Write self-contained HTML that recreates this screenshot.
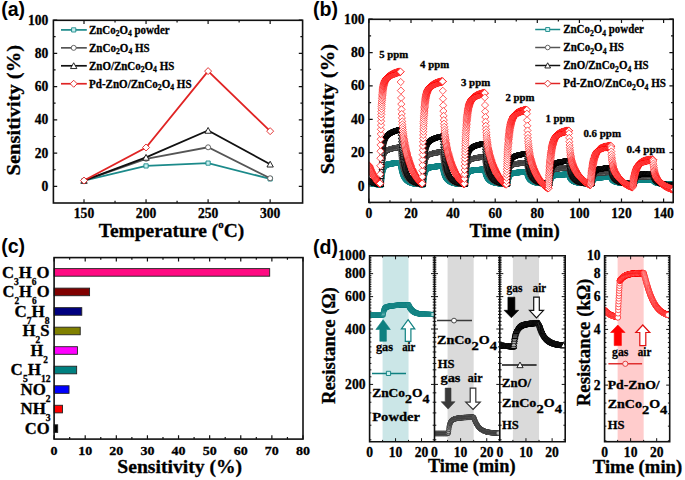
<!DOCTYPE html><html><head><meta charset="utf-8"><style>html,body{margin:0;padding:0;background:#fff;overflow:hidden}svg{display:block}</style></head><body>
<svg width="685" height="480" viewBox="0 0 685 480">
<rect width="685" height="480" fill="#fff"/>
<defs>
<marker id="mq" markerUnits="userSpaceOnUse" markerWidth="8" markerHeight="8" refX="4" refY="4" overflow="visible"><path d="M1.9 1.9h4.2v4.2h-4.2z" fill="#9fdede" stroke="#0f8585" stroke-width="0.9"/></marker>
<marker id="mc" markerUnits="userSpaceOnUse" markerWidth="8" markerHeight="8" refX="4" refY="4" overflow="visible"><circle cx="4" cy="4" r="2.3" fill="#fff" stroke="#3c3c3c" stroke-width="0.9"/></marker>
<marker id="mt" markerUnits="userSpaceOnUse" markerWidth="8" markerHeight="8" refX="4" refY="4" overflow="visible"><path d="M4 1.3l2.6 4.5h-5.2z" fill="#fff" stroke="#000" stroke-width="0.9"/></marker>
<marker id="md" markerUnits="userSpaceOnUse" markerWidth="8" markerHeight="8" refX="4" refY="4" overflow="visible"><path d="M4 0.4l3.6 3.6-3.6 3.6-3.6-3.6z" fill="#fff" stroke="#ff0000" stroke-width="0.65"/></marker>
</defs>
<path d="M84 203L84 199.2M84 20.3L84 24.1M115.03 203L115.03 200.8M115.03 20.3L115.03 22.5M146.05 203L146.05 199.2M146.05 20.3L146.05 24.1M177.07 203L177.07 200.8M177.07 20.3L177.07 22.5M208.1 203L208.1 199.2M208.1 20.3L208.1 24.1M239.12 203L239.12 200.8M239.12 20.3L239.12 22.5M270.15 203L270.15 199.2M270.15 20.3L270.15 24.1M53.4 186.4L57.2 186.4M302.6 186.4L298.8 186.4M53.4 169.76L55.6 169.76M302.6 169.76L300.4 169.76M53.4 153.13L57.2 153.13M302.6 153.13L298.8 153.13M53.4 136.49L55.6 136.49M302.6 136.49L300.4 136.49M53.4 119.86L57.2 119.86M302.6 119.86L298.8 119.86M53.4 103.22L55.6 103.22M302.6 103.22L300.4 103.22M53.4 86.58L57.2 86.58M302.6 86.58L298.8 86.58M53.4 69.95L55.6 69.95M302.6 69.95L300.4 69.95M53.4 53.31L57.2 53.31M302.6 53.31L298.8 53.31M53.4 36.68L55.6 36.68M302.6 36.68L300.4 36.68M53.4 20.04L57.2 20.04M302.6 20.04L298.8 20.04" stroke="#111" stroke-width="1.2" fill="none"/>
<rect x="53.4" y="20.3" width="249.2" height="182.7" fill="none" stroke="#111" stroke-width="1.6"/>
<text x="48.3" y="190.9" style="font-family:'Liberation Serif',serif;font-weight:bold;stroke:#000;stroke-width:0.3px;font-size:13.6px" text-anchor="end" fill="#000" >0</text>
<text x="48.3" y="157.63" style="font-family:'Liberation Serif',serif;font-weight:bold;stroke:#000;stroke-width:0.3px;font-size:13.6px" text-anchor="end" fill="#000" >20</text>
<text x="48.3" y="124.36" style="font-family:'Liberation Serif',serif;font-weight:bold;stroke:#000;stroke-width:0.3px;font-size:13.6px" text-anchor="end" fill="#000" >40</text>
<text x="48.3" y="91.08" style="font-family:'Liberation Serif',serif;font-weight:bold;stroke:#000;stroke-width:0.3px;font-size:13.6px" text-anchor="end" fill="#000" >60</text>
<text x="48.3" y="57.81" style="font-family:'Liberation Serif',serif;font-weight:bold;stroke:#000;stroke-width:0.3px;font-size:13.6px" text-anchor="end" fill="#000" >80</text>
<text x="48.3" y="24.54" style="font-family:'Liberation Serif',serif;font-weight:bold;stroke:#000;stroke-width:0.3px;font-size:13.6px" text-anchor="end" fill="#000" >100</text>
<text x="84" y="218.1" style="font-family:'Liberation Serif',serif;font-weight:bold;stroke:#000;stroke-width:0.3px;font-size:13.6px" text-anchor="middle" fill="#000" >150</text>
<text x="146.05" y="218.1" style="font-family:'Liberation Serif',serif;font-weight:bold;stroke:#000;stroke-width:0.3px;font-size:13.6px" text-anchor="middle" fill="#000" >200</text>
<text x="208.1" y="218.1" style="font-family:'Liberation Serif',serif;font-weight:bold;stroke:#000;stroke-width:0.3px;font-size:13.6px" text-anchor="middle" fill="#000" >250</text>
<text x="270.15" y="218.1" style="font-family:'Liberation Serif',serif;font-weight:bold;stroke:#000;stroke-width:0.3px;font-size:13.6px" text-anchor="middle" fill="#000" >300</text>
<text x="98.7" y="236.9" style="font-family:'Liberation Serif',serif;font-weight:bold;stroke:#000;stroke-width:0.3px;font-size:18.8px" text-anchor="start" fill="#000" textLength="145.5" lengthAdjust="spacingAndGlyphs" >Temperature (<tspan dy="-9" style="font-size:10.5px">o</tspan><tspan dy="9">C)</tspan></text>
<text transform="translate(19.6 110.2) rotate(-90)" style="font-family:'Liberation Serif',serif;font-weight:bold;stroke:#000;stroke-width:0.3px;font-size:19px" text-anchor="middle" fill="#000" textLength="130.5" lengthAdjust="spacingAndGlyphs">Sensitivity (%)</text>
<text x="1.2" y="16" style="font-family:'Liberation Sans',sans-serif;font-weight:bold;font-size:19.6px" text-anchor="start" fill="#000" >(a)</text>
<polyline points="84,180.58 146.05,165.94 208.1,163.11 270.15,178.91" fill="none" stroke="#1b8a8a" stroke-width="1.8"/>
<path d="M81.9 178.48h4.2v4.2h-4.2zM143.95 163.84h4.2v4.2h-4.2zM206 161.01h4.2v4.2h-4.2zM268.05 176.81h4.2v4.2h-4.2z" fill="#c8f0f0" stroke="#1b8a8a" stroke-width="0.9"/>
<polyline points="84,180.58 146.05,158.78 208.1,147.31 270.15,178.25" fill="none" stroke="#555555" stroke-width="1.8"/>
<path d="M81.5 180.58a2.5 2.5 0 1 0 5 0a2.5 2.5 0 1 0 -5 0zM143.55 158.78a2.5 2.5 0 1 0 5 0a2.5 2.5 0 1 0 -5 0zM205.6 147.31a2.5 2.5 0 1 0 5 0a2.5 2.5 0 1 0 -5 0zM267.65 178.25a2.5 2.5 0 1 0 5 0a2.5 2.5 0 1 0 -5 0z" fill="#ffffff" stroke="#555555" stroke-width="0.9"/>
<polyline points="84,180.58 146.05,157.45 208.1,130.5 270.15,164.27" fill="none" stroke="#111111" stroke-width="1.8"/>
<path d="M84 177.53l3.19 5.8h-6.38zM146.05 154.41l3.19 5.8h-6.38zM208.1 127.46l3.19 5.8h-6.38zM270.15 161.23l3.19 5.8h-6.38z" fill="#ffffff" stroke="#111111" stroke-width="0.9"/>
<polyline points="84,180.58 146.05,147.47 208.1,71.11 270.15,131.17" fill="none" stroke="#e02424" stroke-width="1.8"/>
<path d="M84 177.08l3.5 3.5l-3.5 3.5l-3.5 -3.5zM146.05 143.97l3.5 3.5l-3.5 3.5l-3.5 -3.5zM208.1 67.61l3.5 3.5l-3.5 3.5l-3.5 -3.5zM270.15 127.67l3.5 3.5l-3.5 3.5l-3.5 -3.5z" fill="#ffffff" stroke="#e02424" stroke-width="0.9"/>
<line x1="61" y1="29.9" x2="86.8" y2="29.9" stroke="#1b8a8a" stroke-width="1.7"/>
<path d="M71.6 27.8h4.2v4.2h-4.2z" fill="#c8f0f0" stroke="#1b8a8a" stroke-width="0.9"/>
<text x="89" y="33.7" style="font-family:'Liberation Serif',serif;font-weight:bold;stroke:#000;stroke-width:0.3px;font-size:11.7px" text-anchor="start" fill="#000" textLength="80.6" lengthAdjust="spacingAndGlyphs" >ZnCo<tspan dy="2.2" style="font-size:8.2px">2</tspan><tspan dy="-2.2">O</tspan><tspan dy="2.2" style="font-size:8.2px">4</tspan><tspan dy="-2.2"> powder</tspan></text>
<line x1="61" y1="47.85" x2="86.8" y2="47.85" stroke="#555555" stroke-width="1.7"/>
<path d="M71.2 47.85a2.5 2.5 0 1 0 5 0a2.5 2.5 0 1 0 -5 0z" fill="#ffffff" stroke="#555555" stroke-width="0.9"/>
<text x="89" y="51.65" style="font-family:'Liberation Serif',serif;font-weight:bold;stroke:#000;stroke-width:0.3px;font-size:11.7px" text-anchor="start" fill="#000" textLength="60.7" lengthAdjust="spacingAndGlyphs" >ZnCo<tspan dy="2.2" style="font-size:8.2px">2</tspan><tspan dy="-2.2">O</tspan><tspan dy="2.2" style="font-size:8.2px">4</tspan><tspan dy="-2.2"> HS</tspan></text>
<line x1="61" y1="65.8" x2="86.8" y2="65.8" stroke="#111111" stroke-width="1.7"/>
<path d="M73.7 62.75l3.19 5.8h-6.38z" fill="#ffffff" stroke="#111111" stroke-width="0.9"/>
<text x="89" y="69.6" style="font-family:'Liberation Serif',serif;font-weight:bold;stroke:#000;stroke-width:0.3px;font-size:11.7px" text-anchor="start" fill="#000" textLength="85.3" lengthAdjust="spacingAndGlyphs" >ZnO/ZnCo<tspan dy="2.2" style="font-size:8.2px">2</tspan><tspan dy="-2.2">O</tspan><tspan dy="2.2" style="font-size:8.2px">4</tspan><tspan dy="-2.2"> HS</tspan></text>
<line x1="61" y1="83.75" x2="86.8" y2="83.75" stroke="#e02424" stroke-width="1.7"/>
<path d="M73.7 80.25l3.5 3.5l-3.5 3.5l-3.5 -3.5z" fill="#ffffff" stroke="#e02424" stroke-width="0.9"/>
<text x="89" y="87.55" style="font-family:'Liberation Serif',serif;font-weight:bold;stroke:#000;stroke-width:0.3px;font-size:11.7px" text-anchor="start" fill="#000" textLength="102.6" lengthAdjust="spacingAndGlyphs" >Pd-ZnO/ZnCo<tspan dy="2.2" style="font-size:8.2px">2</tspan><tspan dy="-2.2">O</tspan><tspan dy="2.2" style="font-size:8.2px">4</tspan><tspan dy="-2.2"> HS</tspan></text>
<path d="M368.9 202.4L368.9 198.6M368.9 19.3L368.9 23.1M389.95 202.4L389.95 200.2M389.95 19.3L389.95 21.5M411 202.4L411 198.6M411 19.3L411 23.1M432.05 202.4L432.05 200.2M432.05 19.3L432.05 21.5M453.1 202.4L453.1 198.6M453.1 19.3L453.1 23.1M474.15 202.4L474.15 200.2M474.15 19.3L474.15 21.5M495.2 202.4L495.2 198.6M495.2 19.3L495.2 23.1M516.25 202.4L516.25 200.2M516.25 19.3L516.25 21.5M537.3 202.4L537.3 198.6M537.3 19.3L537.3 23.1M558.35 202.4L558.35 200.2M558.35 19.3L558.35 21.5M579.4 202.4L579.4 198.6M579.4 19.3L579.4 23.1M600.45 202.4L600.45 200.2M600.45 19.3L600.45 21.5M621.5 202.4L621.5 198.6M621.5 19.3L621.5 23.1M642.55 202.4L642.55 200.2M642.55 19.3L642.55 21.5M663.6 202.4L663.6 198.6M663.6 19.3L663.6 23.1M368.9 202.68L371.1 202.68M673.2 202.68L671 202.68M368.9 186L372.7 186M673.2 186L669.4 186M368.9 169.32L371.1 169.32M673.2 169.32L671 169.32M368.9 152.64L372.7 152.64M673.2 152.64L669.4 152.64M368.9 135.96L371.1 135.96M673.2 135.96L671 135.96M368.9 119.28L372.7 119.28M673.2 119.28L669.4 119.28M368.9 102.6L371.1 102.6M673.2 102.6L671 102.6M368.9 85.92L372.7 85.92M673.2 85.92L669.4 85.92M368.9 69.24L371.1 69.24M673.2 69.24L671 69.24M368.9 52.56L372.7 52.56M673.2 52.56L669.4 52.56M368.9 35.88L371.1 35.88M673.2 35.88L671 35.88M368.9 19.2L372.7 19.2M673.2 19.2L669.4 19.2" stroke="#111" stroke-width="1.2" fill="none"/>
<svg x="368.9" y="19.3" width="304.3" height="183.1" viewBox="368.9 19.3 304.3 183.1" overflow="hidden">
<polyline points="368.9,181.8 369.0,181.9 369.1,182.0 369.2,182.0 369.3,182.1 369.4,182.1 369.5,182.2 369.6,182.2 369.7,182.3 369.8,182.4 370.0,182.4 370.1,182.5 370.2,182.5 370.3,182.6 370.4,182.6 370.5,182.7 370.6,182.7 370.7,182.8 370.8,182.8 370.9,182.8 371.0,182.9 371.1,182.9 371.2,183.0 371.3,183.0 371.4,183.1 371.5,183.1 371.6,183.1 371.7,183.2 371.8,183.2 372.0,183.3 372.1,183.3 372.2,183.3 372.3,183.4 372.4,183.4 372.5,183.4 372.6,183.5 372.7,183.5 372.8,183.5 372.9,183.6 373.0,183.6 373.1,183.6 373.2,183.6 373.3,183.7 373.4,183.7 373.5,183.7 373.6,183.8 373.7,183.8 373.8,183.8 374.0,183.8 374.1,183.9 374.2,183.9 374.3,183.9 374.4,183.9 374.5,184.0 374.6,184.0 374.7,184.0 374.8,184.0 374.9,184.0 375.0,184.1 375.1,184.1 375.2,184.1 375.3,184.1 375.4,184.1 375.5,184.2 375.6,184.2 375.7,184.2 375.8,184.2 376.0,184.2 376.1,184.3 376.2,184.3 376.3,184.3 376.4,184.3 376.5,184.3 376.6,184.3 376.7,184.4 376.8,184.4 376.9,184.4 377.0,184.4 377.1,184.4 377.2,184.4 377.3,184.4 377.4,184.5 377.5,184.5 377.6,184.5 377.7,184.5 377.8,184.5 378.0,184.5 378.1,184.5 378.2,184.5 378.3,184.6 378.4,184.6 378.5,184.6 378.6,184.6 378.7,184.6 378.8,184.6 378.9,184.6 379.0,184.6 379.1,184.6 379.2,184.6 379.3,184.7 379.4,184.7 379.5,184.7 379.6,184.7 379.7,184.7 379.8,184.7 380.0,184.7 380.1,184.7 380.2,184.7 380.3,184.7 380.4,184.7 380.5,184.7 380.6,184.7 380.7,184.7 380.8,184.7 380.9,184.7 381.0,184.7 381.1,184.7 381.2,184.7 381.3,184.7 381.4,182.9 381.5,181.3 381.6,179.8 381.7,178.5 381.8,177.3 382.0,176.2 382.1,175.2 382.2,174.3 382.3,173.5 382.4,172.7 382.5,172.0 382.6,171.4 382.7,170.9 382.8,170.4 382.9,169.9 383.0,169.5 383.1,169.1 383.2,168.7 383.3,168.4 383.4,168.1 383.5,167.8 383.6,167.6 383.7,167.4 383.8,167.1 384.0,166.9 384.1,166.8 384.2,166.6 384.3,166.5 384.4,166.3 384.5,166.2 384.6,166.1 384.7,166.0 384.8,165.9 384.9,165.8 385.0,165.7 385.1,165.6 385.2,165.5 385.3,165.4 385.4,165.4 385.5,165.3 385.6,165.2 385.7,165.2 385.8,165.1 386.0,165.1 386.1,165.0 386.2,165.0 386.3,164.9 386.4,164.9 386.5,164.8 386.6,164.8 386.7,164.8 386.8,164.7 386.9,164.7 387.0,164.6 387.1,164.6 387.2,164.6 387.3,164.5 387.4,164.5 387.5,164.5 387.6,164.5 387.7,164.4 387.8,164.4 388.0,164.4 388.1,164.3 388.2,164.3 388.3,164.3 388.4,164.3 388.5,164.2 388.6,164.2 388.7,164.2 388.8,164.2 388.9,164.1 389.0,164.1 389.1,164.1 389.2,164.1 389.3,164.0 389.4,164.0 389.5,164.0 389.6,164.0 389.7,164.0 389.8,163.9 389.9,163.9 390.1,163.9 390.2,163.9 390.3,163.9 390.4,163.8 390.5,163.8 390.6,163.8 390.7,163.8 390.8,163.8 390.9,163.7 391.0,163.7 391.1,163.7 391.2,163.7 391.3,163.7 391.4,163.7 391.5,163.6 391.6,163.6 391.7,163.6 391.8,163.6 391.9,163.6 392.1,163.6 392.2,163.5 392.3,163.5 392.4,163.5 392.5,163.5 392.6,163.5 392.7,163.5 392.8,163.4 392.9,163.4 393.0,163.4 393.1,163.4 393.2,163.4 393.3,163.4 393.4,163.4 393.5,163.3 393.6,163.3 393.7,163.3 393.8,163.3 393.9,163.3 394.1,163.3 394.2,163.3 394.3,163.2 394.4,163.2 394.5,163.2 394.6,163.2 394.7,163.2 394.8,163.2 394.9,163.2 395.0,163.2 395.1,163.1 395.2,163.1 395.3,163.1 395.4,163.1 395.5,163.1 395.6,163.1 395.7,163.1 395.8,163.1 395.9,163.0 396.1,163.0 396.2,163.0 396.3,163.0 396.4,163.0 396.5,163.0 396.6,163.0 396.7,163.0 396.8,163.0 396.9,162.9 397.0,162.9 397.1,162.9 397.2,162.9 397.3,162.9 397.4,162.9 397.5,162.9 397.6,162.9 397.7,162.9 397.8,162.9 397.9,162.8 398.1,162.8 398.2,162.8 398.3,162.8 398.4,162.8 398.5,162.8 398.6,162.8 398.7,162.8 398.8,162.8 398.9,162.8 399.0,162.8 399.1,162.8 399.2,162.7 399.3,162.7 399.4,162.7 399.5,162.7 399.6,162.7 399.7,162.7 399.8,162.7 399.9,162.7 400.1,162.7 400.2,162.7 400.3,162.7 400.4,162.7 400.5,162.6 400.6,163.5 400.7,164.3 400.8,165.0 400.9,165.7 401.0,166.3 401.1,167.0 401.2,167.5 401.3,168.1 401.4,168.6 401.5,169.1 401.6,169.6 401.7,170.1 401.8,170.5 401.9,170.9 402.1,171.3 402.2,171.7 402.3,172.0 402.4,172.4 402.5,172.7 402.6,173.0 402.7,173.3 402.8,173.6 402.9,173.9 403.0,174.1 403.1,174.4 403.2,174.7 403.3,174.9 403.4,175.1 403.5,175.3 403.6,175.6 403.7,175.8 403.8,176.0 403.9,176.2 404.1,176.4 404.2,176.5 404.3,176.7 404.4,176.9 404.5,177.1 404.6,177.2 404.7,177.4 404.8,177.6 404.9,177.7 405.0,177.9 405.1,178.0 405.2,178.1 405.3,178.3 405.4,178.4 405.5,178.5 405.6,178.7 405.7,178.8 405.8,178.9 405.9,179.0 406.1,179.1 406.2,179.3 406.3,179.4 406.4,179.5 406.5,179.6 406.6,179.7 406.7,179.8 406.8,179.9 406.9,180.0 407.0,180.1 407.1,180.2 407.2,180.3 407.3,180.4 407.4,180.4 407.5,180.5 407.6,180.6 407.7,180.7 407.8,180.8 407.9,180.8 408.1,180.9 408.2,181.0 408.3,181.1 408.4,181.1 408.5,181.2 408.6,181.3 408.7,181.4 408.8,181.4 408.9,181.5 409.0,181.6 409.1,181.6 409.2,181.7 409.3,181.7 409.4,181.8 409.5,181.9 409.6,181.9 409.7,182.0 409.8,182.0 409.9,182.1 410.1,182.1 410.2,182.2 410.3,182.2 410.4,182.3 410.5,182.3 410.6,182.4 410.7,182.4 410.8,182.5 410.9,182.5 411.0,182.6 411.1,182.6 411.2,182.6 411.3,182.7 411.4,182.7 411.5,182.8 411.6,182.8 411.7,182.8 411.8,182.9 411.9,182.9 412.1,183.0 412.2,183.0 412.3,183.0 412.4,183.1 412.5,183.1 412.6,183.1 412.7,183.2 412.8,183.2 412.9,183.2 413.0,183.3 413.1,183.3 413.2,183.3 413.3,183.3 413.4,183.4 413.5,183.4 413.6,183.4 413.7,183.5 413.8,183.5 413.9,183.5 414.1,183.5 414.2,183.6 414.3,183.6 414.4,183.6 414.5,183.6 414.6,183.7 414.7,183.7 414.8,183.7 414.9,183.7 415.0,183.7 415.1,183.8 415.2,183.8 415.3,183.8 415.4,183.8 415.5,183.8 415.6,183.9 415.7,183.9 415.8,183.9 415.9,183.9 416.1,183.9 416.2,183.9 416.3,184.0 416.4,184.0 416.5,184.0 416.6,184.0 416.7,184.0 416.8,184.0 416.9,184.1 417.0,184.1 417.1,184.1 417.2,184.1 417.3,184.1 417.4,184.1 417.5,184.1 417.6,184.2 417.7,184.2 417.8,184.2 417.9,184.2 418.1,184.2 418.2,184.2 418.3,184.2 418.4,184.2 418.5,184.3 418.6,184.3 418.7,184.3 418.8,184.3 418.9,184.3 419.0,184.3 419.1,184.3 419.2,184.3 419.3,184.3 419.4,184.3 419.5,184.4 419.6,184.4 419.7,184.4 419.8,184.4 419.9,184.4 420.1,184.4 420.2,184.4 420.3,184.4 420.4,184.4 420.5,184.4 420.6,184.4 420.7,184.4 420.8,184.5 420.9,184.5 421.0,184.5 421.1,184.5 421.2,184.5 421.3,184.5 421.4,184.5 421.5,184.5 421.6,184.5 421.7,184.5 421.8,184.5 421.9,184.5 422.1,184.5 422.2,184.5 422.3,184.5 422.4,184.5 422.5,184.5 422.6,184.5 422.7,184.5 422.8,184.5 422.9,184.5 423.0,184.5 423.1,184.5 423.2,184.5 423.3,184.5 423.4,184.5 423.5,183.0 423.6,181.6 423.7,180.4 423.8,179.3 423.9,178.3 424.1,177.4 424.2,176.5 424.3,175.8 424.4,175.1 424.5,174.5 424.6,173.9 424.7,173.4 424.8,172.9 424.9,172.5 425.0,172.1 425.1,171.7 425.2,171.4 425.3,171.1 425.4,170.8 425.5,170.6 425.6,170.3 425.7,170.1 425.8,169.9 425.9,169.8 426.1,169.6 426.2,169.5 426.3,169.3 426.4,169.2 426.5,169.1 426.6,169.0 426.7,168.9 426.8,168.8 426.9,168.7 427.0,168.6 427.1,168.5 427.2,168.5 427.3,168.4 427.4,168.3 427.5,168.3 427.6,168.2 427.7,168.2 427.8,168.1 427.9,168.1 428.1,168.0 428.2,168.0 428.3,167.9 428.4,167.9 428.5,167.9 428.6,167.8 428.7,167.8 428.8,167.8 428.9,167.7 429.0,167.7 429.1,167.7 429.2,167.6 429.3,167.6 429.4,167.6 429.5,167.6 429.6,167.5 429.7,167.5 429.8,167.5 429.9,167.5 430.1,167.4 430.2,167.4 430.3,167.4 430.4,167.4 430.5,167.3 430.6,167.3 430.7,167.3 430.8,167.3 430.9,167.3 431.0,167.2 431.1,167.2 431.2,167.2 431.3,167.2 431.4,167.2 431.5,167.1 431.6,167.1 431.7,167.1 431.8,167.1 431.9,167.1 432.1,167.1 432.2,167.0 432.3,167.0 432.4,167.0 432.5,167.0 432.6,167.0 432.7,167.0 432.8,166.9 432.9,166.9 433.0,166.9 433.1,166.9 433.2,166.9 433.3,166.9 433.4,166.8 433.5,166.8 433.6,166.8 433.7,166.8 433.8,166.8 433.9,166.8 434.0,166.8 434.2,166.7 434.3,166.7 434.4,166.7 434.5,166.7 434.6,166.7 434.7,166.7 434.8,166.7 434.9,166.7 435.0,166.6 435.1,166.6 435.2,166.6 435.3,166.6 435.4,166.6 435.5,166.6 435.6,166.6 435.7,166.6 435.8,166.5 435.9,166.5 436.0,166.5 436.2,166.5 436.3,166.5 436.4,166.5 436.5,166.5 436.6,166.5 436.7,166.4 436.8,166.4 436.9,166.4 437.0,166.4 437.1,166.4 437.2,166.4 437.3,166.4 437.4,166.4 437.5,166.4 437.6,166.4 437.7,166.3 437.8,166.3 437.9,166.3 438.0,166.3 438.2,166.3 438.3,166.3 438.4,166.3 438.5,166.3 438.6,166.3 438.7,166.3 438.8,166.3 438.9,166.2 439.0,166.2 439.1,166.2 439.2,166.2 439.3,166.2 439.4,166.2 439.5,166.2 439.6,166.2 439.7,166.2 439.8,166.2 439.9,166.2 440.0,166.2 440.2,166.1 440.3,166.1 440.4,166.1 440.5,166.1 440.6,166.1 440.7,166.1 440.8,166.1 440.9,166.1 441.0,166.1 441.1,166.1 441.2,166.1 441.3,166.1 441.4,166.1 441.5,166.0 441.6,166.0 441.7,166.0 441.8,166.0 441.9,166.0 442.0,166.0 442.2,166.0 442.3,166.0 442.4,166.0 442.5,166.0 442.6,166.0 442.7,166.7 442.8,167.3 442.9,168.0 443.0,168.5 443.1,169.1 443.2,169.6 443.3,170.1 443.4,170.6 443.5,171.0 443.6,171.4 443.7,171.8 443.8,172.2 443.9,172.6 444.0,172.9 444.2,173.2 444.3,173.6 444.4,173.9 444.5,174.1 444.6,174.4 444.7,174.7 444.8,174.9 444.9,175.2 445.0,175.4 445.1,175.6 445.2,175.9 445.3,176.1 445.4,176.3 445.5,176.5 445.6,176.6 445.7,176.8 445.8,177.0 445.9,177.2 446.0,177.3 446.2,177.5 446.3,177.7 446.4,177.8 446.5,178.0 446.6,178.1 446.7,178.2 446.8,178.4 446.9,178.5 447.0,178.6 447.1,178.8 447.2,178.9 447.3,179.0 447.4,179.1 447.5,179.2 447.6,179.3 447.7,179.4 447.8,179.5 447.9,179.6 448.0,179.7 448.2,179.8 448.3,179.9 448.4,180.0 448.5,180.1 448.6,180.2 448.7,180.3 448.8,180.4 448.9,180.5 449.0,180.5 449.1,180.6 449.2,180.7 449.3,180.8 449.4,180.9 449.5,180.9 449.6,181.0 449.7,181.1 449.8,181.1 449.9,181.2 450.0,181.3 450.2,181.3 450.3,181.4 450.4,181.5 450.5,181.5 450.6,181.6 450.7,181.6 450.8,181.7 450.9,181.7 451.0,181.8 451.1,181.9 451.2,181.9 451.3,182.0 451.4,182.0 451.5,182.1 451.6,182.1 451.7,182.2 451.8,182.2 451.9,182.3 452.0,182.3 452.2,182.3 452.3,182.4 452.4,182.4 452.5,182.5 452.6,182.5 452.7,182.6 452.8,182.6 452.9,182.6 453.0,182.7 453.1,182.7 453.2,182.7 453.3,182.8 453.4,182.8 453.5,182.8 453.6,182.9 453.7,182.9 453.8,182.9 453.9,183.0 454.0,183.0 454.2,183.0 454.3,183.1 454.4,183.1 454.5,183.1 454.6,183.2 454.7,183.2 454.8,183.2 454.9,183.2 455.0,183.3 455.1,183.3 455.2,183.3 455.3,183.3 455.4,183.4 455.5,183.4 455.6,183.4 455.7,183.4 455.8,183.5 455.9,183.5 456.0,183.5 456.2,183.5 456.3,183.5 456.4,183.6 456.5,183.6 456.6,183.6 456.7,183.6 456.8,183.6 456.9,183.7 457.0,183.7 457.1,183.7 457.2,183.7 457.3,183.7 457.4,183.7 457.5,183.8 457.6,183.8 457.7,183.8 457.8,183.8 457.9,183.8 458.0,183.8 458.2,183.9 458.3,183.9 458.4,183.9 458.5,183.9 458.6,183.9 458.7,183.9 458.8,183.9 458.9,183.9 459.0,184.0 459.1,184.0 459.2,184.0 459.3,184.0 459.4,184.0 459.5,184.0 459.6,184.0 459.7,184.0 459.8,184.1 459.9,184.1 460.0,184.1 460.2,184.1 460.3,184.1 460.4,184.1 460.5,184.1 460.6,184.1 460.7,184.1 460.8,184.1 460.9,184.2 461.0,184.2 461.1,184.2 461.2,184.2 461.3,184.2 461.4,184.2 461.5,184.2 461.6,184.2 461.7,184.2 461.8,184.2 461.9,184.2 462.0,184.2 462.2,184.2 462.3,184.3 462.4,184.3 462.5,184.3 462.6,184.3 462.7,184.3 462.8,184.3 462.9,184.3 463.0,184.3 463.1,184.3 463.2,184.3 463.3,184.3 463.4,184.3 463.5,184.3 463.6,184.3 463.7,184.3 463.8,184.3 463.9,184.3 464.0,184.3 464.2,184.3 464.3,184.3 464.4,184.3 464.5,184.3 464.6,184.3 464.7,184.3 464.8,184.3 464.9,184.3 465.0,184.3 465.1,184.3 465.2,184.3 465.3,184.3 465.4,184.3 465.5,184.3 465.6,183.1 465.7,182.0 465.8,181.0 465.9,180.1 466.0,179.3 466.2,178.6 466.3,177.9 466.4,177.3 466.5,176.7 466.6,176.2 466.7,175.7 466.8,175.3 466.9,174.9 467.0,174.6 467.1,174.3 467.2,174.0 467.3,173.7 467.4,173.5 467.5,173.2 467.6,173.0 467.7,172.9 467.8,172.7 467.9,172.5 468.0,172.4 468.2,172.3 468.3,172.1 468.4,172.0 468.5,171.9 468.6,171.8 468.7,171.7 468.8,171.7 468.9,171.6 469.0,171.5 469.1,171.4 469.2,171.4 469.3,171.3 469.4,171.3 469.5,171.2 469.6,171.2 469.7,171.1 469.8,171.1 469.9,171.0 470.0,171.0 470.2,171.0 470.3,170.9 470.4,170.9 470.5,170.9 470.6,170.8 470.7,170.8 470.8,170.8 470.9,170.8 471.0,170.7 471.1,170.7 471.2,170.7 471.3,170.7 471.4,170.6 471.5,170.6 471.6,170.6 471.7,170.6 471.8,170.6 471.9,170.5 472.0,170.5 472.2,170.5 472.3,170.5 472.4,170.5 472.5,170.4 472.6,170.4 472.7,170.4 472.8,170.4 472.9,170.4 473.0,170.4 473.1,170.3 473.2,170.3 473.3,170.3 473.4,170.3 473.5,170.3 473.6,170.3 473.7,170.2 473.8,170.2 473.9,170.2 474.0,170.2 474.1,170.2 474.3,170.2 474.4,170.2 474.5,170.1 474.6,170.1 474.7,170.1 474.8,170.1 474.9,170.1 475.0,170.1 475.1,170.1 475.2,170.1 475.3,170.0 475.4,170.0 475.5,170.0 475.6,170.0 475.7,170.0 475.8,170.0 475.9,170.0 476.0,170.0 476.1,169.9 476.3,169.9 476.4,169.9 476.5,169.9 476.6,169.9 476.7,169.9 476.8,169.9 476.9,169.9 477.0,169.9 477.1,169.9 477.2,169.8 477.3,169.8 477.4,169.8 477.5,169.8 477.6,169.8 477.7,169.8 477.8,169.8 477.9,169.8 478.0,169.8 478.1,169.8 478.3,169.7 478.4,169.7 478.5,169.7 478.6,169.7 478.7,169.7 478.8,169.7 478.9,169.7 479.0,169.7 479.1,169.7 479.2,169.7 479.3,169.7 479.4,169.6 479.5,169.6 479.6,169.6 479.7,169.6 479.8,169.6 479.9,169.6 480.0,169.6 480.1,169.6 480.3,169.6 480.4,169.6 480.5,169.6 480.6,169.6 480.7,169.6 480.8,169.5 480.9,169.5 481.0,169.5 481.1,169.5 481.2,169.5 481.3,169.5 481.4,169.5 481.5,169.5 481.6,169.5 481.7,169.5 481.8,169.5 481.9,169.5 482.0,169.5 482.1,169.5 482.3,169.5 482.4,169.4 482.5,169.4 482.6,169.4 482.7,169.4 482.8,169.4 482.9,169.4 483.0,169.4 483.1,169.4 483.2,169.4 483.3,169.4 483.4,169.4 483.5,169.4 483.6,169.4 483.7,169.4 483.8,169.4 483.9,169.4 484.0,169.4 484.1,169.3 484.3,169.3 484.4,169.3 484.5,169.3 484.6,169.3 484.7,169.3 484.8,169.9 484.9,170.4 485.0,170.9 485.1,171.4 485.2,171.8 485.3,172.2 485.4,172.6 485.5,173.0 485.6,173.3 485.7,173.7 485.8,174.0 485.9,174.3 486.0,174.6 486.1,174.9 486.3,175.1 486.4,175.4 486.5,175.6 486.6,175.8 486.7,176.1 486.8,176.3 486.9,176.5 487.0,176.7 487.1,176.9 487.2,177.0 487.3,177.2 487.4,177.4 487.5,177.5 487.6,177.7 487.7,177.9 487.8,178.0 487.9,178.1 488.0,178.3 488.1,178.4 488.3,178.5 488.4,178.7 488.5,178.8 488.6,178.9 488.7,179.0 488.8,179.1 488.9,179.2 489.0,179.3 489.1,179.4 489.2,179.5 489.3,179.6 489.4,179.7 489.5,179.8 489.6,179.9 489.7,180.0 489.8,180.1 489.9,180.2 490.0,180.2 490.1,180.3 490.3,180.4 490.4,180.5 490.5,180.6 490.6,180.6 490.7,180.7 490.8,180.8 490.9,180.8 491.0,180.9 491.1,181.0 491.2,181.0 491.3,181.1 491.4,181.2 491.5,181.2 491.6,181.3 491.7,181.3 491.8,181.4 491.9,181.4 492.0,181.5 492.1,181.5 492.3,181.6 492.4,181.6 492.5,181.7 492.6,181.7 492.7,181.8 492.8,181.8 492.9,181.9 493.0,181.9 493.1,182.0 493.2,182.0 493.3,182.1 493.4,182.1 493.5,182.1 493.6,182.2 493.7,182.2 493.8,182.3 493.9,182.3 494.0,182.3 494.1,182.4 494.3,182.4 494.4,182.4 494.5,182.5 494.6,182.5 494.7,182.5 494.8,182.6 494.9,182.6 495.0,182.6 495.1,182.7 495.2,182.7 495.3,182.7 495.4,182.8 495.5,182.8 495.6,182.8 495.7,182.8 495.8,182.9 495.9,182.9 496.0,182.9 496.1,182.9 496.3,183.0 496.4,183.0 496.5,183.0 496.6,183.0 496.7,183.1 496.8,183.1 496.9,183.1 497.0,183.1 497.1,183.1 497.2,183.2 497.3,183.2 497.4,183.2 497.5,183.2 497.6,183.2 497.7,183.3 497.8,183.3 497.9,183.3 498.0,183.3 498.1,183.3 498.3,183.3 498.4,183.4 498.5,183.4 498.6,183.4 498.7,183.4 498.8,183.4 498.9,183.4 499.0,183.5 499.1,183.5 499.2,183.5 499.3,183.5 499.4,183.5 499.5,183.5 499.6,183.5 499.7,183.6 499.8,183.6 499.9,183.6 500.0,183.6 500.1,183.6 500.3,183.6 500.4,183.6 500.5,183.6 500.6,183.6 500.7,183.7 500.8,183.7 500.9,183.7 501.0,183.7 501.1,183.7 501.2,183.7 501.3,183.7 501.4,183.7 501.5,183.7 501.6,183.7 501.7,183.8 501.8,183.8 501.9,183.8 502.0,183.8 502.1,183.8 502.3,183.8 502.4,183.8 502.5,183.8 502.6,183.8 502.7,183.8 502.8,183.8 502.9,183.8 503.0,183.9 503.1,183.9 503.2,183.9 503.3,183.9 503.4,183.9 503.5,183.9 503.6,183.9 503.7,183.9 503.8,183.9 503.9,183.9 504.0,183.9 504.1,183.9 504.3,183.9 504.4,183.9 504.5,183.9 504.6,183.9 504.7,184.0 504.8,184.0 504.9,184.0 505.0,184.0 505.1,184.0 505.2,184.0 505.3,184.0 505.4,184.0 505.5,184.0 505.6,184.0 505.7,184.0 505.8,184.0 505.9,184.0 506.0,184.0 506.1,184.0 506.3,184.0 506.4,184.0 506.5,184.0 506.6,184.0 506.7,184.0 506.8,184.0 506.9,184.0 507.0,184.0 507.1,184.0 507.2,184.0 507.3,184.0 507.4,184.0 507.5,184.0 507.6,184.0 507.7,183.0 507.8,182.1 507.9,181.4 508.0,180.6 508.1,180.0 508.3,179.4 508.4,178.8 508.5,178.3 508.6,177.9 508.7,177.5 508.8,177.1 508.9,176.8 509.0,176.5 509.1,176.2 509.2,175.9 509.3,175.7 509.4,175.5 509.5,175.3 509.6,175.1 509.7,175.0 509.8,174.8 509.9,174.7 510.0,174.6 510.1,174.4 510.3,174.3 510.4,174.2 510.5,174.1 510.6,174.1 510.7,174.0 510.8,173.9 510.9,173.9 511.0,173.8 511.1,173.7 511.2,173.7 511.3,173.6 511.4,173.6 511.5,173.5 511.6,173.5 511.7,173.5 511.8,173.4 511.9,173.4 512.0,173.4 512.1,173.3 512.3,173.3 512.4,173.3 512.5,173.3 512.6,173.2 512.7,173.2 512.8,173.2 512.9,173.2 513.0,173.1 513.1,173.1 513.2,173.1 513.3,173.1 513.4,173.1 513.5,173.0 513.6,173.0 513.7,173.0 513.8,173.0 513.9,173.0 514.0,173.0 514.1,172.9 514.3,172.9 514.4,172.9 514.5,172.9 514.6,172.9 514.7,172.9 514.8,172.9 514.9,172.8 515.0,172.8 515.1,172.8 515.2,172.8 515.3,172.8 515.4,172.8 515.5,172.8 515.6,172.8 515.7,172.7 515.8,172.7 515.9,172.7 516.0,172.7 516.1,172.7 516.2,172.7 516.4,172.7 516.5,172.7 516.6,172.6 516.7,172.6 516.8,172.6 516.9,172.6 517.0,172.6 517.1,172.6 517.2,172.6 517.3,172.6 517.4,172.6 517.5,172.6 517.6,172.5 517.7,172.5 517.8,172.5 517.9,172.5 518.0,172.5 518.1,172.5 518.2,172.5 518.4,172.5 518.5,172.5 518.6,172.5 518.7,172.5 518.8,172.4 518.9,172.4 519.0,172.4 519.1,172.4 519.2,172.4 519.3,172.4 519.4,172.4 519.5,172.4 519.6,172.4 519.7,172.4 519.8,172.4 519.9,172.4 520.0,172.3 520.1,172.3 520.2,172.3 520.4,172.3 520.5,172.3 520.6,172.3 520.7,172.3 520.8,172.3 520.9,172.3 521.0,172.3 521.1,172.3 521.2,172.3 521.3,172.3 521.4,172.3 521.5,172.2 521.6,172.2 521.7,172.2 521.8,172.2 521.9,172.2 522.0,172.2 522.1,172.2 522.2,172.2 522.4,172.2 522.5,172.2 522.6,172.2 522.7,172.2 522.8,172.2 522.9,172.2 523.0,172.2 523.1,172.2 523.2,172.2 523.3,172.1 523.4,172.1 523.5,172.1 523.6,172.1 523.7,172.1 523.8,172.1 523.9,172.1 524.0,172.1 524.1,172.1 524.2,172.1 524.4,172.1 524.5,172.1 524.6,172.1 524.7,172.1 524.8,172.1 524.9,172.1 525.0,172.1 525.1,172.1 525.2,172.1 525.3,172.0 525.4,172.0 525.5,172.0 525.6,172.0 525.7,172.0 525.8,172.0 525.9,172.0 526.0,172.0 526.1,172.0 526.2,172.0 526.4,172.0 526.5,172.0 526.6,172.0 526.7,172.0 526.8,172.0 526.9,172.4 527.0,172.9 527.1,173.3 527.2,173.6 527.3,174.0 527.4,174.3 527.5,174.6 527.6,174.9 527.7,175.2 527.8,175.5 527.9,175.8 528.0,176.0 528.1,176.2 528.2,176.5 528.4,176.7 528.5,176.9 528.6,177.1 528.7,177.3 528.8,177.4 528.9,177.6 529.0,177.8 529.1,177.9 529.2,178.1 529.3,178.2 529.4,178.4 529.5,178.5 529.6,178.6 529.7,178.7 529.8,178.9 529.9,179.0 530.0,179.1 530.1,179.2 530.2,179.3 530.4,179.4 530.5,179.5 530.6,179.6 530.7,179.7 530.8,179.8 530.9,179.9 531.0,180.0 531.1,180.1 531.2,180.1 531.3,180.2 531.4,180.3 531.5,180.4 531.6,180.5 531.7,180.5 531.8,180.6 531.9,180.7 532.0,180.7 532.1,180.8 532.2,180.9 532.4,180.9 532.5,181.0 532.6,181.1 532.7,181.1 532.8,181.2 532.9,181.2 533.0,181.3 533.1,181.3 533.2,181.4 533.3,181.4 533.4,181.5 533.5,181.5 533.6,181.6 533.7,181.6 533.8,181.7 533.9,181.7 534.0,181.8 534.1,181.8 534.2,181.9 534.4,181.9 534.5,181.9 534.6,182.0 534.7,182.0 534.8,182.1 534.9,182.1 535.0,182.1 535.1,182.2 535.2,182.2 535.3,182.2 535.4,182.3 535.5,182.3 535.6,182.3 535.7,182.4 535.8,182.4 535.9,182.4 536.0,182.5 536.1,182.5 536.2,182.5 536.4,182.5 536.5,182.6 536.6,182.6 536.7,182.6 536.8,182.7 536.9,182.7 537.0,182.7 537.1,182.7 537.2,182.8 537.3,182.8 537.4,182.8 537.5,182.8 537.6,182.8 537.7,182.9 537.8,182.9 537.9,182.9 538.0,182.9 538.1,183.0 538.2,183.0 538.4,183.0 538.5,183.0 538.6,183.0 538.7,183.1 538.8,183.1 538.9,183.1 539.0,183.1 539.1,183.1 539.2,183.1 539.3,183.2 539.4,183.2 539.5,183.2 539.6,183.2 539.7,183.2 539.8,183.2 539.9,183.3 540.0,183.3 540.1,183.3 540.2,183.3 540.4,183.3 540.5,183.3 540.6,183.3 540.7,183.3 540.8,183.4 540.9,183.4 541.0,183.4 541.1,183.4 541.2,183.4 541.3,183.4 541.4,183.4 541.5,183.4 541.6,183.5 541.7,183.5 541.8,183.5 541.9,183.5 542.0,183.5 542.1,183.5 542.2,183.5 542.4,183.5 542.5,183.5 542.6,183.5 542.7,183.6 542.8,183.6 542.9,183.6 543.0,183.6 543.1,183.6 543.2,183.6 543.3,183.6 543.4,183.6 543.5,183.6 543.6,183.6 543.7,183.6 543.8,183.6 543.9,183.6 544.0,183.7 544.1,183.7 544.2,183.7 544.4,183.7 544.5,183.7 544.6,183.7 544.7,183.7 544.8,183.7 544.9,183.7 545.0,183.7 545.1,183.7 545.2,183.7 545.3,183.7 545.4,183.7 545.5,183.7 545.6,183.7 545.7,183.7 545.8,183.8 545.9,183.8 546.0,183.8 546.1,183.8 546.2,183.8 546.4,183.8 546.5,183.8 546.6,183.8 546.7,183.8 546.8,183.8 546.9,183.8 547.0,183.8 547.1,183.8 547.2,183.8 547.3,183.8 547.4,183.8 547.5,183.8 547.6,183.8 547.7,183.8 547.8,183.8 547.9,183.8 548.0,183.8 548.1,183.8 548.2,183.8 548.4,183.8 548.5,183.8 548.6,183.8 548.7,183.8 548.8,183.8 548.9,183.8 549.0,183.8 549.1,183.8 549.2,183.8 549.3,183.8 549.4,183.8 549.5,183.8 549.6,183.8 549.7,183.8 549.8,183.1 549.9,182.4 550.0,181.7 550.1,181.2 550.2,180.6 550.4,180.2 550.5,179.7 550.6,179.4 550.7,179.0 550.8,178.7 550.9,178.4 551.0,178.1 551.1,177.9 551.2,177.7 551.3,177.5 551.4,177.3 551.5,177.1 551.6,176.9 551.7,176.8 551.8,176.7 551.9,176.6 552.0,176.5 552.1,176.4 552.2,176.3 552.4,176.2 552.5,176.1 552.6,176.0 552.7,176.0 552.8,175.9 552.9,175.9 553.0,175.8 553.1,175.8 553.2,175.7 553.3,175.7 553.4,175.6 553.5,175.6 553.6,175.6 553.7,175.5 553.8,175.5 553.9,175.5 554.0,175.4 554.1,175.4 554.2,175.4 554.4,175.4 554.5,175.3 554.6,175.3 554.7,175.3 554.8,175.3 554.9,175.3 555.0,175.3 555.1,175.2 555.2,175.2 555.3,175.2 555.4,175.2 555.5,175.2 555.6,175.2 555.7,175.1 555.8,175.1 555.9,175.1 556.0,175.1 556.1,175.1 556.2,175.1 556.4,175.1 556.5,175.1 556.6,175.0 556.7,175.0 556.8,175.0 556.9,175.0 557.0,175.0 557.1,175.0 557.2,175.0 557.3,175.0 557.4,175.0 557.5,174.9 557.6,174.9 557.7,174.9 557.8,174.9 557.9,174.9 558.0,174.9 558.1,174.9 558.2,174.9 558.3,174.9 558.5,174.9 558.6,174.9 558.7,174.8 558.8,174.8 558.9,174.8 559.0,174.8 559.1,174.8 559.2,174.8 559.3,174.8 559.4,174.8 559.5,174.8 559.6,174.8 559.7,174.8 559.8,174.8 559.9,174.8 560.0,174.7 560.1,174.7 560.2,174.7 560.3,174.7 560.5,174.7 560.6,174.7 560.7,174.7 560.8,174.7 560.9,174.7 561.0,174.7 561.1,174.7 561.2,174.7 561.3,174.7 561.4,174.7 561.5,174.6 561.6,174.6 561.7,174.6 561.8,174.6 561.9,174.6 562.0,174.6 562.1,174.6 562.2,174.6 562.3,174.6 562.5,174.6 562.6,174.6 562.7,174.6 562.8,174.6 562.9,174.6 563.0,174.6 563.1,174.6 563.2,174.6 563.3,174.5 563.4,174.5 563.5,174.5 563.6,174.5 563.7,174.5 563.8,174.5 563.9,174.5 564.0,174.5 564.1,174.5 564.2,174.5 564.3,174.5 564.5,174.5 564.6,174.5 564.7,174.5 564.8,174.5 564.9,174.5 565.0,174.5 565.1,174.5 565.2,174.5 565.3,174.5 565.4,174.4 565.5,174.4 565.6,174.4 565.7,174.4 565.8,174.4 565.9,174.4 566.0,174.4 566.1,174.4 566.2,174.4 566.3,174.4 566.5,174.4 566.6,174.4 566.7,174.4 566.8,174.4 566.9,174.4 567.0,174.4 567.1,174.4 567.2,174.4 567.3,174.4 567.4,174.4 567.5,174.4 567.6,174.4 567.7,174.4 567.8,174.4 567.9,174.4 568.0,174.4 568.1,174.3 568.2,174.3 568.3,174.3 568.5,174.3 568.6,174.3 568.7,174.3 568.8,174.3 568.9,174.3 569.0,174.7 569.1,175.0 569.2,175.3 569.3,175.6 569.4,175.9 569.5,176.2 569.6,176.4 569.7,176.7 569.8,176.9 569.9,177.1 570.0,177.3 570.1,177.5 570.2,177.7 570.3,177.8 570.5,178.0 570.6,178.2 570.7,178.3 570.8,178.5 570.9,178.6 571.0,178.8 571.1,178.9 571.2,179.0 571.3,179.1 571.4,179.2 571.5,179.3 571.6,179.5 571.7,179.6 571.8,179.7 571.9,179.8 572.0,179.8 572.1,179.9 572.2,180.0 572.3,180.1 572.5,180.2 572.6,180.3 572.7,180.3 572.8,180.4 572.9,180.5 573.0,180.6 573.1,180.6 573.2,180.7 573.3,180.8 573.4,180.8 573.5,180.9 573.6,180.9 573.7,181.0 573.8,181.1 573.9,181.1 574.0,181.2 574.1,181.2 574.2,181.3 574.3,181.3 574.5,181.4 574.6,181.4 574.7,181.5 574.8,181.5 574.9,181.6 575.0,181.6 575.1,181.7 575.2,181.7 575.3,181.7 575.4,181.8 575.5,181.8 575.6,181.9 575.7,181.9 575.8,181.9 575.9,182.0 576.0,182.0 576.1,182.0 576.2,182.1 576.3,182.1 576.5,182.1 576.6,182.2 576.7,182.2 576.8,182.2 576.9,182.3 577.0,182.3 577.1,182.3 577.2,182.3 577.3,182.4 577.4,182.4 577.5,182.4 577.6,182.5 577.7,182.5 577.8,182.5 577.9,182.5 578.0,182.6 578.1,182.6 578.2,182.6 578.3,182.6 578.5,182.7 578.6,182.7 578.7,182.7 578.8,182.7 578.9,182.7 579.0,182.8 579.1,182.8 579.2,182.8 579.3,182.8 579.4,182.8 579.5,182.9 579.6,182.9 579.7,182.9 579.8,182.9 579.9,182.9 580.0,182.9 580.1,183.0 580.2,183.0 580.3,183.0 580.5,183.0 580.6,183.0 580.7,183.0 580.8,183.1 580.9,183.1 581.0,183.1 581.1,183.1 581.2,183.1 581.3,183.1 581.4,183.1 581.5,183.1 581.6,183.2 581.7,183.2 581.8,183.2 581.9,183.2 582.0,183.2 582.1,183.2 582.2,183.2 582.3,183.2 582.5,183.3 582.6,183.3 582.7,183.3 582.8,183.3 582.9,183.3 583.0,183.3 583.1,183.3 583.2,183.3 583.3,183.3 583.4,183.3 583.5,183.3 583.6,183.4 583.7,183.4 583.8,183.4 583.9,183.4 584.0,183.4 584.1,183.4 584.2,183.4 584.3,183.4 584.5,183.4 584.6,183.4 584.7,183.4 584.8,183.4 584.9,183.4 585.0,183.5 585.1,183.5 585.2,183.5 585.3,183.5 585.4,183.5 585.5,183.5 585.6,183.5 585.7,183.5 585.8,183.5 585.9,183.5 586.0,183.5 586.1,183.5 586.2,183.5 586.3,183.5 586.5,183.5 586.6,183.5 586.7,183.5 586.8,183.6 586.9,183.6 587.0,183.6 587.1,183.6 587.2,183.6 587.3,183.6 587.4,183.6 587.5,183.6 587.6,183.6 587.7,183.6 587.8,183.6 587.9,183.6 588.0,183.6 588.1,183.6 588.2,183.6 588.3,183.6 588.5,183.6 588.6,183.6 588.7,183.6 588.8,183.6 588.9,183.6 589.0,183.6 589.1,183.6 589.2,183.6 589.3,183.6 589.4,183.7 589.5,183.7 589.6,183.7 589.7,183.7 589.8,183.7 589.9,183.7 590.0,183.7 590.1,183.7 590.2,183.7 590.3,183.7 590.5,183.7 590.6,183.7 590.7,183.7 590.8,183.7 590.9,183.7 591.0,183.7 591.1,183.7 591.2,183.7 591.3,183.7 591.4,183.7 591.5,183.7 591.6,183.7 591.7,183.7 591.8,183.7 591.9,183.1 592.0,182.7 592.1,182.2 592.2,181.8 592.3,181.5 592.5,181.2 592.6,180.9 592.7,180.6 592.8,180.4 592.9,180.1 593.0,179.9 593.1,179.8 593.2,179.6 593.3,179.4 593.4,179.3 593.5,179.2 593.6,179.1 593.7,179.0 593.8,178.9 593.9,178.8 594.0,178.7 594.1,178.6 594.2,178.5 594.3,178.5 594.5,178.4 594.6,178.4 594.7,178.3 594.8,178.3 594.9,178.2 595.0,178.2 595.1,178.2 595.2,178.1 595.3,178.1 595.4,178.1 595.5,178.1 595.6,178.0 595.7,178.0 595.8,178.0 595.9,178.0 596.0,177.9 596.1,177.9 596.2,177.9 596.3,177.9 596.5,177.9 596.6,177.9 596.7,177.8 596.8,177.8 596.9,177.8 597.0,177.8 597.1,177.8 597.2,177.8 597.3,177.8 597.4,177.8 597.5,177.7 597.6,177.7 597.7,177.7 597.8,177.7 597.9,177.7 598.0,177.7 598.1,177.7 598.2,177.7 598.3,177.7 598.5,177.7 598.6,177.7 598.7,177.7 598.8,177.6 598.9,177.6 599.0,177.6 599.1,177.6 599.2,177.6 599.3,177.6 599.4,177.6 599.5,177.6 599.6,177.6 599.7,177.6 599.8,177.6 599.9,177.6 600.0,177.6 600.1,177.6 600.2,177.5 600.3,177.5 600.4,177.5 600.6,177.5 600.7,177.5 600.8,177.5 600.9,177.5 601.0,177.5 601.1,177.5 601.2,177.5 601.3,177.5 601.4,177.5 601.5,177.5 601.6,177.5 601.7,177.5 601.8,177.5 601.9,177.5 602.0,177.5 602.1,177.4 602.2,177.4 602.3,177.4 602.4,177.4 602.6,177.4 602.7,177.4 602.8,177.4 602.9,177.4 603.0,177.4 603.1,177.4 603.2,177.4 603.3,177.4 603.4,177.4 603.5,177.4 603.6,177.4 603.7,177.4 603.8,177.4 603.9,177.4 604.0,177.4 604.1,177.4 604.2,177.4 604.3,177.4 604.4,177.3 604.6,177.3 604.7,177.3 604.8,177.3 604.9,177.3 605.0,177.3 605.1,177.3 605.2,177.3 605.3,177.3 605.4,177.3 605.5,177.3 605.6,177.3 605.7,177.3 605.8,177.3 605.9,177.3 606.0,177.3 606.1,177.3 606.2,177.3 606.3,177.3 606.4,177.3 606.6,177.3 606.7,177.3 606.8,177.3 606.9,177.3 607.0,177.3 607.1,177.3 607.2,177.3 607.3,177.3 607.4,177.2 607.5,177.2 607.6,177.2 607.7,177.2 607.8,177.2 607.9,177.2 608.0,177.2 608.1,177.2 608.2,177.2 608.3,177.2 608.4,177.2 608.6,177.2 608.7,177.2 608.8,177.2 608.9,177.2 609.0,177.2 609.1,177.2 609.2,177.2 609.3,177.2 609.4,177.2 609.5,177.2 609.6,177.2 609.7,177.2 609.8,177.2 609.9,177.2 610.0,177.2 610.1,177.2 610.2,177.2 610.3,177.2 610.4,177.2 610.6,177.2 610.7,177.2 610.8,177.2 610.9,177.2 611.0,177.2 611.1,177.4 611.2,177.6 611.3,177.8 611.4,178.0 611.5,178.2 611.6,178.4 611.7,178.6 611.8,178.7 611.9,178.9 612.0,179.0 612.1,179.2 612.2,179.3 612.3,179.4 612.4,179.6 612.6,179.7 612.7,179.8 612.8,179.9 612.9,180.0 613.0,180.1 613.1,180.2 613.2,180.3 613.3,180.3 613.4,180.4 613.5,180.5 613.6,180.6 613.7,180.6 613.8,180.7 613.9,180.8 614.0,180.8 614.1,180.9 614.2,181.0 614.3,181.0 614.4,181.1 614.6,181.1 614.7,181.2 614.8,181.2 614.9,181.3 615.0,181.3 615.1,181.4 615.2,181.4 615.3,181.5 615.4,181.5 615.5,181.6 615.6,181.6 615.7,181.7 615.8,181.7 615.9,181.7 616.0,181.8 616.1,181.8 616.2,181.8 616.3,181.9 616.4,181.9 616.6,181.9 616.7,182.0 616.8,182.0 616.9,182.0 617.0,182.1 617.1,182.1 617.2,182.1 617.3,182.2 617.4,182.2 617.5,182.2 617.6,182.2 617.7,182.3 617.8,182.3 617.9,182.3 618.0,182.3 618.1,182.4 618.2,182.4 618.3,182.4 618.4,182.4 618.6,182.5 618.7,182.5 618.8,182.5 618.9,182.5 619.0,182.5 619.1,182.6 619.2,182.6 619.3,182.6 619.4,182.6 619.5,182.6 619.6,182.7 619.7,182.7 619.8,182.7 619.9,182.7 620.0,182.7 620.1,182.7 620.2,182.8 620.3,182.8 620.4,182.8 620.6,182.8 620.7,182.8 620.8,182.8 620.9,182.9 621.0,182.9 621.1,182.9 621.2,182.9 621.3,182.9 621.4,182.9 621.5,182.9 621.6,182.9 621.7,183.0 621.8,183.0 621.9,183.0 622.0,183.0 622.1,183.0 622.2,183.0 622.3,183.0 622.4,183.0 622.6,183.1 622.7,183.1 622.8,183.1 622.9,183.1 623.0,183.1 623.1,183.1 623.2,183.1 623.3,183.1 623.4,183.1 623.5,183.1 623.6,183.1 623.7,183.2 623.8,183.2 623.9,183.2 624.0,183.2 624.1,183.2 624.2,183.2 624.3,183.2 624.4,183.2 624.6,183.2 624.7,183.2 624.8,183.2 624.9,183.2 625.0,183.2 625.1,183.3 625.2,183.3 625.3,183.3 625.4,183.3 625.5,183.3 625.6,183.3 625.7,183.3 625.8,183.3 625.9,183.3 626.0,183.3 626.1,183.3 626.2,183.3 626.3,183.3 626.4,183.3 626.6,183.3 626.7,183.3 626.8,183.3 626.9,183.3 627.0,183.4 627.1,183.4 627.2,183.4 627.3,183.4 627.4,183.4 627.5,183.4 627.6,183.4 627.7,183.4 627.8,183.4 627.9,183.4 628.0,183.4 628.1,183.4 628.2,183.4 628.3,183.4 628.4,183.4 628.6,183.4 628.7,183.4 628.8,183.4 628.9,183.4 629.0,183.4 629.1,183.4 629.2,183.4 629.3,183.4 629.4,183.4 629.5,183.4 629.6,183.4 629.7,183.4 629.8,183.5 629.9,183.5 630.0,183.5 630.1,183.5 630.2,183.5 630.3,183.5 630.4,183.5 630.6,183.5 630.7,183.5 630.8,183.5 630.9,183.5 631.0,183.5 631.1,183.5 631.2,183.5 631.3,183.5 631.4,183.5 631.5,183.5 631.6,183.5 631.7,183.5 631.8,183.5 631.9,183.5 632.0,183.5 632.1,183.5 632.2,183.5 632.3,183.5 632.4,183.5 632.6,183.5 632.7,183.5 632.8,183.5 632.9,183.5 633.0,183.5 633.1,183.5 633.2,183.5 633.3,183.5 633.4,183.5 633.5,183.5 633.6,183.5 633.7,183.5 633.8,183.5 633.9,183.5 634.0,183.2 634.1,182.9 634.2,182.7 634.3,182.4 634.4,182.2 634.6,182.0 634.7,181.8 634.8,181.7 634.9,181.5 635.0,181.4 635.1,181.3 635.2,181.2 635.3,181.1 635.4,181.0 635.5,180.9 635.6,180.8 635.7,180.8 635.8,180.7 635.9,180.7 636.0,180.6 636.1,180.6 636.2,180.5 636.3,180.5 636.4,180.4 636.6,180.4 636.7,180.4 636.8,180.4 636.9,180.3 637.0,180.3 637.1,180.3 637.2,180.3 637.3,180.2 637.4,180.2 637.5,180.2 637.6,180.2 637.7,180.2 637.8,180.2 637.9,180.1 638.0,180.1 638.1,180.1 638.2,180.1 638.3,180.1 638.4,180.1 638.6,180.1 638.7,180.1 638.8,180.1 638.9,180.1 639.0,180.0 639.1,180.0 639.2,180.0 639.3,180.0 639.4,180.0 639.5,180.0 639.6,180.0 639.7,180.0 639.8,180.0 639.9,180.0 640.0,180.0 640.1,180.0 640.2,180.0 640.3,180.0 640.4,180.0 640.6,180.0 640.7,180.0 640.8,180.0 640.9,179.9 641.0,179.9 641.1,179.9 641.2,179.9 641.3,179.9 641.4,179.9 641.5,179.9 641.6,179.9 641.7,179.9 641.8,179.9 641.9,179.9 642.0,179.9 642.1,179.9 642.2,179.9 642.3,179.9 642.4,179.9 642.5,179.9 642.7,179.9 642.8,179.9 642.9,179.9 643.0,179.9 643.1,179.9 643.2,179.9 643.3,179.9 643.4,179.9 643.5,179.9 643.6,179.8 643.7,179.8 643.8,179.8 643.9,179.8 644.0,179.8 644.1,179.8 644.2,179.8 644.3,179.8 644.4,179.8 644.5,179.8 644.7,179.8 644.8,179.8 644.9,179.8 645.0,179.8 645.1,179.8 645.2,179.8 645.3,179.8 645.4,179.8 645.5,179.8 645.6,179.8 645.7,179.8 645.8,179.8 645.9,179.8 646.0,179.8 646.1,179.8 646.2,179.8 646.3,179.8 646.4,179.8 646.5,179.8 646.7,179.8 646.8,179.8 646.9,179.8 647.0,179.8 647.1,179.8 647.2,179.8 647.3,179.8 647.4,179.8 647.5,179.8 647.6,179.7 647.7,179.7 647.8,179.7 647.9,179.7 648.0,179.7 648.1,179.7 648.2,179.7 648.3,179.7 648.4,179.7 648.5,179.7 648.7,179.7 648.8,179.7 648.9,179.7 649.0,179.7 649.1,179.7 649.2,179.7 649.3,179.7 649.4,179.7 649.5,179.7 649.6,179.7 649.7,179.7 649.8,179.7 649.9,179.7 650.0,179.7 650.1,179.7 650.2,179.7 650.3,179.7 650.4,179.7 650.5,179.7 650.7,179.7 650.8,179.7 650.9,179.7 651.0,179.7 651.1,179.7 651.2,179.7 651.3,179.7 651.4,179.7 651.5,179.7 651.6,179.7 651.7,179.7 651.8,179.7 651.9,179.7 652.0,179.7 652.1,179.7 652.2,179.7 652.3,179.7 652.4,179.7 652.5,179.7 652.7,179.7 652.8,179.7 652.9,179.7 653.0,179.7 653.1,179.7 653.2,179.8 653.3,180.0 653.4,180.2 653.5,180.3 653.6,180.5 653.7,180.6 653.8,180.7 653.9,180.8 654.0,180.9 654.1,181.0 654.2,181.1 654.3,181.2 654.4,181.3 654.5,181.4 654.7,181.5 654.8,181.6 654.9,181.7 655.0,181.7 655.1,181.8 655.2,181.9 655.3,181.9 655.4,182.0 655.5,182.1 655.6,182.1 655.7,182.2 655.8,182.2 655.9,182.3 656.0,182.3 656.1,182.4 656.2,182.4 656.3,182.5 656.4,182.5 656.5,182.6 656.7,182.6 656.8,182.6 656.9,182.7 657.0,182.7 657.1,182.7 657.2,182.8 657.3,182.8 657.4,182.8 657.5,182.9 657.6,182.9 657.7,182.9 657.8,183.0 657.9,183.0 658.0,183.0 658.1,183.1 658.2,183.1 658.3,183.1 658.4,183.1 658.5,183.2 658.7,183.2 658.8,183.2 658.9,183.2 659.0,183.3 659.1,183.3 659.2,183.3 659.3,183.3 659.4,183.3 659.5,183.4 659.6,183.4 659.7,183.4 659.8,183.4 659.9,183.4 660.0,183.5 660.1,183.5 660.2,183.5 660.3,183.5 660.4,183.5 660.5,183.6 660.7,183.6 660.8,183.6 660.9,183.6 661.0,183.6 661.1,183.6 661.2,183.6 661.3,183.7 661.4,183.7 661.5,183.7 661.6,183.7 661.7,183.7 661.8,183.7 661.9,183.7 662.0,183.8 662.1,183.8 662.2,183.8 662.3,183.8 662.4,183.8 662.5,183.8 662.7,183.8 662.8,183.8 662.9,183.8 663.0,183.9 663.1,183.9 663.2,183.9 663.3,183.9 663.4,183.9 663.5,183.9 663.6,183.9 663.7,183.9 663.8,183.9 663.9,183.9 664.0,184.0 664.1,184.0 664.2,184.0 664.3,184.0 664.4,184.0 664.5,184.0 664.7,184.0 664.8,184.0 664.9,184.0 665.0,184.0 665.1,184.0 665.2,184.0 665.3,184.0 665.4,184.1 665.5,184.1 665.6,184.1 665.7,184.1 665.8,184.1 665.9,184.1 666.0,184.1 666.1,184.1 666.2,184.1 666.3,184.1 666.4,184.1 666.5,184.1 666.7,184.1 666.8,184.1 666.9,184.1 667.0,184.1 667.1,184.1 667.2,184.2 667.3,184.2 667.4,184.2 667.5,184.2 667.6,184.2 667.7,184.2 667.8,184.2 667.9,184.2 668.0,184.2 668.1,184.2 668.2,184.2 668.3,184.2 668.4,184.2 668.5,184.2 668.7,184.2 668.8,184.2 668.9,184.2 669.0,184.2 669.1,184.2 669.2,184.2 669.3,184.2 669.4,184.2 669.5,184.2 669.6,184.2 669.7,184.2 669.8,184.2 669.9,184.2 670.0,184.3 670.1,184.3 670.2,184.3 670.3,184.3 670.4,184.3 670.5,184.3 670.7,184.3 670.8,184.3 670.9,184.3 671.0,184.3 671.1,184.3 671.2,184.3 671.3,184.3 671.4,184.3 671.5,184.3 671.6,184.3 671.7,184.3 671.8,184.3 671.9,184.3 672.0,184.3 672.1,184.3 672.2,184.3 672.3,184.3 672.4,184.3 672.5,184.3 672.7,184.3 672.8,184.3 672.9,184.3 673.0,184.3 673.1,184.3 673.2,184.3 673.3,184.3 673.4,184.3 673.5,184.3 673.6,184.3 673.7,184.3 673.8,184.3 673.9,184.3 674.0,184.3 674.1,184.3" fill="none" stroke="none" marker-start="url(#mq)" marker-mid="url(#mq)" marker-end="url(#mq)"/>
<polyline points="368.9,181.0 369.1,181.1 369.3,181.3 369.5,181.4 369.7,181.6 370.0,181.7 370.2,181.8 370.4,181.9 370.6,182.0 370.8,182.1 371.0,182.2 371.2,182.3 371.4,182.4 371.6,182.5 371.8,182.6 372.1,182.7 372.3,182.8 372.5,182.9 372.7,182.9 372.9,183.0 373.1,183.1 373.3,183.2 373.5,183.2 373.7,183.3 374.0,183.4 374.2,183.4 374.4,183.5 374.6,183.5 374.8,183.6 375.0,183.6 375.2,183.7 375.4,183.7 375.6,183.8 375.8,183.8 376.1,183.8 376.3,183.9 376.5,183.9 376.7,184.0 376.9,184.0 377.1,184.0 377.3,184.1 377.5,184.1 377.7,184.1 378.0,184.2 378.2,184.2 378.4,184.2 378.6,184.2 378.8,184.3 379.0,184.3 379.2,184.3 379.4,184.3 379.6,184.3 379.7,184.3 379.8,184.3 380.0,184.3 380.1,184.3 380.2,184.3 380.3,184.3 380.4,184.3 380.5,184.3 380.6,184.3 380.7,184.3 380.8,184.3 380.9,184.3 381.0,184.3 381.1,184.3 381.2,181.3 381.3,178.6 381.4,176.1 381.5,173.9 381.6,171.9 381.7,170.0 381.8,168.3 382.0,166.8 382.1,165.4 382.2,164.2 382.3,163.0 382.4,162.0 382.5,161.0 382.6,160.2 382.7,159.4 382.8,158.7 382.9,158.0 383.0,157.4 383.1,156.9 383.2,156.4 383.3,155.9 383.4,155.5 383.5,155.1 383.6,154.7 383.7,154.4 383.8,154.1 384.0,153.8 384.1,153.6 384.2,153.4 384.3,153.1 384.4,152.9 384.5,152.7 384.6,152.6 384.7,152.4 384.8,152.3 384.9,152.1 385.0,152.0 385.1,151.9 385.2,151.7 385.3,151.6 385.4,151.5 385.5,151.4 385.6,151.3 385.7,151.2 385.8,151.2 386.0,151.1 386.1,151.0 386.2,150.9 386.3,150.9 386.4,150.8 386.5,150.7 386.6,150.7 386.7,150.6 386.8,150.5 386.9,150.5 387.0,150.4 387.1,150.4 387.2,150.3 387.3,150.3 387.4,150.2 387.5,150.2 387.6,150.1 387.7,150.1 387.8,150.0 388.0,150.0 388.1,149.9 388.2,149.9 388.3,149.8 388.4,149.8 388.5,149.8 388.6,149.7 388.7,149.7 388.8,149.6 388.9,149.6 389.0,149.6 389.1,149.5 389.2,149.5 389.3,149.5 389.4,149.4 389.5,149.4 389.6,149.3 389.7,149.3 389.8,149.3 389.9,149.2 390.1,149.2 390.2,149.2 390.3,149.1 390.4,149.1 390.5,149.1 390.6,149.0 390.7,149.0 390.8,149.0 390.9,148.9 391.0,148.9 391.1,148.9 391.2,148.9 391.3,148.8 391.4,148.8 391.5,148.8 391.6,148.7 391.7,148.7 391.8,148.7 391.9,148.7 392.1,148.6 392.2,148.6 392.3,148.6 392.4,148.6 392.5,148.5 392.6,148.5 392.7,148.5 392.8,148.4 392.9,148.4 393.0,148.4 393.1,148.4 393.2,148.3 393.3,148.3 393.4,148.3 393.5,148.3 393.6,148.3 393.7,148.2 393.8,148.2 393.9,148.2 394.1,148.2 394.2,148.1 394.3,148.1 394.4,148.1 394.5,148.1 394.6,148.1 394.7,148.0 394.8,148.0 394.9,148.0 395.0,148.0 395.1,147.9 395.2,147.9 395.3,147.9 395.4,147.9 395.5,147.9 395.6,147.8 395.7,147.8 395.8,147.8 395.9,147.8 396.1,147.8 396.2,147.8 396.3,147.7 396.4,147.7 396.5,147.7 396.6,147.7 396.7,147.7 396.8,147.6 396.9,147.6 397.0,147.6 397.1,147.6 397.2,147.6 397.3,147.6 397.4,147.5 397.5,147.5 397.6,147.5 397.7,147.5 397.8,147.5 397.9,147.5 398.1,147.5 398.2,147.4 398.3,147.4 398.4,147.4 398.5,147.4 398.6,147.4 398.7,147.4 398.8,147.3 398.9,147.3 399.0,147.3 399.1,147.3 399.2,147.3 399.3,147.3 399.4,147.3 399.5,147.3 399.6,147.2 399.7,147.2 399.8,147.2 399.9,147.2 400.1,147.2 400.2,147.2 400.3,147.2 400.4,147.1 400.5,147.1 400.7,149.9 400.9,152.3 401.1,154.5 401.3,156.4 401.5,158.2 401.7,159.7 401.9,161.2 402.2,162.5 402.4,163.7 402.6,164.8 402.8,165.8 403.0,166.7 403.2,167.6 403.4,168.4 403.6,169.1 403.8,169.8 404.1,170.5 404.3,171.1 404.5,171.7 404.7,172.2 404.9,172.8 405.1,173.3 405.3,173.7 405.5,174.2 405.7,174.6 405.9,175.0 406.2,175.4 406.4,175.8 406.6,176.1 406.8,176.5 407.0,176.8 407.2,177.1 407.4,177.4 407.6,177.7 407.8,178.0 408.1,178.2 408.3,178.5 408.5,178.7 408.7,179.0 408.9,179.2 409.1,179.4 409.3,179.6 409.5,179.8 409.7,180.0 409.9,180.2 410.2,180.4 410.4,180.6 410.6,180.7 410.8,180.9 411.0,181.0 411.2,181.2 411.4,181.3 411.6,181.5 411.8,181.6 412.1,181.7 412.3,181.8 412.5,181.9 412.7,182.1 412.9,182.2 413.1,182.3 413.3,182.4 413.5,182.5 413.7,182.6 413.9,182.6 414.2,182.7 414.4,182.8 414.6,182.9 414.8,183.0 415.0,183.0 415.2,183.1 415.4,183.2 415.6,183.2 415.8,183.3 416.1,183.4 416.3,183.4 416.5,183.5 416.7,183.5 416.9,183.6 417.1,183.6 417.3,183.7 417.5,183.7 417.7,183.8 417.9,183.8 418.2,183.9 418.4,183.9 418.6,183.9 418.8,184.0 419.0,184.0 419.2,184.0 419.4,184.1 419.6,184.1 419.8,184.1 420.1,184.2 420.3,184.2 420.5,184.2 420.7,184.2 420.9,184.3 421.1,184.3 421.3,184.3 421.5,184.3 421.6,184.3 421.7,184.3 421.8,184.3 421.9,184.3 422.1,184.3 422.2,184.3 422.3,184.3 422.4,184.3 422.5,184.3 422.6,184.3 422.7,184.3 422.8,184.3 422.9,184.3 423.0,184.3 423.1,184.3 423.2,184.3 423.3,181.7 423.4,179.3 423.5,177.2 423.6,175.2 423.7,173.4 423.8,171.8 423.9,170.3 424.1,169.0 424.2,167.8 424.3,166.7 424.4,165.7 424.5,164.8 424.6,164.0 424.7,163.2 424.8,162.5 424.9,161.9 425.0,161.3 425.1,160.8 425.2,160.3 425.3,159.9 425.4,159.5 425.5,159.1 425.6,158.8 425.7,158.5 425.8,158.2 425.9,157.9 426.1,157.7 426.2,157.5 426.3,157.2 426.4,157.1 426.5,156.9 426.6,156.7 426.7,156.6 426.8,156.4 426.9,156.3 427.0,156.2 427.1,156.0 427.2,155.9 427.3,155.8 427.4,155.7 427.5,155.6 427.6,155.6 427.7,155.5 427.8,155.4 427.9,155.3 428.1,155.3 428.2,155.2 428.3,155.1 428.4,155.1 428.5,155.0 428.6,154.9 428.7,154.9 428.8,154.8 428.9,154.8 429.0,154.7 429.1,154.7 429.2,154.6 429.3,154.6 429.4,154.5 429.5,154.5 429.6,154.4 429.7,154.4 429.8,154.4 429.9,154.3 430.1,154.3 430.2,154.2 430.3,154.2 430.4,154.2 430.5,154.1 430.6,154.1 430.7,154.1 430.8,154.0 430.9,154.0 431.0,154.0 431.1,153.9 431.2,153.9 431.3,153.9 431.4,153.8 431.5,153.8 431.6,153.8 431.7,153.7 431.8,153.7 431.9,153.7 432.1,153.6 432.2,153.6 432.3,153.6 432.4,153.6 432.5,153.5 432.6,153.5 432.7,153.5 432.8,153.4 432.9,153.4 433.0,153.4 433.1,153.4 433.2,153.3 433.3,153.3 433.4,153.3 433.5,153.3 433.6,153.2 433.7,153.2 433.8,153.2 433.9,153.2 434.0,153.1 434.2,153.1 434.3,153.1 434.4,153.1 434.5,153.0 434.6,153.0 434.7,153.0 434.8,153.0 434.9,153.0 435.0,152.9 435.1,152.9 435.2,152.9 435.3,152.9 435.4,152.8 435.5,152.8 435.6,152.8 435.7,152.8 435.8,152.8 435.9,152.7 436.0,152.7 436.2,152.7 436.3,152.7 436.4,152.7 436.5,152.6 436.6,152.6 436.7,152.6 436.8,152.6 436.9,152.6 437.0,152.6 437.1,152.5 437.2,152.5 437.3,152.5 437.4,152.5 437.5,152.5 437.6,152.4 437.7,152.4 437.8,152.4 437.9,152.4 438.0,152.4 438.2,152.4 438.3,152.3 438.4,152.3 438.5,152.3 438.6,152.3 438.7,152.3 438.8,152.3 438.9,152.3 439.0,152.2 439.1,152.2 439.2,152.2 439.3,152.2 439.4,152.2 439.5,152.2 439.6,152.2 439.7,152.1 439.8,152.1 439.9,152.1 440.0,152.1 440.2,152.1 440.3,152.1 440.4,152.1 440.5,152.0 440.6,152.0 440.7,152.0 440.8,152.0 440.9,152.0 441.0,152.0 441.1,152.0 441.2,152.0 441.3,151.9 441.4,151.9 441.5,151.9 441.6,151.9 441.7,151.9 441.8,151.9 441.9,151.9 442.0,151.9 442.2,151.8 442.3,151.8 442.4,151.8 442.5,151.8 442.6,151.8 442.8,154.2 443.0,156.3 443.2,158.2 443.4,159.9 443.6,161.5 443.8,162.8 444.0,164.1 444.3,165.2 444.5,166.3 444.7,167.2 444.9,168.1 445.1,168.9 445.3,169.7 445.5,170.4 445.7,171.0 445.9,171.6 446.2,172.2 446.4,172.8 446.6,173.3 446.8,173.8 447.0,174.2 447.2,174.7 447.4,175.1 447.6,175.5 447.8,175.8 448.0,176.2 448.3,176.5 448.5,176.9 448.7,177.2 448.9,177.5 449.1,177.8 449.3,178.0 449.5,178.3 449.7,178.5 449.9,178.8 450.2,179.0 450.4,179.2 450.6,179.4 450.8,179.7 451.0,179.9 451.2,180.0 451.4,180.2 451.6,180.4 451.8,180.6 452.0,180.7 452.3,180.9 452.5,181.0 452.7,181.2 452.9,181.3 453.1,181.4 453.3,181.6 453.5,181.7 453.7,181.8 453.9,181.9 454.2,182.0 454.4,182.1 454.6,182.2 454.8,182.3 455.0,182.4 455.2,182.5 455.4,182.6 455.6,182.7 455.8,182.8 456.0,182.9 456.3,182.9 456.5,183.0 456.7,183.1 456.9,183.1 457.1,183.2 457.3,183.3 457.5,183.3 457.7,183.4 457.9,183.4 458.2,183.5 458.4,183.5 458.6,183.6 458.8,183.6 459.0,183.7 459.2,183.7 459.4,183.8 459.6,183.8 459.8,183.8 460.0,183.9 460.3,183.9 460.5,183.9 460.7,184.0 460.9,184.0 461.1,184.0 461.3,184.1 461.5,184.1 461.7,184.1 461.9,184.2 462.2,184.2 462.4,184.2 462.6,184.2 462.8,184.2 463.0,184.3 463.2,184.3 463.4,184.3 463.6,184.3 463.7,184.3 463.8,184.3 463.9,184.3 464.0,184.3 464.2,184.3 464.3,184.3 464.4,184.3 464.5,184.3 464.6,184.3 464.7,184.3 464.8,184.3 464.9,184.3 465.0,184.3 465.1,184.3 465.2,184.3 465.3,184.3 465.4,182.1 465.5,180.1 465.6,178.3 465.7,176.6 465.8,175.1 465.9,173.7 466.0,172.5 466.2,171.4 466.3,170.3 466.4,169.4 466.5,168.6 466.6,167.8 466.7,167.1 466.8,166.5 466.9,165.9 467.0,165.3 467.1,164.9 467.2,164.4 467.3,164.0 467.4,163.6 467.5,163.3 467.6,163.0 467.7,162.7 467.8,162.4 467.9,162.2 468.0,162.0 468.2,161.8 468.3,161.6 468.4,161.4 468.5,161.3 468.6,161.1 468.7,161.0 468.8,160.8 468.9,160.7 469.0,160.6 469.1,160.5 469.2,160.4 469.3,160.3 469.4,160.2 469.5,160.1 469.6,160.1 469.7,160.0 469.8,159.9 469.9,159.8 470.0,159.8 470.2,159.7 470.3,159.7 470.4,159.6 470.5,159.6 470.6,159.5 470.7,159.5 470.8,159.4 470.9,159.4 471.0,159.3 471.1,159.3 471.2,159.2 471.3,159.2 471.4,159.2 471.5,159.1 471.6,159.1 471.7,159.0 471.8,159.0 471.9,159.0 472.0,158.9 472.2,158.9 472.3,158.9 472.4,158.8 472.5,158.8 472.6,158.8 472.7,158.8 472.8,158.7 472.9,158.7 473.0,158.7 473.1,158.6 473.2,158.6 473.3,158.6 473.4,158.5 473.5,158.5 473.6,158.5 473.7,158.5 473.8,158.4 473.9,158.4 474.0,158.4 474.1,158.4 474.3,158.3 474.4,158.3 474.5,158.3 474.6,158.3 474.7,158.2 474.8,158.2 474.9,158.2 475.0,158.2 475.1,158.2 475.2,158.1 475.3,158.1 475.4,158.1 475.5,158.1 475.6,158.0 475.7,158.0 475.8,158.0 475.9,158.0 476.0,158.0 476.1,157.9 476.3,157.9 476.4,157.9 476.5,157.9 476.6,157.9 476.7,157.8 476.8,157.8 476.9,157.8 477.0,157.8 477.1,157.8 477.2,157.7 477.3,157.7 477.4,157.7 477.5,157.7 477.6,157.7 477.7,157.7 477.8,157.6 477.9,157.6 478.0,157.6 478.1,157.6 478.3,157.6 478.4,157.6 478.5,157.5 478.6,157.5 478.7,157.5 478.8,157.5 478.9,157.5 479.0,157.5 479.1,157.4 479.2,157.4 479.3,157.4 479.4,157.4 479.5,157.4 479.6,157.4 479.7,157.4 479.8,157.3 479.9,157.3 480.0,157.3 480.1,157.3 480.3,157.3 480.4,157.3 480.5,157.3 480.6,157.2 480.7,157.2 480.8,157.2 480.9,157.2 481.0,157.2 481.1,157.2 481.2,157.2 481.3,157.2 481.4,157.1 481.5,157.1 481.6,157.1 481.7,157.1 481.8,157.1 481.9,157.1 482.0,157.1 482.1,157.1 482.3,157.0 482.4,157.0 482.5,157.0 482.6,157.0 482.7,157.0 482.8,157.0 482.9,157.0 483.0,157.0 483.1,157.0 483.2,156.9 483.3,156.9 483.4,156.9 483.5,156.9 483.6,156.9 483.7,156.9 483.8,156.9 483.9,156.9 484.0,156.9 484.1,156.9 484.3,156.8 484.4,156.8 484.5,156.8 484.6,156.8 484.7,156.8 484.8,157.8 485.0,159.7 485.2,161.4 485.4,162.9 485.6,164.2 485.8,165.5 486.0,166.6 486.3,167.6 486.5,168.5 486.7,169.3 486.9,170.1 487.1,170.8 487.3,171.4 487.5,172.0 487.7,172.6 487.9,173.1 488.1,173.6 488.4,174.1 488.6,174.5 488.8,175.0 489.0,175.4 489.2,175.7 489.4,176.1 489.6,176.4 489.8,176.7 490.0,177.0 490.3,177.3 490.5,177.6 490.7,177.9 490.9,178.1 491.1,178.4 491.3,178.6 491.5,178.8 491.7,179.1 491.9,179.3 492.1,179.5 492.4,179.6 492.6,179.8 492.8,180.0 493.0,180.2 493.2,180.3 493.4,180.5 493.6,180.6 493.8,180.8 494.0,180.9 494.3,181.0 494.5,181.2 494.7,181.3 494.9,181.4 495.1,181.5 495.3,181.6 495.5,181.7 495.7,181.8 495.9,181.9 496.1,182.0 496.4,182.1 496.6,182.2 496.8,182.3 497.0,182.4 497.2,182.5 497.4,182.5 497.6,182.6 497.8,182.7 498.0,182.7 498.3,182.8 498.5,182.9 498.7,182.9 498.9,183.0 499.1,183.0 499.3,183.1 499.5,183.1 499.7,183.2 499.9,183.2 500.1,183.3 500.4,183.3 500.6,183.4 500.8,183.4 501.0,183.4 501.2,183.5 501.4,183.5 501.6,183.5 501.8,183.6 502.0,183.6 502.3,183.6 502.5,183.7 502.7,183.7 502.9,183.7 503.1,183.7 503.3,183.8 503.5,183.8 503.7,183.8 503.9,183.8 504.1,183.9 504.4,183.9 504.6,183.9 504.8,183.9 505.0,183.9 505.2,184.0 505.4,184.0 505.6,184.0 505.8,184.0 505.9,184.0 506.0,184.0 506.1,184.0 506.3,184.0 506.4,184.0 506.5,184.0 506.6,184.0 506.7,184.0 506.8,184.0 506.9,184.0 507.0,184.0 507.1,184.0 507.2,184.0 507.3,184.0 507.4,184.0 507.5,182.3 507.6,180.7 507.7,179.3 507.8,178.0 507.9,176.8 508.0,175.8 508.1,174.8 508.3,173.9 508.4,173.2 508.5,172.4 508.6,171.8 508.7,171.2 508.8,170.6 508.9,170.1 509.0,169.7 509.1,169.3 509.2,168.9 509.3,168.5 509.4,168.2 509.5,167.9 509.6,167.7 509.7,167.4 509.8,167.2 509.9,167.0 510.0,166.8 510.1,166.7 510.3,166.5 510.4,166.4 510.5,166.2 510.6,166.1 510.7,166.0 510.8,165.9 510.9,165.8 511.0,165.7 511.1,165.6 511.2,165.5 511.3,165.4 511.4,165.4 511.5,165.3 511.6,165.2 511.7,165.2 511.8,165.1 511.9,165.1 512.0,165.0 512.1,165.0 512.3,164.9 512.4,164.9 512.5,164.8 512.6,164.8 512.7,164.7 512.8,164.7 512.9,164.7 513.0,164.6 513.1,164.6 513.2,164.6 513.3,164.5 513.4,164.5 513.5,164.5 513.6,164.4 513.7,164.4 513.8,164.4 513.9,164.4 514.0,164.3 514.1,164.3 514.3,164.3 514.4,164.3 514.5,164.2 514.6,164.2 514.7,164.2 514.8,164.2 514.9,164.1 515.0,164.1 515.1,164.1 515.2,164.1 515.3,164.0 515.4,164.0 515.5,164.0 515.6,164.0 515.7,164.0 515.8,163.9 515.9,163.9 516.0,163.9 516.1,163.9 516.2,163.9 516.4,163.8 516.5,163.8 516.6,163.8 516.7,163.8 516.8,163.8 516.9,163.7 517.0,163.7 517.1,163.7 517.2,163.7 517.3,163.7 517.4,163.7 517.5,163.6 517.6,163.6 517.7,163.6 517.8,163.6 517.9,163.6 518.0,163.6 518.1,163.5 518.2,163.5 518.4,163.5 518.5,163.5 518.6,163.5 518.7,163.5 518.8,163.4 518.9,163.4 519.0,163.4 519.1,163.4 519.2,163.4 519.3,163.4 519.4,163.4 519.5,163.3 519.6,163.3 519.7,163.3 519.8,163.3 519.9,163.3 520.0,163.3 520.1,163.3 520.2,163.2 520.4,163.2 520.5,163.2 520.6,163.2 520.7,163.2 520.8,163.2 520.9,163.2 521.0,163.2 521.1,163.1 521.2,163.1 521.3,163.1 521.4,163.1 521.5,163.1 521.6,163.1 521.7,163.1 521.8,163.1 521.9,163.1 522.0,163.0 522.1,163.0 522.2,163.0 522.4,163.0 522.5,163.0 522.6,163.0 522.7,163.0 522.8,163.0 522.9,163.0 523.0,163.0 523.1,162.9 523.2,162.9 523.3,162.9 523.4,162.9 523.5,162.9 523.6,162.9 523.7,162.9 523.8,162.9 523.9,162.9 524.0,162.9 524.1,162.8 524.2,162.8 524.4,162.8 524.5,162.8 524.6,162.8 524.7,162.8 524.8,162.8 524.9,162.8 525.0,162.8 525.1,162.8 525.2,162.8 525.3,162.8 525.4,162.7 525.5,162.7 525.6,162.7 525.7,162.7 525.8,162.7 525.9,162.7 526.0,162.7 526.1,162.7 526.2,162.7 526.4,162.7 526.5,162.7 526.6,162.7 526.7,162.7 526.8,162.6 526.9,163.5 527.1,164.9 527.3,166.3 527.5,167.4 527.7,168.5 527.9,169.4 528.1,170.3 528.4,171.1 528.6,171.8 528.8,172.5 529.0,173.1 529.2,173.6 529.4,174.1 529.6,174.6 529.8,175.1 530.0,175.5 530.2,175.9 530.5,176.2 530.7,176.6 530.9,176.9 531.1,177.2 531.3,177.5 531.5,177.8 531.7,178.0 531.9,178.3 532.1,178.5 532.4,178.8 532.6,179.0 532.8,179.2 533.0,179.4 533.2,179.6 533.4,179.8 533.6,179.9 533.8,180.1 534.0,180.3 534.2,180.4 534.5,180.6 534.7,180.7 534.9,180.9 535.1,181.0 535.3,181.1 535.5,181.2 535.7,181.4 535.9,181.5 536.1,181.6 536.4,181.7 536.6,181.8 536.8,181.9 537.0,182.0 537.2,182.1 537.4,182.1 537.6,182.2 537.8,182.3 538.0,182.4 538.2,182.5 538.5,182.5 538.7,182.6 538.9,182.7 539.1,182.7 539.3,182.8 539.5,182.8 539.7,182.9 539.9,183.0 540.1,183.0 540.4,183.1 540.6,183.1 540.8,183.1 541.0,183.2 541.2,183.2 541.4,183.3 541.6,183.3 541.8,183.4 542.0,183.4 542.2,183.4 542.5,183.5 542.7,183.5 542.9,183.5 543.1,183.6 543.3,183.6 543.5,183.6 543.7,183.6 543.9,183.7 544.1,183.7 544.4,183.7 544.6,183.7 544.8,183.8 545.0,183.8 545.2,183.8 545.4,183.8 545.6,183.8 545.8,183.9 546.0,183.9 546.2,183.9 546.5,183.9 546.7,183.9 546.9,183.9 547.1,184.0 547.3,184.0 547.5,184.0 547.7,184.0 547.9,184.0 548.0,184.0 548.1,184.0 548.2,184.0 548.4,184.0 548.5,184.0 548.6,184.0 548.7,184.0 548.8,184.0 548.9,184.0 549.0,184.0 549.1,184.0 549.2,184.0 549.3,184.0 549.4,184.0 549.5,184.0 549.6,182.7 549.7,181.5 549.8,180.4 549.9,179.4 550.0,178.5 550.1,177.7 550.2,177.0 550.4,176.3 550.5,175.7 550.6,175.1 550.7,174.6 550.8,174.2 550.9,173.8 551.0,173.4 551.1,173.0 551.2,172.7 551.3,172.4 551.4,172.2 551.5,171.9 551.6,171.7 551.7,171.5 551.8,171.3 551.9,171.2 552.0,171.0 552.1,170.9 552.2,170.7 552.4,170.6 552.5,170.5 552.6,170.4 552.7,170.3 552.8,170.2 552.9,170.1 553.0,170.0 553.1,170.0 553.2,169.9 553.3,169.8 553.4,169.8 553.5,169.7 553.6,169.7 553.7,169.6 553.8,169.6 553.9,169.5 554.0,169.5 554.1,169.5 554.2,169.4 554.4,169.4 554.5,169.3 554.6,169.3 554.7,169.3 554.8,169.3 554.9,169.2 555.0,169.2 555.1,169.2 555.2,169.1 555.3,169.1 555.4,169.1 555.5,169.1 555.6,169.0 555.7,169.0 555.8,169.0 555.9,169.0 556.0,169.0 556.1,168.9 556.2,168.9 556.4,168.9 556.5,168.9 556.6,168.9 556.7,168.8 556.8,168.8 556.9,168.8 557.0,168.8 557.1,168.8 557.2,168.8 557.3,168.7 557.4,168.7 557.5,168.7 557.6,168.7 557.7,168.7 557.8,168.7 557.9,168.6 558.0,168.6 558.1,168.6 558.2,168.6 558.3,168.6 558.5,168.6 558.6,168.5 558.7,168.5 558.8,168.5 558.9,168.5 559.0,168.5 559.1,168.5 559.2,168.5 559.3,168.4 559.4,168.4 559.5,168.4 559.6,168.4 559.7,168.4 559.8,168.4 559.9,168.4 560.0,168.4 560.1,168.3 560.2,168.3 560.3,168.3 560.5,168.3 560.6,168.3 560.7,168.3 560.8,168.3 560.9,168.3 561.0,168.3 561.1,168.2 561.2,168.2 561.3,168.2 561.4,168.2 561.5,168.2 561.6,168.2 561.7,168.2 561.8,168.2 561.9,168.2 562.0,168.1 562.1,168.1 562.2,168.1 562.3,168.1 562.5,168.1 562.6,168.1 562.7,168.1 562.8,168.1 562.9,168.1 563.0,168.1 563.1,168.0 563.2,168.0 563.3,168.0 563.4,168.0 563.5,168.0 563.6,168.0 563.7,168.0 563.8,168.0 563.9,168.0 564.0,168.0 564.1,168.0 564.2,167.9 564.3,167.9 564.5,167.9 564.6,167.9 564.7,167.9 564.8,167.9 564.9,167.9 565.0,167.9 565.1,167.9 565.2,167.9 565.3,167.9 565.4,167.9 565.5,167.9 565.6,167.8 565.7,167.8 565.8,167.8 565.9,167.8 566.0,167.8 566.1,167.8 566.2,167.8 566.3,167.8 566.5,167.8 566.6,167.8 566.7,167.8 566.8,167.8 566.9,167.8 567.0,167.8 567.1,167.8 567.2,167.7 567.3,167.7 567.4,167.7 567.5,167.7 567.6,167.7 567.7,167.7 567.8,167.7 567.9,167.7 568.0,167.7 568.1,167.7 568.2,167.7 568.3,167.7 568.5,167.7 568.6,167.7 568.7,167.7 568.8,167.7 568.9,167.7 569.0,168.3 569.2,169.4 569.4,170.4 569.6,171.3 569.8,172.1 570.0,172.8 570.2,173.5 570.5,174.0 570.7,174.6 570.9,175.1 571.1,175.5 571.3,176.0 571.5,176.4 571.7,176.7 571.9,177.1 572.1,177.4 572.3,177.7 572.6,177.9 572.8,178.2 573.0,178.5 573.2,178.7 573.4,178.9 573.6,179.1 573.8,179.3 574.0,179.5 574.2,179.7 574.5,179.9 574.7,180.0 574.9,180.2 575.1,180.3 575.3,180.5 575.5,180.6 575.7,180.8 575.9,180.9 576.1,181.0 576.3,181.1 576.6,181.2 576.8,181.3 577.0,181.5 577.2,181.6 577.4,181.6 577.6,181.7 577.8,181.8 578.0,181.9 578.2,182.0 578.5,182.1 578.7,182.2 578.9,182.2 579.1,182.3 579.3,182.4 579.5,182.4 579.7,182.5 579.9,182.6 580.1,182.6 580.3,182.7 580.6,182.7 580.8,182.8 581.0,182.8 581.2,182.9 581.4,182.9 581.6,183.0 581.8,183.0 582.0,183.0 582.2,183.1 582.5,183.1 582.7,183.2 582.9,183.2 583.1,183.2 583.3,183.3 583.5,183.3 583.7,183.3 583.9,183.3 584.1,183.4 584.3,183.4 584.6,183.4 584.8,183.4 585.0,183.5 585.2,183.5 585.4,183.5 585.6,183.5 585.8,183.6 586.0,183.6 586.2,183.6 586.5,183.6 586.7,183.6 586.9,183.6 587.1,183.7 587.3,183.7 587.5,183.7 587.7,183.7 587.9,183.7 588.1,183.7 588.3,183.7 588.6,183.8 588.8,183.8 589.0,183.8 589.2,183.8 589.4,183.8 589.6,183.8 589.8,183.8 590.0,183.8 590.1,183.8 590.2,183.8 590.3,183.8 590.5,183.8 590.6,183.8 590.7,183.8 590.8,183.8 590.9,183.8 591.0,183.8 591.1,183.8 591.2,183.8 591.3,183.8 591.4,183.8 591.5,183.8 591.6,183.8 591.7,182.9 591.8,182.0 591.9,181.3 592.0,180.6 592.1,179.9 592.2,179.3 592.3,178.8 592.5,178.3 592.6,177.9 592.7,177.5 592.8,177.1 592.9,176.8 593.0,176.5 593.1,176.2 593.2,176.0 593.3,175.8 593.4,175.6 593.5,175.4 593.6,175.2 593.7,175.1 593.8,174.9 593.9,174.8 594.0,174.7 594.1,174.5 594.2,174.4 594.3,174.3 594.5,174.3 594.6,174.2 594.7,174.1 594.8,174.0 594.9,174.0 595.0,173.9 595.1,173.9 595.2,173.8 595.3,173.8 595.4,173.7 595.5,173.7 595.6,173.6 595.7,173.6 595.8,173.6 595.9,173.5 596.0,173.5 596.1,173.5 596.2,173.4 596.3,173.4 596.5,173.4 596.6,173.4 596.7,173.3 596.8,173.3 596.9,173.3 597.0,173.3 597.1,173.3 597.2,173.2 597.3,173.2 597.4,173.2 597.5,173.2 597.6,173.2 597.7,173.2 597.8,173.1 597.9,173.1 598.0,173.1 598.1,173.1 598.2,173.1 598.3,173.1 598.5,173.0 598.6,173.0 598.7,173.0 598.8,173.0 598.9,173.0 599.0,173.0 599.1,173.0 599.2,173.0 599.3,172.9 599.4,172.9 599.5,172.9 599.6,172.9 599.7,172.9 599.8,172.9 599.9,172.9 600.0,172.9 600.1,172.8 600.2,172.8 600.3,172.8 600.4,172.8 600.6,172.8 600.7,172.8 600.8,172.8 600.9,172.8 601.0,172.8 601.1,172.8 601.2,172.7 601.3,172.7 601.4,172.7 601.5,172.7 601.6,172.7 601.7,172.7 601.8,172.7 601.9,172.7 602.0,172.7 602.1,172.7 602.2,172.7 602.3,172.6 602.4,172.6 602.6,172.6 602.7,172.6 602.8,172.6 602.9,172.6 603.0,172.6 603.1,172.6 603.2,172.6 603.3,172.6 603.4,172.6 603.5,172.6 603.6,172.5 603.7,172.5 603.8,172.5 603.9,172.5 604.0,172.5 604.1,172.5 604.2,172.5 604.3,172.5 604.4,172.5 604.6,172.5 604.7,172.5 604.8,172.5 604.9,172.5 605.0,172.4 605.1,172.4 605.2,172.4 605.3,172.4 605.4,172.4 605.5,172.4 605.6,172.4 605.7,172.4 605.8,172.4 605.9,172.4 606.0,172.4 606.1,172.4 606.2,172.4 606.3,172.4 606.4,172.4 606.6,172.4 606.7,172.3 606.8,172.3 606.9,172.3 607.0,172.3 607.1,172.3 607.2,172.3 607.3,172.3 607.4,172.3 607.5,172.3 607.6,172.3 607.7,172.3 607.8,172.3 607.9,172.3 608.0,172.3 608.1,172.3 608.2,172.3 608.3,172.3 608.4,172.3 608.6,172.3 608.7,172.2 608.8,172.2 608.9,172.2 609.0,172.2 609.1,172.2 609.2,172.2 609.3,172.2 609.4,172.2 609.5,172.2 609.6,172.2 609.7,172.2 609.8,172.2 609.9,172.2 610.0,172.2 610.1,172.2 610.2,172.2 610.3,172.2 610.4,172.2 610.6,172.2 610.7,172.2 610.8,172.2 610.9,172.2 611.0,172.2 611.1,172.6 611.3,173.4 611.5,174.1 611.7,174.8 611.9,175.4 612.1,175.9 612.3,176.3 612.6,176.8 612.8,177.2 613.0,177.5 613.2,177.9 613.4,178.2 613.6,178.4 613.8,178.7 614.0,178.9 614.2,179.2 614.4,179.4 614.7,179.6 614.9,179.8 615.1,180.0 615.3,180.1 615.5,180.3 615.7,180.4 615.9,180.6 616.1,180.7 616.3,180.8 616.6,181.0 616.8,181.1 617.0,181.2 617.2,181.3 617.4,181.4 617.6,181.5 617.8,181.6 618.0,181.7 618.2,181.8 618.4,181.9 618.7,182.0 618.9,182.0 619.1,182.1 619.3,182.2 619.5,182.3 619.7,182.3 619.9,182.4 620.1,182.4 620.3,182.5 620.6,182.6 620.8,182.6 621.0,182.7 621.2,182.7 621.4,182.8 621.6,182.8 621.8,182.9 622.0,182.9 622.2,182.9 622.4,183.0 622.7,183.0 622.9,183.1 623.1,183.1 623.3,183.1 623.5,183.2 623.7,183.2 623.9,183.2 624.1,183.3 624.3,183.3 624.6,183.3 624.8,183.3 625.0,183.4 625.2,183.4 625.4,183.4 625.6,183.4 625.8,183.5 626.0,183.5 626.2,183.5 626.4,183.5 626.7,183.5 626.9,183.6 627.1,183.6 627.3,183.6 627.5,183.6 627.7,183.6 627.9,183.6 628.1,183.6 628.3,183.7 628.6,183.7 628.8,183.7 629.0,183.7 629.2,183.7 629.4,183.7 629.6,183.7 629.8,183.7 630.0,183.8 630.2,183.8 630.4,183.8 630.7,183.8 630.9,183.8 631.1,183.8 631.3,183.8 631.5,183.8 631.7,183.8 631.9,183.8 632.1,183.8 632.2,183.8 632.3,183.8 632.4,183.8 632.6,183.8 632.7,183.8 632.8,183.8 632.9,183.8 633.0,183.8 633.1,183.8 633.2,183.8 633.3,183.8 633.4,183.8 633.5,183.8 633.6,183.8 633.7,183.8 633.8,183.2 633.9,182.7 634.0,182.2 634.1,181.7 634.2,181.3 634.3,180.9 634.4,180.6 634.6,180.3 634.7,180.0 634.8,179.8 634.9,179.5 635.0,179.3 635.1,179.1 635.2,179.0 635.3,178.8 635.4,178.7 635.5,178.5 635.6,178.4 635.7,178.3 635.8,178.2 635.9,178.1 636.0,178.0 636.1,177.9 636.2,177.9 636.3,177.8 636.4,177.7 636.6,177.7 636.7,177.6 636.8,177.6 636.9,177.5 637.0,177.5 637.1,177.5 637.2,177.4 637.3,177.4 637.4,177.4 637.5,177.3 637.6,177.3 637.7,177.3 637.8,177.3 637.9,177.2 638.0,177.2 638.1,177.2 638.2,177.2 638.3,177.2 638.4,177.1 638.6,177.1 638.7,177.1 638.8,177.1 638.9,177.1 639.0,177.1 639.1,177.0 639.2,177.0 639.3,177.0 639.4,177.0 639.5,177.0 639.6,177.0 639.7,177.0 639.8,177.0 639.9,177.0 640.0,176.9 640.1,176.9 640.2,176.9 640.3,176.9 640.4,176.9 640.6,176.9 640.7,176.9 640.8,176.9 640.9,176.9 641.0,176.9 641.1,176.9 641.2,176.8 641.3,176.8 641.4,176.8 641.5,176.8 641.6,176.8 641.7,176.8 641.8,176.8 641.9,176.8 642.0,176.8 642.1,176.8 642.2,176.8 642.3,176.8 642.4,176.8 642.5,176.8 642.7,176.7 642.8,176.7 642.9,176.7 643.0,176.7 643.1,176.7 643.2,176.7 643.3,176.7 643.4,176.7 643.5,176.7 643.6,176.7 643.7,176.7 643.8,176.7 643.9,176.7 644.0,176.7 644.1,176.7 644.2,176.7 644.3,176.6 644.4,176.6 644.5,176.6 644.7,176.6 644.8,176.6 644.9,176.6 645.0,176.6 645.1,176.6 645.2,176.6 645.3,176.6 645.4,176.6 645.5,176.6 645.6,176.6 645.7,176.6 645.8,176.6 645.9,176.6 646.0,176.6 646.1,176.6 646.2,176.6 646.3,176.5 646.4,176.5 646.5,176.5 646.7,176.5 646.8,176.5 646.9,176.5 647.0,176.5 647.1,176.5 647.2,176.5 647.3,176.5 647.4,176.5 647.5,176.5 647.6,176.5 647.7,176.5 647.8,176.5 647.9,176.5 648.0,176.5 648.1,176.5 648.2,176.5 648.3,176.5 648.4,176.5 648.5,176.5 648.7,176.5 648.8,176.5 648.9,176.4 649.0,176.4 649.1,176.4 649.2,176.4 649.3,176.4 649.4,176.4 649.5,176.4 649.6,176.4 649.7,176.4 649.8,176.4 649.9,176.4 650.0,176.4 650.1,176.4 650.2,176.4 650.3,176.4 650.4,176.4 650.5,176.4 650.7,176.4 650.8,176.4 650.9,176.4 651.0,176.4 651.1,176.4 651.2,176.4 651.3,176.4 651.4,176.4 651.5,176.4 651.6,176.4 651.7,176.4 651.8,176.4 651.9,176.4 652.0,176.4 652.1,176.3 652.2,176.3 652.3,176.3 652.4,176.3 652.5,176.3 652.7,176.3 652.8,176.3 652.9,176.3 653.0,176.3 653.1,176.3 653.2,176.7 653.4,177.3 653.6,177.8 653.8,178.3 654.0,178.7 654.2,179.1 654.4,179.5 654.7,179.8 654.9,180.1 655.1,180.4 655.3,180.6 655.5,180.9 655.7,181.1 655.9,181.3 656.1,181.5 656.3,181.6 656.5,181.8 656.8,181.9 657.0,182.1 657.2,182.2 657.4,182.4 657.6,182.5 657.8,182.6 658.0,182.7 658.2,182.8 658.4,182.9 658.7,183.0 658.9,183.1 659.1,183.2 659.3,183.3 659.5,183.3 659.7,183.4 659.9,183.5 660.1,183.6 660.3,183.6 660.5,183.7 660.8,183.8 661.0,183.8 661.2,183.9 661.4,183.9 661.6,184.0 661.8,184.0 662.0,184.1 662.2,184.1 662.4,184.2 662.7,184.2 662.9,184.2 663.1,184.3 663.3,184.3 663.5,184.4 663.7,184.4 663.9,184.4 664.1,184.5 664.3,184.5 664.5,184.5 664.8,184.6 665.0,184.6 665.2,184.6 665.4,184.6 665.6,184.7 665.8,184.7 666.0,184.7 666.2,184.7 666.4,184.8 666.7,184.8 666.9,184.8 667.1,184.8 667.3,184.8 667.5,184.8 667.7,184.9 667.9,184.9 668.1,184.9 668.3,184.9 668.5,184.9 668.8,184.9 669.0,185.0 669.2,185.0 669.4,185.0 669.6,185.0 669.8,185.0 670.0,185.0 670.2,185.0 670.4,185.0 670.7,185.0 670.9,185.1 671.1,185.1 671.3,185.1 671.5,185.1 671.7,185.1 671.9,185.1 672.1,185.1 672.3,185.1 672.5,185.1 672.8,185.1 673.0,185.1 673.2,185.1 673.4,185.1 673.6,185.2 673.8,185.2 674.0,185.2" fill="none" stroke="none" marker-start="url(#mc)" marker-mid="url(#mc)" marker-end="url(#mc)"/>
<polyline points="368.9,180.2 369.1,180.3 369.3,180.5 369.5,180.7 369.7,180.9 370.0,181.0 370.2,181.2 370.4,181.3 370.6,181.5 370.8,181.6 371.0,181.7 371.2,181.8 371.4,182.0 371.6,182.1 371.8,182.2 372.1,182.3 372.3,182.4 372.5,182.5 372.7,182.6 372.9,182.7 373.1,182.8 373.3,182.9 373.5,183.0 373.7,183.0 374.0,183.1 374.2,183.2 374.4,183.2 374.6,183.3 374.8,183.4 375.0,183.4 375.2,183.5 375.4,183.6 375.6,183.6 375.8,183.7 376.1,183.7 376.3,183.8 376.5,183.8 376.7,183.9 376.9,183.9 377.1,184.0 377.3,184.0 377.5,184.0 377.7,184.1 378.0,184.1 378.2,184.1 378.4,184.2 378.6,184.2 378.8,184.2 379.0,184.3 379.2,184.3 379.4,184.3 379.6,184.3 379.7,184.3 379.8,184.3 380.0,184.3 380.1,184.3 380.2,184.3 380.3,184.3 380.4,184.3 380.5,184.3 380.6,184.3 380.7,184.3 380.8,184.3 380.9,184.3 381.0,184.3 381.1,184.3 381.2,180.4 381.3,176.7 381.4,173.4 381.5,170.4 381.6,167.6 381.7,165.0 381.8,162.7 382.0,160.5 382.1,158.6 382.2,156.7 382.3,155.1 382.4,153.6 382.5,152.2 382.6,150.9 382.7,149.7 382.8,148.6 382.9,147.6 383.0,146.7 383.1,145.8 383.2,145.0 383.3,144.3 383.4,143.6 383.5,143.0 383.6,142.4 383.7,141.9 383.8,141.4 384.0,141.0 384.1,140.5 384.2,140.1 384.3,139.8 384.4,139.4 384.5,139.1 384.6,138.8 384.7,138.5 384.8,138.3 384.9,138.0 385.0,137.8 385.1,137.6 385.2,137.4 385.3,137.2 385.4,137.0 385.5,136.8 385.6,136.6 385.7,136.5 385.8,136.3 386.0,136.2 386.1,136.1 386.2,135.9 386.3,135.8 386.4,135.7 386.5,135.6 386.6,135.4 386.7,135.3 386.8,135.2 386.9,135.1 387.0,135.0 387.1,134.9 387.2,134.9 387.3,134.8 387.4,134.7 387.5,134.6 387.6,134.5 387.7,134.4 387.8,134.3 388.0,134.3 388.1,134.2 388.2,134.1 388.3,134.1 388.4,134.0 388.5,133.9 388.6,133.8 388.7,133.8 388.8,133.7 388.9,133.6 389.0,133.6 389.1,133.5 389.2,133.5 389.3,133.4 389.4,133.3 389.5,133.3 389.6,133.2 389.7,133.2 389.8,133.1 389.9,133.0 390.1,133.0 390.2,132.9 390.3,132.9 390.4,132.8 390.5,132.8 390.6,132.7 390.7,132.7 390.8,132.6 390.9,132.6 391.0,132.5 391.1,132.5 391.2,132.4 391.3,132.4 391.4,132.3 391.5,132.3 391.6,132.2 391.7,132.2 391.8,132.1 391.9,132.1 392.1,132.1 392.2,132.0 392.3,132.0 392.4,131.9 392.5,131.9 392.6,131.8 392.7,131.8 392.8,131.8 392.9,131.7 393.0,131.7 393.1,131.6 393.2,131.6 393.3,131.6 393.4,131.5 393.5,131.5 393.6,131.4 393.7,131.4 393.8,131.4 393.9,131.3 394.1,131.3 394.2,131.3 394.3,131.2 394.4,131.2 394.5,131.1 394.6,131.1 394.7,131.1 394.8,131.0 394.9,131.0 395.0,131.0 395.1,130.9 395.2,130.9 395.3,130.9 395.4,130.8 395.5,130.8 395.6,130.8 395.7,130.7 395.8,130.7 395.9,130.7 396.1,130.7 396.2,130.6 396.3,130.6 396.4,130.6 396.5,130.5 396.6,130.5 396.7,130.5 396.8,130.5 396.9,130.4 397.0,130.4 397.1,130.4 397.2,130.3 397.3,130.3 397.4,130.3 397.5,130.3 397.6,130.2 397.7,130.2 397.8,130.2 397.9,130.2 398.1,130.1 398.2,130.1 398.3,130.1 398.4,130.1 398.5,130.0 398.6,130.0 398.7,130.0 398.8,130.0 398.9,129.9 399.0,129.9 399.1,129.9 399.2,129.9 399.3,129.9 399.4,129.8 399.5,129.8 399.6,129.8 399.7,129.8 399.8,129.7 399.9,129.7 400.1,129.7 400.2,129.7 400.3,129.7 400.4,129.6 400.5,129.6 400.7,133.6 400.9,137.2 401.1,140.3 401.3,143.2 401.5,145.7 401.7,148.1 401.9,150.1 402.2,152.1 402.4,153.8 402.6,155.4 402.8,156.9 403.0,158.2 403.2,159.5 403.4,160.7 403.6,161.8 403.8,162.8 404.1,163.8 404.3,164.7 404.5,165.5 404.7,166.3 404.9,167.1 405.1,167.8 405.3,168.5 405.5,169.2 405.7,169.8 405.9,170.4 406.2,171.0 406.4,171.5 406.6,172.0 406.8,172.5 407.0,173.0 407.2,173.5 407.4,173.9 407.6,174.3 407.8,174.7 408.1,175.1 408.3,175.5 408.5,175.8 408.7,176.2 408.9,176.5 409.1,176.8 409.3,177.1 409.5,177.4 409.7,177.7 409.9,178.0 410.2,178.2 410.4,178.5 410.6,178.7 410.8,178.9 411.0,179.2 411.2,179.4 411.4,179.6 411.6,179.8 411.8,180.0 412.1,180.2 412.3,180.3 412.5,180.5 412.7,180.7 412.9,180.8 413.1,181.0 413.3,181.1 413.5,181.3 413.7,181.4 413.9,181.5 414.2,181.7 414.4,181.8 414.6,181.9 414.8,182.0 415.0,182.1 415.2,182.2 415.4,182.3 415.6,182.4 415.8,182.5 416.1,182.6 416.3,182.7 416.5,182.7 416.7,182.8 416.9,182.9 417.1,183.0 417.3,183.0 417.5,183.1 417.7,183.2 417.9,183.2 418.2,183.3 418.4,183.4 418.6,183.4 418.8,183.5 419.0,183.5 419.2,183.6 419.4,183.6 419.6,183.7 419.8,183.7 420.1,183.7 420.3,183.8 420.5,183.8 420.7,183.9 420.9,183.9 421.1,183.9 421.3,184.0 421.5,184.0 421.6,184.0 421.7,184.0 421.8,184.0 421.9,184.0 422.1,184.0 422.2,184.0 422.3,184.0 422.4,184.0 422.5,184.0 422.6,184.0 422.7,184.0 422.8,184.0 422.9,184.0 423.0,184.0 423.1,184.0 423.2,184.0 423.3,180.5 423.4,177.4 423.5,174.5 423.6,171.8 423.7,169.4 423.8,167.2 423.9,165.1 424.1,163.2 424.2,161.5 424.3,159.9 424.4,158.5 424.5,157.2 424.6,155.9 424.7,154.8 424.8,153.8 424.9,152.8 425.0,152.0 425.1,151.2 425.2,150.4 425.3,149.7 425.4,149.1 425.5,148.5 425.6,148.0 425.7,147.5 425.8,147.0 425.9,146.6 426.1,146.2 426.2,145.8 426.3,145.5 426.4,145.1 426.5,144.8 426.6,144.6 426.7,144.3 426.8,144.1 426.9,143.8 427.0,143.6 427.1,143.4 427.2,143.2 427.3,143.0 427.4,142.9 427.5,142.7 427.6,142.6 427.7,142.4 427.8,142.3 427.9,142.1 428.1,142.0 428.2,141.9 428.3,141.8 428.4,141.7 428.5,141.6 428.6,141.5 428.7,141.4 428.8,141.3 428.9,141.2 429.0,141.1 429.1,141.0 429.2,140.9 429.3,140.9 429.4,140.8 429.5,140.7 429.6,140.6 429.7,140.6 429.8,140.5 429.9,140.4 430.1,140.3 430.2,140.3 430.3,140.2 430.4,140.2 430.5,140.1 430.6,140.0 430.7,140.0 430.8,139.9 430.9,139.9 431.0,139.8 431.1,139.7 431.2,139.7 431.3,139.6 431.4,139.6 431.5,139.5 431.6,139.5 431.7,139.4 431.8,139.4 431.9,139.3 432.1,139.3 432.2,139.2 432.3,139.2 432.4,139.1 432.5,139.1 432.6,139.0 432.7,139.0 432.8,139.0 432.9,138.9 433.0,138.9 433.1,138.8 433.2,138.8 433.3,138.7 433.4,138.7 433.5,138.7 433.6,138.6 433.7,138.6 433.8,138.5 433.9,138.5 434.0,138.5 434.2,138.4 434.3,138.4 434.4,138.3 434.5,138.3 434.6,138.3 434.7,138.2 434.8,138.2 434.9,138.2 435.0,138.1 435.1,138.1 435.2,138.0 435.3,138.0 435.4,138.0 435.5,137.9 435.6,137.9 435.7,137.9 435.8,137.8 435.9,137.8 436.0,137.8 436.2,137.7 436.3,137.7 436.4,137.7 436.5,137.7 436.6,137.6 436.7,137.6 436.8,137.6 436.9,137.5 437.0,137.5 437.1,137.5 437.2,137.4 437.3,137.4 437.4,137.4 437.5,137.4 437.6,137.3 437.7,137.3 437.8,137.3 437.9,137.2 438.0,137.2 438.2,137.2 438.3,137.2 438.4,137.1 438.5,137.1 438.6,137.1 438.7,137.1 438.8,137.0 438.9,137.0 439.0,137.0 439.1,137.0 439.2,136.9 439.3,136.9 439.4,136.9 439.5,136.9 439.6,136.9 439.7,136.8 439.8,136.8 439.9,136.8 440.0,136.8 440.2,136.7 440.3,136.7 440.4,136.7 440.5,136.7 440.6,136.7 440.7,136.6 440.8,136.6 440.9,136.6 441.0,136.6 441.1,136.6 441.2,136.5 441.3,136.5 441.4,136.5 441.5,136.5 441.6,136.5 441.7,136.4 441.8,136.4 441.9,136.4 442.0,136.4 442.2,136.4 442.3,136.3 442.4,136.3 442.5,136.3 442.6,136.3 442.8,139.8 443.0,142.9 443.2,145.7 443.4,148.2 443.6,150.4 443.8,152.5 444.0,154.3 444.3,156.0 444.5,157.5 444.7,158.9 444.9,160.2 445.1,161.4 445.3,162.5 445.5,163.5 445.7,164.5 445.9,165.4 446.2,166.2 446.4,167.0 446.6,167.8 446.8,168.5 447.0,169.2 447.2,169.8 447.4,170.4 447.6,171.0 447.8,171.5 448.0,172.1 448.3,172.6 448.5,173.0 448.7,173.5 448.9,173.9 449.1,174.4 449.3,174.8 449.5,175.1 449.7,175.5 449.9,175.9 450.2,176.2 450.4,176.5 450.6,176.8 450.8,177.1 451.0,177.4 451.2,177.7 451.4,178.0 451.6,178.2 451.8,178.5 452.0,178.7 452.3,178.9 452.5,179.2 452.7,179.4 452.9,179.6 453.1,179.8 453.3,180.0 453.5,180.1 453.7,180.3 453.9,180.5 454.2,180.6 454.4,180.8 454.6,180.9 454.8,181.1 455.0,181.2 455.2,181.3 455.4,181.5 455.6,181.6 455.8,181.7 456.0,181.8 456.3,181.9 456.5,182.0 456.7,182.1 456.9,182.2 457.1,182.3 457.3,182.4 457.5,182.5 457.7,182.6 457.9,182.7 458.2,182.8 458.4,182.8 458.6,182.9 458.8,183.0 459.0,183.0 459.2,183.1 459.4,183.2 459.6,183.2 459.8,183.3 460.0,183.3 460.3,183.4 460.5,183.4 460.7,183.5 460.9,183.5 461.1,183.6 461.3,183.6 461.5,183.7 461.7,183.7 461.9,183.7 462.2,183.8 462.4,183.8 462.6,183.8 462.8,183.9 463.0,183.9 463.2,183.9 463.4,184.0 463.6,184.0 463.7,184.0 463.8,184.0 463.9,184.0 464.0,184.0 464.2,184.0 464.3,184.0 464.4,184.0 464.5,184.0 464.6,184.0 464.7,184.0 464.8,184.0 464.9,184.0 465.0,184.0 465.1,184.0 465.2,184.0 465.3,184.0 465.4,181.1 465.5,178.4 465.6,175.9 465.7,173.7 465.8,171.6 465.9,169.7 466.0,168.0 466.2,166.4 466.3,165.0 466.4,163.6 466.5,162.4 466.6,161.3 466.7,160.3 466.8,159.3 466.9,158.4 467.0,157.6 467.1,156.9 467.2,156.2 467.3,155.6 467.4,155.0 467.5,154.5 467.6,154.0 467.7,153.5 467.8,153.1 467.9,152.7 468.0,152.3 468.2,152.0 468.3,151.7 468.4,151.4 468.5,151.1 468.6,150.9 468.7,150.6 468.8,150.4 468.9,150.2 469.0,150.0 469.1,149.8 469.2,149.7 469.3,149.5 469.4,149.3 469.5,149.2 469.6,149.1 469.7,148.9 469.8,148.8 469.9,148.7 470.0,148.6 470.2,148.5 470.3,148.4 470.4,148.3 470.5,148.2 470.6,148.1 470.7,148.0 470.8,147.9 470.9,147.9 471.0,147.8 471.1,147.7 471.2,147.6 471.3,147.6 471.4,147.5 471.5,147.4 471.6,147.4 471.7,147.3 471.8,147.2 471.9,147.2 472.0,147.1 472.2,147.1 472.3,147.0 472.4,147.0 472.5,146.9 472.6,146.8 472.7,146.8 472.8,146.7 472.9,146.7 473.0,146.6 473.1,146.6 473.2,146.6 473.3,146.5 473.4,146.5 473.5,146.4 473.6,146.4 473.7,146.3 473.8,146.3 473.9,146.2 474.0,146.2 474.1,146.2 474.3,146.1 474.4,146.1 474.5,146.0 474.6,146.0 474.7,146.0 474.8,145.9 474.9,145.9 475.0,145.8 475.1,145.8 475.2,145.8 475.3,145.7 475.4,145.7 475.5,145.7 475.6,145.6 475.7,145.6 475.8,145.6 475.9,145.5 476.0,145.5 476.1,145.5 476.3,145.4 476.4,145.4 476.5,145.4 476.6,145.3 476.7,145.3 476.8,145.3 476.9,145.2 477.0,145.2 477.1,145.2 477.2,145.1 477.3,145.1 477.4,145.1 477.5,145.1 477.6,145.0 477.7,145.0 477.8,145.0 477.9,144.9 478.0,144.9 478.1,144.9 478.3,144.9 478.4,144.8 478.5,144.8 478.6,144.8 478.7,144.8 478.8,144.7 478.9,144.7 479.0,144.7 479.1,144.7 479.2,144.6 479.3,144.6 479.4,144.6 479.5,144.6 479.6,144.5 479.7,144.5 479.8,144.5 479.9,144.5 480.0,144.4 480.1,144.4 480.3,144.4 480.4,144.4 480.5,144.4 480.6,144.3 480.7,144.3 480.8,144.3 480.9,144.3 481.0,144.2 481.1,144.2 481.2,144.2 481.3,144.2 481.4,144.2 481.5,144.1 481.6,144.1 481.7,144.1 481.8,144.1 481.9,144.1 482.0,144.0 482.1,144.0 482.3,144.0 482.4,144.0 482.5,144.0 482.6,144.0 482.7,143.9 482.8,143.9 482.9,143.9 483.0,143.9 483.1,143.9 483.2,143.9 483.3,143.8 483.4,143.8 483.5,143.8 483.6,143.8 483.7,143.8 483.8,143.8 483.9,143.7 484.0,143.7 484.1,143.7 484.3,143.7 484.4,143.7 484.5,143.7 484.6,143.6 484.7,143.6 484.8,145.2 485.0,147.9 485.2,150.4 485.4,152.6 485.6,154.6 485.8,156.4 486.0,158.1 486.3,159.5 486.5,160.9 486.7,162.1 486.9,163.2 487.1,164.3 487.3,165.3 487.5,166.2 487.7,167.0 487.9,167.8 488.1,168.5 488.4,169.2 488.6,169.9 488.8,170.5 489.0,171.1 489.2,171.6 489.4,172.1 489.6,172.6 489.8,173.1 490.0,173.6 490.3,174.0 490.5,174.4 490.7,174.8 490.9,175.2 491.1,175.5 491.3,175.9 491.5,176.2 491.7,176.5 491.9,176.8 492.1,177.1 492.4,177.4 492.6,177.7 492.8,177.9 493.0,178.2 493.2,178.4 493.4,178.6 493.6,178.9 493.8,179.1 494.0,179.3 494.3,179.5 494.5,179.7 494.7,179.8 494.9,180.0 495.1,180.2 495.3,180.3 495.5,180.5 495.7,180.6 495.9,180.8 496.1,180.9 496.4,181.1 496.6,181.2 496.8,181.3 497.0,181.4 497.2,181.5 497.4,181.7 497.6,181.8 497.8,181.9 498.0,182.0 498.3,182.1 498.5,182.1 498.7,182.2 498.9,182.3 499.1,182.4 499.3,182.5 499.5,182.5 499.7,182.6 499.9,182.7 500.1,182.8 500.4,182.8 500.6,182.9 500.8,182.9 501.0,183.0 501.2,183.0 501.4,183.1 501.6,183.1 501.8,183.2 502.0,183.2 502.3,183.3 502.5,183.3 502.7,183.4 502.9,183.4 503.1,183.5 503.3,183.5 503.5,183.5 503.7,183.6 503.9,183.6 504.1,183.6 504.4,183.7 504.6,183.7 504.8,183.7 505.0,183.7 505.2,183.8 505.4,183.8 505.6,183.8 505.8,183.8 505.9,183.8 506.0,183.8 506.1,183.8 506.3,183.8 506.4,183.8 506.5,183.8 506.6,183.8 506.7,183.8 506.8,183.8 506.9,183.8 507.0,183.8 507.1,183.8 507.2,183.8 507.3,183.8 507.4,183.8 507.5,181.7 507.6,179.7 507.7,177.8 507.8,176.2 507.9,174.6 508.0,173.2 508.1,171.9 508.3,170.8 508.4,169.7 508.5,168.7 508.6,167.8 508.7,166.9 508.8,166.2 508.9,165.5 509.0,164.8 509.1,164.2 509.2,163.7 509.3,163.2 509.4,162.7 509.5,162.3 509.6,161.9 509.7,161.5 509.8,161.2 509.9,160.8 510.0,160.6 510.1,160.3 510.3,160.0 510.4,159.8 510.5,159.6 510.6,159.4 510.7,159.2 510.8,159.0 510.9,158.8 511.0,158.7 511.1,158.6 511.2,158.4 511.3,158.3 511.4,158.2 511.5,158.1 511.6,157.9 511.7,157.8 511.8,157.8 511.9,157.7 512.0,157.6 512.1,157.5 512.3,157.4 512.4,157.3 512.5,157.3 512.6,157.2 512.7,157.1 512.8,157.1 512.9,157.0 513.0,156.9 513.1,156.9 513.2,156.8 513.3,156.8 513.4,156.7 513.5,156.7 513.6,156.6 513.7,156.6 513.8,156.5 513.9,156.5 514.0,156.4 514.1,156.4 514.3,156.4 514.4,156.3 514.5,156.3 514.6,156.2 514.7,156.2 514.8,156.2 514.9,156.1 515.0,156.1 515.1,156.1 515.2,156.0 515.3,156.0 515.4,155.9 515.5,155.9 515.6,155.9 515.7,155.8 515.8,155.8 515.9,155.8 516.0,155.7 516.1,155.7 516.2,155.7 516.4,155.7 516.5,155.6 516.6,155.6 516.7,155.6 516.8,155.5 516.9,155.5 517.0,155.5 517.1,155.5 517.2,155.4 517.3,155.4 517.4,155.4 517.5,155.3 517.6,155.3 517.7,155.3 517.8,155.3 517.9,155.2 518.0,155.2 518.1,155.2 518.2,155.2 518.4,155.1 518.5,155.1 518.6,155.1 518.7,155.1 518.8,155.0 518.9,155.0 519.0,155.0 519.1,155.0 519.2,155.0 519.3,154.9 519.4,154.9 519.5,154.9 519.6,154.9 519.7,154.8 519.8,154.8 519.9,154.8 520.0,154.8 520.1,154.8 520.2,154.7 520.4,154.7 520.5,154.7 520.6,154.7 520.7,154.7 520.8,154.6 520.9,154.6 521.0,154.6 521.1,154.6 521.2,154.6 521.3,154.5 521.4,154.5 521.5,154.5 521.6,154.5 521.7,154.5 521.8,154.5 521.9,154.4 522.0,154.4 522.1,154.4 522.2,154.4 522.4,154.4 522.5,154.4 522.6,154.3 522.7,154.3 522.8,154.3 522.9,154.3 523.0,154.3 523.1,154.3 523.2,154.2 523.3,154.2 523.4,154.2 523.5,154.2 523.6,154.2 523.7,154.2 523.8,154.2 523.9,154.1 524.0,154.1 524.1,154.1 524.2,154.1 524.4,154.1 524.5,154.1 524.6,154.1 524.7,154.0 524.8,154.0 524.9,154.0 525.0,154.0 525.1,154.0 525.2,154.0 525.3,154.0 525.4,154.0 525.5,153.9 525.6,153.9 525.7,153.9 525.8,153.9 525.9,153.9 526.0,153.9 526.1,153.9 526.2,153.9 526.4,153.9 526.5,153.8 526.6,153.8 526.7,153.8 526.8,153.8 526.9,154.9 527.1,157.0 527.3,158.9 527.5,160.5 527.7,162.0 527.9,163.4 528.1,164.6 528.4,165.7 528.6,166.7 528.8,167.6 529.0,168.5 529.2,169.2 529.4,170.0 529.6,170.6 529.8,171.3 530.0,171.8 530.2,172.4 530.5,172.9 530.7,173.4 530.9,173.9 531.1,174.3 531.3,174.7 531.5,175.1 531.7,175.5 531.9,175.8 532.1,176.2 532.4,176.5 532.6,176.8 532.8,177.1 533.0,177.4 533.2,177.6 533.4,177.9 533.6,178.1 533.8,178.4 534.0,178.6 534.2,178.8 534.5,179.0 534.7,179.2 534.9,179.4 535.1,179.6 535.3,179.8 535.5,180.0 535.7,180.1 535.9,180.3 536.1,180.4 536.4,180.6 536.6,180.7 536.8,180.9 537.0,181.0 537.2,181.1 537.4,181.2 537.6,181.3 537.8,181.5 538.0,181.6 538.2,181.7 538.5,181.8 538.7,181.9 538.9,181.9 539.1,182.0 539.3,182.1 539.5,182.2 539.7,182.3 539.9,182.4 540.1,182.4 540.4,182.5 540.6,182.6 540.8,182.6 541.0,182.7 541.2,182.8 541.4,182.8 541.6,182.9 541.8,182.9 542.0,183.0 542.2,183.0 542.5,183.1 542.7,183.1 542.9,183.2 543.1,183.2 543.3,183.2 543.5,183.3 543.7,183.3 543.9,183.4 544.1,183.4 544.4,183.4 544.6,183.5 544.8,183.5 545.0,183.5 545.2,183.6 545.4,183.6 545.6,183.6 545.8,183.6 546.0,183.7 546.2,183.7 546.5,183.7 546.7,183.7 546.9,183.7 547.1,183.8 547.3,183.8 547.5,183.8 547.7,183.8 547.9,183.8 548.0,183.8 548.1,183.8 548.2,183.8 548.4,183.8 548.5,183.8 548.6,183.8 548.7,183.8 548.8,183.8 548.9,183.8 549.0,183.8 549.1,183.8 549.2,183.8 549.3,183.8 549.4,183.8 549.5,183.8 549.6,182.2 549.7,180.7 549.8,179.3 549.9,178.0 550.0,176.8 550.1,175.8 550.2,174.8 550.4,173.9 550.5,173.1 550.6,172.3 550.7,171.6 550.8,171.0 550.9,170.4 551.0,169.9 551.1,169.4 551.2,168.9 551.3,168.5 551.4,168.1 551.5,167.7 551.6,167.4 551.7,167.1 551.8,166.8 551.9,166.6 552.0,166.3 552.1,166.1 552.2,165.9 552.4,165.7 552.5,165.5 552.6,165.4 552.7,165.2 552.8,165.1 552.9,164.9 553.0,164.8 553.1,164.7 553.2,164.6 553.3,164.5 553.4,164.4 553.5,164.3 553.6,164.2 553.7,164.1 553.8,164.1 553.9,164.0 554.0,163.9 554.1,163.8 554.2,163.8 554.4,163.7 554.5,163.7 554.6,163.6 554.7,163.6 554.8,163.5 554.9,163.5 555.0,163.4 555.1,163.4 555.2,163.3 555.3,163.3 555.4,163.2 555.5,163.2 555.6,163.2 555.7,163.1 555.8,163.1 555.9,163.1 556.0,163.0 556.1,163.0 556.2,163.0 556.4,162.9 556.5,162.9 556.6,162.9 556.7,162.8 556.8,162.8 556.9,162.8 557.0,162.7 557.1,162.7 557.2,162.7 557.3,162.7 557.4,162.6 557.5,162.6 557.6,162.6 557.7,162.6 557.8,162.5 557.9,162.5 558.0,162.5 558.1,162.5 558.2,162.4 558.3,162.4 558.5,162.4 558.6,162.4 558.7,162.3 558.8,162.3 558.9,162.3 559.0,162.3 559.1,162.3 559.2,162.2 559.3,162.2 559.4,162.2 559.5,162.2 559.6,162.2 559.7,162.1 559.8,162.1 559.9,162.1 560.0,162.1 560.1,162.1 560.2,162.0 560.3,162.0 560.5,162.0 560.6,162.0 560.7,162.0 560.8,161.9 560.9,161.9 561.0,161.9 561.1,161.9 561.2,161.9 561.3,161.9 561.4,161.8 561.5,161.8 561.6,161.8 561.7,161.8 561.8,161.8 561.9,161.8 562.0,161.7 562.1,161.7 562.2,161.7 562.3,161.7 562.5,161.7 562.6,161.7 562.7,161.6 562.8,161.6 562.9,161.6 563.0,161.6 563.1,161.6 563.2,161.6 563.3,161.6 563.4,161.5 563.5,161.5 563.6,161.5 563.7,161.5 563.8,161.5 563.9,161.5 564.0,161.5 564.1,161.5 564.2,161.4 564.3,161.4 564.5,161.4 564.6,161.4 564.7,161.4 564.8,161.4 564.9,161.4 565.0,161.4 565.1,161.3 565.2,161.3 565.3,161.3 565.4,161.3 565.5,161.3 565.6,161.3 565.7,161.3 565.8,161.3 565.9,161.2 566.0,161.2 566.1,161.2 566.2,161.2 566.3,161.2 566.5,161.2 566.6,161.2 566.7,161.2 566.8,161.2 566.9,161.2 567.0,161.1 567.1,161.1 567.2,161.1 567.3,161.1 567.4,161.1 567.5,161.1 567.6,161.1 567.7,161.1 567.8,161.1 567.9,161.1 568.0,161.0 568.1,161.0 568.2,161.0 568.3,161.0 568.5,161.0 568.6,161.0 568.7,161.0 568.8,161.0 568.9,161.0 569.0,161.8 569.2,163.4 569.4,164.8 569.6,166.1 569.8,167.2 570.0,168.3 570.2,169.2 570.5,170.0 570.7,170.8 570.9,171.5 571.1,172.1 571.3,172.7 571.5,173.3 571.7,173.8 571.9,174.3 572.1,174.7 572.3,175.1 572.6,175.5 572.8,175.9 573.0,176.2 573.2,176.6 573.4,176.9 573.6,177.2 573.8,177.5 574.0,177.7 574.2,178.0 574.5,178.2 574.7,178.5 574.9,178.7 575.1,178.9 575.3,179.1 575.5,179.3 575.7,179.5 575.9,179.7 576.1,179.8 576.3,180.0 576.6,180.2 576.8,180.3 577.0,180.5 577.2,180.6 577.4,180.8 577.6,180.9 577.8,181.0 578.0,181.1 578.2,181.2 578.5,181.4 578.7,181.5 578.9,181.6 579.1,181.7 579.3,181.8 579.5,181.8 579.7,181.9 579.9,182.0 580.1,182.1 580.3,182.2 580.6,182.3 580.8,182.3 581.0,182.4 581.2,182.5 581.4,182.5 581.6,182.6 581.8,182.7 582.0,182.7 582.2,182.8 582.5,182.8 582.7,182.9 582.9,182.9 583.1,183.0 583.3,183.0 583.5,183.1 583.7,183.1 583.9,183.1 584.1,183.2 584.3,183.2 584.6,183.3 584.8,183.3 585.0,183.3 585.2,183.4 585.4,183.4 585.6,183.4 585.8,183.4 586.0,183.5 586.2,183.5 586.5,183.5 586.7,183.5 586.9,183.6 587.1,183.6 587.3,183.6 587.5,183.6 587.7,183.7 587.9,183.7 588.1,183.7 588.3,183.7 588.6,183.7 588.8,183.7 589.0,183.8 589.2,183.8 589.4,183.8 589.6,183.8 589.8,183.8 590.0,183.8 590.1,183.8 590.2,183.8 590.3,183.8 590.5,183.8 590.6,183.8 590.7,183.8 590.8,183.8 590.9,183.8 591.0,183.8 591.1,183.8 591.2,183.8 591.3,183.8 591.4,183.8 591.5,183.8 591.6,183.8 591.7,182.7 591.8,181.6 591.9,180.7 592.0,179.8 592.1,179.0 592.2,178.2 592.3,177.6 592.5,176.9 592.6,176.4 592.7,175.8 592.8,175.4 592.9,174.9 593.0,174.5 593.1,174.1 593.2,173.8 593.3,173.5 593.4,173.2 593.5,172.9 593.6,172.7 593.7,172.4 593.8,172.2 593.9,172.0 594.0,171.9 594.1,171.7 594.2,171.5 594.3,171.4 594.5,171.3 594.6,171.1 594.7,171.0 594.8,170.9 594.9,170.8 595.0,170.7 595.1,170.6 595.2,170.6 595.3,170.5 595.4,170.4 595.5,170.4 595.6,170.3 595.7,170.2 595.8,170.2 595.9,170.1 596.0,170.1 596.1,170.0 596.2,170.0 596.3,169.9 596.5,169.9 596.6,169.8 596.7,169.8 596.8,169.8 596.9,169.7 597.0,169.7 597.1,169.7 597.2,169.6 597.3,169.6 597.4,169.6 597.5,169.6 597.6,169.5 597.7,169.5 597.8,169.5 597.9,169.4 598.0,169.4 598.1,169.4 598.2,169.4 598.3,169.4 598.5,169.3 598.6,169.3 598.7,169.3 598.8,169.3 598.9,169.2 599.0,169.2 599.1,169.2 599.2,169.2 599.3,169.2 599.4,169.2 599.5,169.1 599.6,169.1 599.7,169.1 599.8,169.1 599.9,169.1 600.0,169.0 600.1,169.0 600.2,169.0 600.3,169.0 600.4,169.0 600.6,169.0 600.7,168.9 600.8,168.9 600.9,168.9 601.0,168.9 601.1,168.9 601.2,168.9 601.3,168.9 601.4,168.8 601.5,168.8 601.6,168.8 601.7,168.8 601.8,168.8 601.9,168.8 602.0,168.8 602.1,168.7 602.2,168.7 602.3,168.7 602.4,168.7 602.6,168.7 602.7,168.7 602.8,168.7 602.9,168.7 603.0,168.6 603.1,168.6 603.2,168.6 603.3,168.6 603.4,168.6 603.5,168.6 603.6,168.6 603.7,168.6 603.8,168.5 603.9,168.5 604.0,168.5 604.1,168.5 604.2,168.5 604.3,168.5 604.4,168.5 604.6,168.5 604.7,168.5 604.8,168.4 604.9,168.4 605.0,168.4 605.1,168.4 605.2,168.4 605.3,168.4 605.4,168.4 605.5,168.4 605.6,168.4 605.7,168.4 605.8,168.3 605.9,168.3 606.0,168.3 606.1,168.3 606.2,168.3 606.3,168.3 606.4,168.3 606.6,168.3 606.7,168.3 606.8,168.3 606.9,168.3 607.0,168.3 607.1,168.2 607.2,168.2 607.3,168.2 607.4,168.2 607.5,168.2 607.6,168.2 607.7,168.2 607.8,168.2 607.9,168.2 608.0,168.2 608.1,168.2 608.2,168.2 608.3,168.1 608.4,168.1 608.6,168.1 608.7,168.1 608.8,168.1 608.9,168.1 609.0,168.1 609.1,168.1 609.2,168.1 609.3,168.1 609.4,168.1 609.5,168.1 609.6,168.1 609.7,168.1 609.8,168.1 609.9,168.0 610.0,168.0 610.1,168.0 610.2,168.0 610.3,168.0 610.4,168.0 610.6,168.0 610.7,168.0 610.8,168.0 610.9,168.0 611.0,168.0 611.1,168.6 611.3,169.7 611.5,170.7 611.7,171.5 611.9,172.3 612.1,173.0 612.3,173.7 612.6,174.3 612.8,174.8 613.0,175.3 613.2,175.7 613.4,176.1 613.6,176.5 613.8,176.9 614.0,177.2 614.2,177.5 614.4,177.8 614.7,178.1 614.9,178.3 615.1,178.6 615.3,178.8 615.5,179.0 615.7,179.2 615.9,179.4 616.1,179.6 616.3,179.8 616.6,180.0 616.8,180.1 617.0,180.3 617.2,180.4 617.4,180.6 617.6,180.7 617.8,180.8 618.0,180.9 618.2,181.1 618.4,181.2 618.7,181.3 618.9,181.4 619.1,181.5 619.3,181.6 619.5,181.7 619.7,181.8 619.9,181.9 620.1,182.0 620.3,182.0 620.6,182.1 620.8,182.2 621.0,182.3 621.2,182.3 621.4,182.4 621.6,182.5 621.8,182.5 622.0,182.6 622.2,182.6 622.4,182.7 622.7,182.7 622.9,182.8 623.1,182.8 623.3,182.9 623.5,182.9 623.7,183.0 623.9,183.0 624.1,183.1 624.3,183.1 624.6,183.1 624.8,183.2 625.0,183.2 625.2,183.2 625.4,183.3 625.6,183.3 625.8,183.3 626.0,183.4 626.2,183.4 626.4,183.4 626.7,183.4 626.9,183.5 627.1,183.5 627.3,183.5 627.5,183.5 627.7,183.5 627.9,183.6 628.1,183.6 628.3,183.6 628.6,183.6 628.8,183.6 629.0,183.7 629.2,183.7 629.4,183.7 629.6,183.7 629.8,183.7 630.0,183.7 630.2,183.7 630.4,183.8 630.7,183.8 630.9,183.8 631.1,183.8 631.3,183.8 631.5,183.8 631.7,183.8 631.9,183.8 632.1,183.8 632.2,183.8 632.3,183.8 632.4,183.8 632.6,183.8 632.7,183.8 632.8,183.8 632.9,183.8 633.0,183.8 633.1,183.8 633.2,183.8 633.3,183.8 633.4,183.8 633.5,183.8 633.6,183.8 633.7,183.8 633.8,183.1 633.9,182.4 634.0,181.8 634.1,181.2 634.2,180.7 634.3,180.2 634.4,179.8 634.6,179.4 634.7,179.0 634.8,178.7 634.9,178.4 635.0,178.1 635.1,177.8 635.2,177.6 635.3,177.4 635.4,177.2 635.5,177.0 635.6,176.8 635.7,176.7 635.8,176.5 635.9,176.4 636.0,176.3 636.1,176.1 636.2,176.0 636.3,175.9 636.4,175.9 636.6,175.8 636.7,175.7 636.8,175.6 636.9,175.5 637.0,175.5 637.1,175.4 637.2,175.4 637.3,175.3 637.4,175.3 637.5,175.2 637.6,175.2 637.7,175.1 637.8,175.1 637.9,175.1 638.0,175.0 638.1,175.0 638.2,175.0 638.3,174.9 638.4,174.9 638.6,174.9 638.7,174.9 638.8,174.8 638.9,174.8 639.0,174.8 639.1,174.8 639.2,174.7 639.3,174.7 639.4,174.7 639.5,174.7 639.6,174.7 639.7,174.6 639.8,174.6 639.9,174.6 640.0,174.6 640.1,174.6 640.2,174.6 640.3,174.6 640.4,174.5 640.6,174.5 640.7,174.5 640.8,174.5 640.9,174.5 641.0,174.5 641.1,174.5 641.2,174.4 641.3,174.4 641.4,174.4 641.5,174.4 641.6,174.4 641.7,174.4 641.8,174.4 641.9,174.4 642.0,174.3 642.1,174.3 642.2,174.3 642.3,174.3 642.4,174.3 642.5,174.3 642.7,174.3 642.8,174.3 642.9,174.3 643.0,174.3 643.1,174.2 643.2,174.2 643.3,174.2 643.4,174.2 643.5,174.2 643.6,174.2 643.7,174.2 643.8,174.2 643.9,174.2 644.0,174.2 644.1,174.2 644.2,174.1 644.3,174.1 644.4,174.1 644.5,174.1 644.7,174.1 644.8,174.1 644.9,174.1 645.0,174.1 645.1,174.1 645.2,174.1 645.3,174.1 645.4,174.1 645.5,174.0 645.6,174.0 645.7,174.0 645.8,174.0 645.9,174.0 646.0,174.0 646.1,174.0 646.2,174.0 646.3,174.0 646.4,174.0 646.5,174.0 646.7,174.0 646.8,174.0 646.9,174.0 647.0,173.9 647.1,173.9 647.2,173.9 647.3,173.9 647.4,173.9 647.5,173.9 647.6,173.9 647.7,173.9 647.8,173.9 647.9,173.9 648.0,173.9 648.1,173.9 648.2,173.9 648.3,173.9 648.4,173.9 648.5,173.9 648.7,173.8 648.8,173.8 648.9,173.8 649.0,173.8 649.1,173.8 649.2,173.8 649.3,173.8 649.4,173.8 649.5,173.8 649.6,173.8 649.7,173.8 649.8,173.8 649.9,173.8 650.0,173.8 650.1,173.8 650.2,173.8 650.3,173.8 650.4,173.8 650.5,173.8 650.7,173.8 650.8,173.7 650.9,173.7 651.0,173.7 651.1,173.7 651.2,173.7 651.3,173.7 651.4,173.7 651.5,173.7 651.6,173.7 651.7,173.7 651.8,173.7 651.9,173.7 652.0,173.7 652.1,173.7 652.2,173.7 652.3,173.7 652.4,173.7 652.5,173.7 652.7,173.7 652.8,173.7 652.9,173.7 653.0,173.7 653.1,173.7 653.2,174.1 653.4,174.9 653.6,175.6 653.8,176.2 654.0,176.8 654.2,177.3 654.4,177.8 654.7,178.2 654.9,178.6 655.1,178.9 655.3,179.3 655.5,179.6 655.7,179.8 655.9,180.1 656.1,180.3 656.3,180.6 656.5,180.8 656.8,181.0 657.0,181.2 657.2,181.3 657.4,181.5 657.6,181.7 657.8,181.8 658.0,182.0 658.2,182.1 658.4,182.2 658.7,182.3 658.9,182.5 659.1,182.6 659.3,182.7 659.5,182.8 659.7,182.9 659.9,183.0 660.1,183.1 660.3,183.2 660.5,183.2 660.8,183.3 661.0,183.4 661.2,183.5 661.4,183.5 661.6,183.6 661.8,183.7 662.0,183.7 662.2,183.8 662.4,183.9 662.7,183.9 662.9,184.0 663.1,184.0 663.3,184.1 663.5,184.1 663.7,184.2 663.9,184.2 664.1,184.3 664.3,184.3 664.5,184.3 664.8,184.4 665.0,184.4 665.2,184.4 665.4,184.5 665.6,184.5 665.8,184.5 666.0,184.6 666.2,184.6 666.4,184.6 666.7,184.7 666.9,184.7 667.1,184.7 667.3,184.7 667.5,184.8 667.7,184.8 667.9,184.8 668.1,184.8 668.3,184.8 668.5,184.9 668.8,184.9 669.0,184.9 669.2,184.9 669.4,184.9 669.6,184.9 669.8,185.0 670.0,185.0 670.2,185.0 670.4,185.0 670.7,185.0 670.9,185.0 671.1,185.0 671.3,185.0 671.5,185.1 671.7,185.1 671.9,185.1 672.1,185.1 672.3,185.1 672.5,185.1 672.8,185.1 673.0,185.1 673.2,185.1 673.4,185.1 673.6,185.1 673.8,185.2 674.0,185.2" fill="none" stroke="none" marker-start="url(#mt)" marker-mid="url(#mt)" marker-end="url(#mt)"/>
<polyline points="368.9,165.2 369.1,165.7 369.3,166.3 369.5,166.8 369.7,167.4 370.0,167.9 370.2,168.4 370.4,168.9 370.6,169.4 370.8,169.9 371.0,170.4 371.2,170.9 371.4,171.3 371.6,171.8 371.8,172.2 372.1,172.7 372.3,173.1 372.5,173.5 372.7,173.9 372.9,174.3 373.1,174.7 373.3,175.1 373.5,175.5 373.7,175.9 374.0,176.2 374.2,176.6 374.4,176.9 374.6,177.3 374.8,177.6 375.0,177.9 375.2,178.2 375.4,178.6 375.6,178.9 375.8,179.2 376.1,179.5 376.3,179.8 376.5,180.0 376.7,180.3 376.9,180.6 377.1,180.9 377.3,181.1 377.5,181.4 377.7,181.6 378.0,181.9 378.2,182.1 378.4,182.4 378.6,182.6 378.8,182.8 379.0,183.1 379.2,183.3 379.4,183.5 379.6,183.5 379.7,183.5 379.8,183.5 380.0,183.5 380.1,183.5 380.2,174.2 380.3,165.8 380.4,158.2 380.5,151.2 380.6,144.9 380.7,139.2 380.8,134.0 380.9,129.3 381.0,125.1 381.1,121.2 381.2,117.6 381.3,114.4 381.4,111.5 381.5,108.8 381.6,106.4 381.7,104.2 381.8,102.2 382.0,100.4 382.1,98.7 382.2,97.1 382.3,95.7 382.4,94.5 382.5,93.3 382.6,92.2 382.7,91.2 382.8,90.3 382.9,89.5 383.0,88.7 383.1,88.0 383.2,87.3 383.3,86.7 383.4,86.2 383.5,85.7 383.6,85.2 383.7,84.7 383.8,84.3 384.0,83.9 384.1,83.5 384.2,83.2 384.3,82.9 384.4,82.6 384.5,82.3 384.6,82.0 384.7,81.8 384.8,81.5 384.9,81.3 385.0,81.1 385.1,80.9 385.2,80.7 385.3,80.5 385.4,80.3 385.5,80.1 385.6,80.0 385.7,79.8 385.8,79.6 386.0,79.5 386.1,79.4 386.2,79.2 386.3,79.1 386.4,78.9 386.5,78.8 386.6,78.7 386.7,78.6 386.8,78.4 386.9,78.3 387.0,78.2 387.1,78.1 387.2,78.0 387.3,77.9 387.4,77.8 387.5,77.7 387.6,77.6 387.7,77.5 387.8,77.4 388.0,77.3 388.1,77.2 388.2,77.1 388.3,77.0 388.4,76.9 388.5,76.8 388.6,76.8 388.7,76.7 388.8,76.6 388.9,76.5 389.0,76.4 389.1,76.3 389.2,76.3 389.3,76.2 389.4,76.1 389.5,76.0 389.6,76.0 389.7,75.9 389.8,75.8 389.9,75.7 390.1,75.7 390.2,75.6 390.3,75.5 390.4,75.5 390.5,75.4 390.6,75.3 390.7,75.3 390.8,75.2 390.9,75.1 391.0,75.1 391.1,75.0 391.2,75.0 391.3,74.9 391.4,74.8 391.5,74.8 391.6,74.7 391.7,74.7 391.8,74.6 391.9,74.6 392.1,74.5 392.2,74.4 392.3,74.4 392.4,74.3 392.5,74.3 392.6,74.2 392.7,74.2 392.8,74.1 392.9,74.1 393.0,74.0 393.1,74.0 393.2,73.9 393.3,73.9 393.4,73.8 393.5,73.8 393.6,73.8 393.7,73.7 393.8,73.7 393.9,73.6 394.1,73.6 394.2,73.5 394.3,73.5 394.4,73.5 394.5,73.4 394.6,73.4 394.7,73.3 394.8,73.3 394.9,73.2 395.0,73.2 395.1,73.2 395.2,73.1 395.3,73.1 395.4,73.1 395.5,73.0 395.6,73.0 395.7,73.0 395.8,72.9 395.9,72.9 396.1,72.9 396.2,72.8 396.3,72.8 396.4,72.8 396.5,72.7 396.6,72.7 396.7,72.7 396.8,72.6 396.9,72.6 397.0,72.6 397.1,72.5 397.2,72.5 397.3,72.5 397.4,72.4 397.5,72.4 397.6,72.4 397.7,72.4 397.8,72.3 397.9,72.3 398.1,72.3 398.2,72.2 398.3,72.2 398.4,72.2 398.5,72.2 398.6,72.1 398.7,72.1 398.8,72.1 398.9,72.1 399.0,72.0 399.1,72.0 399.2,72.0 399.3,72.0 399.4,72.0 399.5,71.9 399.6,71.9 399.7,71.9 399.8,71.9 399.9,71.8 400.1,71.8 400.2,71.8 400.3,71.8 400.4,71.8 400.5,71.7 400.7,82.0 400.9,90.6 401.1,97.9 401.3,104.1 401.5,109.4 401.7,114.0 401.9,117.9 402.2,121.4 402.4,124.4 402.6,127.0 402.8,129.4 403.0,131.6 403.2,133.5 403.4,135.3 403.6,136.9 403.8,138.4 404.1,139.8 404.3,141.1 404.5,142.4 404.7,143.6 404.9,144.7 405.1,145.8 405.3,146.8 405.5,147.8 405.7,148.8 405.9,149.7 406.2,150.6 406.4,151.5 406.6,152.4 406.8,153.2 407.0,154.0 407.2,154.8 407.4,155.6 407.6,156.3 407.8,157.1 408.1,157.8 408.3,158.5 408.5,159.2 408.7,159.9 408.9,160.6 409.1,161.2 409.3,161.9 409.5,162.5 409.7,163.1 409.9,163.7 410.2,164.3 410.4,164.9 410.6,165.4 410.8,166.0 411.0,166.5 411.2,167.1 411.4,167.6 411.6,168.1 411.8,168.6 412.1,169.1 412.3,169.6 412.5,170.0 412.7,170.5 412.9,170.9 413.1,171.4 413.3,171.8 413.5,172.3 413.7,172.7 413.9,173.1 414.2,173.5 414.4,173.9 414.6,174.3 414.8,174.6 415.0,175.0 415.2,175.4 415.4,175.7 415.6,176.1 415.8,176.4 416.1,176.8 416.3,177.1 416.5,177.4 416.7,177.7 416.9,178.0 417.1,178.3 417.3,178.6 417.5,178.9 417.7,179.2 417.9,179.5 418.2,179.8 418.4,180.0 418.6,180.3 418.8,180.6 419.0,180.8 419.2,181.1 419.4,181.3 419.6,181.6 419.8,181.8 420.1,182.0 420.3,182.2 420.5,182.5 420.7,182.7 420.9,182.9 421.1,183.1 421.3,183.3 421.5,183.5 421.6,183.5 421.7,183.5 421.8,183.5 421.9,183.5 422.1,183.5 422.2,183.5 422.3,176.8 422.4,170.7 422.5,165.0 422.6,159.7 422.7,154.7 422.8,150.2 422.9,145.9 423.0,142.0 423.1,138.4 423.2,135.0 423.3,131.8 423.4,128.9 423.5,126.2 423.6,123.7 423.7,121.4 423.8,119.2 423.9,117.1 424.1,115.3 424.2,113.5 424.3,111.9 424.4,110.3 424.5,108.9 424.6,107.6 424.7,106.4 424.8,105.2 424.9,104.1 425.0,103.1 425.1,102.2 425.2,101.3 425.3,100.5 425.4,99.7 425.5,99.0 425.6,98.3 425.7,97.7 425.8,97.1 425.9,96.5 426.1,96.0 426.2,95.5 426.3,95.0 426.4,94.6 426.5,94.2 426.6,93.8 426.7,93.4 426.8,93.0 426.9,92.7 427.0,92.4 427.1,92.1 427.2,91.8 427.3,91.5 427.4,91.2 427.5,91.0 427.6,90.8 427.7,90.5 427.8,90.3 427.9,90.1 428.1,89.9 428.2,89.7 428.3,89.5 428.4,89.3 428.5,89.2 428.6,89.0 428.7,88.8 428.8,88.7 428.9,88.5 429.0,88.4 429.1,88.3 429.2,88.1 429.3,88.0 429.4,87.9 429.5,87.7 429.6,87.6 429.7,87.5 429.8,87.4 429.9,87.3 430.1,87.2 430.2,87.1 430.3,87.0 430.4,86.8 430.5,86.7 430.6,86.7 430.7,86.6 430.8,86.5 430.9,86.4 431.0,86.3 431.1,86.2 431.2,86.1 431.3,86.0 431.4,85.9 431.5,85.9 431.6,85.8 431.7,85.7 431.8,85.6 431.9,85.5 432.1,85.5 432.2,85.4 432.3,85.3 432.4,85.3 432.5,85.2 432.6,85.1 432.7,85.0 432.8,85.0 432.9,84.9 433.0,84.8 433.1,84.8 433.2,84.7 433.3,84.7 433.4,84.6 433.5,84.5 433.6,84.5 433.7,84.4 433.8,84.4 433.9,84.3 434.0,84.2 434.2,84.2 434.3,84.1 434.4,84.1 434.5,84.0 434.6,84.0 434.7,83.9 434.8,83.9 434.9,83.8 435.0,83.8 435.1,83.7 435.2,83.7 435.3,83.6 435.4,83.6 435.5,83.5 435.6,83.5 435.7,83.4 435.8,83.4 435.9,83.3 436.0,83.3 436.2,83.3 436.3,83.2 436.4,83.2 436.5,83.1 436.6,83.1 436.7,83.0 436.8,83.0 436.9,83.0 437.0,82.9 437.1,82.9 437.2,82.8 437.3,82.8 437.4,82.8 437.5,82.7 437.6,82.7 437.7,82.7 437.8,82.6 437.9,82.6 438.0,82.6 438.2,82.5 438.3,82.5 438.4,82.5 438.5,82.4 438.6,82.4 438.7,82.4 438.8,82.3 438.9,82.3 439.0,82.3 439.1,82.2 439.2,82.2 439.3,82.2 439.4,82.1 439.5,82.1 439.6,82.1 439.7,82.1 439.8,82.0 439.9,82.0 440.0,82.0 440.2,82.0 440.3,81.9 440.4,81.9 440.5,81.9 440.6,81.8 440.7,81.8 440.8,81.8 440.9,81.8 441.0,81.7 441.1,81.7 441.2,81.7 441.3,81.7 441.4,81.7 441.5,81.6 441.6,81.6 441.7,81.6 441.8,81.6 441.9,81.5 442.0,81.5 442.2,81.5 442.3,81.5 442.4,81.5 442.5,81.4 442.6,81.4 442.8,90.8 443.0,98.7 443.2,105.4 443.4,111.1 443.6,115.9 443.8,120.1 444.0,123.7 444.3,126.8 444.5,129.6 444.7,132.0 444.9,134.2 445.1,136.1 445.3,137.9 445.5,139.5 445.7,141.0 445.9,142.4 446.2,143.7 446.4,144.9 446.6,146.0 446.8,147.1 447.0,148.2 447.2,149.2 447.4,150.1 447.6,151.0 447.8,151.9 448.0,152.8 448.3,153.6 448.5,154.4 448.7,155.2 448.9,155.9 449.1,156.7 449.3,157.4 449.5,158.1 449.7,158.8 449.9,159.5 450.2,160.2 450.4,160.8 450.6,161.5 450.8,162.1 451.0,162.7 451.2,163.3 451.4,163.9 451.6,164.4 451.8,165.0 452.0,165.5 452.3,166.1 452.5,166.6 452.7,167.1 452.9,167.6 453.1,168.1 453.3,168.6 453.5,169.1 453.7,169.6 453.9,170.0 454.2,170.5 454.4,170.9 454.6,171.3 454.8,171.8 455.0,172.2 455.2,172.6 455.4,173.0 455.6,173.4 455.8,173.8 456.0,174.1 456.3,174.5 456.5,174.9 456.7,175.2 456.9,175.6 457.1,175.9 457.3,176.2 457.5,176.6 457.7,176.9 457.9,177.2 458.2,177.5 458.4,177.8 458.6,178.1 458.8,178.4 459.0,178.7 459.2,178.9 459.4,179.2 459.6,179.5 459.8,179.7 460.0,180.0 460.3,180.3 460.5,180.5 460.7,180.7 460.9,181.0 461.1,181.2 461.3,181.4 461.5,181.7 461.7,181.9 461.9,182.1 462.2,182.3 462.4,182.5 462.6,182.7 462.8,182.9 463.0,183.1 463.2,183.3 463.4,183.5 463.6,183.7 463.7,183.7 463.8,183.7 463.9,183.7 464.0,183.7 464.2,183.7 464.3,183.7 464.4,178.8 464.5,174.3 464.6,170.0 464.7,165.9 464.8,162.1 464.9,158.6 465.0,155.2 465.1,152.1 465.2,149.1 465.3,146.3 465.4,143.7 465.5,141.2 465.6,138.9 465.7,136.7 465.8,134.6 465.9,132.6 466.0,130.8 466.2,129.1 466.3,127.4 466.4,125.9 466.5,124.4 466.6,123.1 466.7,121.8 466.8,120.5 466.9,119.4 467.0,118.3 467.1,117.3 467.2,116.3 467.3,115.4 467.4,114.5 467.5,113.7 467.6,112.9 467.7,112.1 467.8,111.4 467.9,110.8 468.0,110.1 468.2,109.5 468.3,109.0 468.4,108.4 468.5,107.9 468.6,107.4 468.7,107.0 468.8,106.5 468.9,106.1 469.0,105.7 469.1,105.3 469.2,104.9 469.3,104.6 469.4,104.3 469.5,103.9 469.6,103.6 469.7,103.3 469.8,103.1 469.9,102.8 470.0,102.5 470.2,102.3 470.3,102.1 470.4,101.8 470.5,101.6 470.6,101.4 470.7,101.2 470.8,101.0 470.9,100.8 471.0,100.6 471.1,100.5 471.2,100.3 471.3,100.1 471.4,100.0 471.5,99.8 471.6,99.7 471.7,99.5 471.8,99.4 471.9,99.3 472.0,99.1 472.2,99.0 472.3,98.9 472.4,98.8 472.5,98.6 472.6,98.5 472.7,98.4 472.8,98.3 472.9,98.2 473.0,98.1 473.1,98.0 473.2,97.9 473.3,97.8 473.4,97.7 473.5,97.6 473.6,97.5 473.7,97.5 473.8,97.4 473.9,97.3 474.0,97.2 474.1,97.1 474.3,97.1 474.4,97.0 474.5,96.9 474.6,96.8 474.7,96.8 474.8,96.7 474.9,96.6 475.0,96.5 475.1,96.5 475.2,96.4 475.3,96.3 475.4,96.3 475.5,96.2 475.6,96.2 475.7,96.1 475.8,96.0 475.9,96.0 476.0,95.9 476.1,95.9 476.3,95.8 476.4,95.7 476.5,95.7 476.6,95.6 476.7,95.6 476.8,95.5 476.9,95.5 477.0,95.4 477.1,95.4 477.2,95.3 477.3,95.3 477.4,95.2 477.5,95.2 477.6,95.1 477.7,95.1 477.8,95.1 477.9,95.0 478.0,95.0 478.1,94.9 478.3,94.9 478.4,94.8 478.5,94.8 478.6,94.8 478.7,94.7 478.8,94.7 478.9,94.6 479.0,94.6 479.1,94.6 479.2,94.5 479.3,94.5 479.4,94.4 479.5,94.4 479.6,94.4 479.7,94.3 479.8,94.3 479.9,94.3 480.0,94.2 480.1,94.2 480.3,94.2 480.4,94.1 480.5,94.1 480.6,94.1 480.7,94.0 480.8,94.0 480.9,94.0 481.0,93.9 481.1,93.9 481.2,93.9 481.3,93.9 481.4,93.8 481.5,93.8 481.6,93.8 481.7,93.7 481.8,93.7 481.9,93.7 482.0,93.7 482.1,93.6 482.3,93.6 482.4,93.6 482.5,93.6 482.6,93.5 482.7,93.5 482.8,93.5 482.9,93.5 483.0,93.4 483.1,93.4 483.2,93.4 483.3,93.4 483.4,93.3 483.5,93.3 483.6,93.3 483.7,93.3 483.8,93.3 483.9,93.2 484.0,93.2 484.1,93.2 484.3,93.2 484.4,93.2 484.5,93.1 484.6,93.1 484.7,93.1 484.8,97.5 485.0,105.1 485.2,111.6 485.4,117.1 485.6,121.8 485.8,125.8 486.0,129.3 486.3,132.2 486.5,134.9 486.7,137.2 486.9,139.2 487.1,141.1 487.3,142.7 487.5,144.2 487.7,145.6 487.9,146.9 488.1,148.1 488.4,149.2 488.6,150.3 488.8,151.3 489.0,152.2 489.2,153.1 489.4,154.0 489.6,154.8 489.8,155.6 490.0,156.4 490.3,157.1 490.5,157.9 490.7,158.6 490.9,159.3 491.1,159.9 491.3,160.6 491.5,161.2 491.7,161.9 491.9,162.5 492.1,163.1 492.4,163.7 492.6,164.2 492.8,164.8 493.0,165.3 493.2,165.9 493.4,166.4 493.6,166.9 493.8,167.4 494.0,167.9 494.3,168.4 494.5,168.9 494.7,169.3 494.9,169.8 495.1,170.3 495.3,170.7 495.5,171.1 495.7,171.5 495.9,172.0 496.1,172.4 496.4,172.8 496.6,173.1 496.8,173.5 497.0,173.9 497.2,174.3 497.4,174.6 497.6,175.0 497.8,175.3 498.0,175.7 498.3,176.0 498.5,176.3 498.7,176.6 498.9,176.9 499.1,177.3 499.3,177.6 499.5,177.8 499.7,178.1 499.9,178.4 500.1,178.7 500.4,179.0 500.6,179.2 500.8,179.5 501.0,179.7 501.2,180.0 501.4,180.2 501.6,180.5 501.8,180.7 502.0,181.0 502.3,181.2 502.5,181.4 502.7,181.6 502.9,181.8 503.1,182.0 503.3,182.2 503.5,182.4 503.7,182.6 503.9,182.8 504.1,183.0 504.4,183.2 504.6,183.4 504.8,183.6 505.0,183.7 505.2,183.9 505.4,184.1 505.6,184.3 505.8,184.3 505.9,184.3 506.0,184.3 506.1,184.3 506.3,184.3 506.4,184.3 506.5,181.0 506.6,177.7 506.7,174.7 506.8,171.8 506.9,169.1 507.0,166.4 507.1,164.0 507.2,161.6 507.3,159.4 507.4,157.3 507.5,155.2 507.6,153.3 507.7,151.5 507.8,149.7 507.9,148.1 508.0,146.5 508.1,145.0 508.3,143.6 508.4,142.3 508.5,141.0 508.6,139.7 508.7,138.6 508.8,137.5 508.9,136.4 509.0,135.4 509.1,134.4 509.2,133.5 509.3,132.7 509.4,131.8 509.5,131.0 509.6,130.3 509.7,129.6 509.8,128.9 509.9,128.2 510.0,127.6 510.1,127.0 510.3,126.4 510.4,125.9 510.5,125.3 510.6,124.8 510.7,124.4 510.8,123.9 510.9,123.5 511.0,123.0 511.1,122.6 511.2,122.2 511.3,121.9 511.4,121.5 511.5,121.2 511.6,120.9 511.7,120.5 511.8,120.2 511.9,120.0 512.0,119.7 512.1,119.4 512.3,119.1 512.4,118.9 512.5,118.7 512.6,118.4 512.7,118.2 512.8,118.0 512.9,117.8 513.0,117.6 513.1,117.4 513.2,117.2 513.3,117.0 513.4,116.9 513.5,116.7 513.6,116.5 513.7,116.4 513.8,116.2 513.9,116.1 514.0,115.9 514.1,115.8 514.3,115.7 514.4,115.5 514.5,115.4 514.6,115.3 514.7,115.2 514.8,115.1 514.9,114.9 515.0,114.8 515.1,114.7 515.2,114.6 515.3,114.5 515.4,114.4 515.5,114.3 515.6,114.2 515.7,114.1 515.8,114.1 515.9,114.0 516.0,113.9 516.1,113.8 516.2,113.7 516.4,113.6 516.5,113.6 516.6,113.5 516.7,113.4 516.8,113.3 516.9,113.3 517.0,113.2 517.1,113.1 517.2,113.1 517.3,113.0 517.4,112.9 517.5,112.9 517.6,112.8 517.7,112.8 517.8,112.7 517.9,112.6 518.0,112.6 518.1,112.5 518.2,112.5 518.4,112.4 518.5,112.4 518.6,112.3 518.7,112.3 518.8,112.2 518.9,112.2 519.0,112.1 519.1,112.1 519.2,112.0 519.3,112.0 519.4,111.9 519.5,111.9 519.6,111.8 519.7,111.8 519.8,111.8 519.9,111.7 520.0,111.7 520.1,111.6 520.2,111.6 520.4,111.6 520.5,111.5 520.6,111.5 520.7,111.4 520.8,111.4 520.9,111.4 521.0,111.3 521.1,111.3 521.2,111.3 521.3,111.2 521.4,111.2 521.5,111.2 521.6,111.1 521.7,111.1 521.8,111.1 521.9,111.0 522.0,111.0 522.1,111.0 522.2,110.9 522.4,110.9 522.5,110.9 522.6,110.8 522.7,110.8 522.8,110.8 522.9,110.8 523.0,110.7 523.1,110.7 523.2,110.7 523.3,110.6 523.4,110.6 523.5,110.6 523.6,110.6 523.7,110.5 523.8,110.5 523.9,110.5 524.0,110.5 524.1,110.4 524.2,110.4 524.4,110.4 524.5,110.4 524.6,110.4 524.7,110.3 524.8,110.3 524.9,110.3 525.0,110.3 525.1,110.2 525.2,110.2 525.3,110.2 525.4,110.2 525.5,110.2 525.6,110.1 525.7,110.1 525.8,110.1 525.9,110.1 526.0,110.1 526.1,110.0 526.2,110.0 526.4,110.0 526.5,110.0 526.6,110.0 526.7,110.0 526.8,109.9 526.9,113.7 527.1,120.3 527.3,125.8 527.5,130.5 527.7,134.5 527.9,138.0 528.1,140.9 528.4,143.5 528.6,145.8 528.8,147.7 529.0,149.5 529.2,151.1 529.4,152.5 529.6,153.8 529.8,155.0 530.0,156.1 530.2,157.1 530.5,158.1 530.7,159.0 530.9,159.8 531.1,160.6 531.3,161.4 531.5,162.1 531.7,162.8 531.9,163.5 532.1,164.2 532.4,164.8 532.6,165.5 532.8,166.1 533.0,166.7 533.2,167.2 533.4,167.8 533.6,168.4 533.8,168.9 534.0,169.4 534.2,169.9 534.5,170.4 534.7,170.9 534.9,171.4 535.1,171.9 535.3,172.3 535.5,172.8 535.7,173.2 535.9,173.7 536.1,174.1 536.4,174.5 536.6,174.9 536.8,175.3 537.0,175.7 537.2,176.1 537.4,176.5 537.6,176.8 537.8,177.2 538.0,177.6 538.2,177.9 538.5,178.2 538.7,178.6 538.9,178.9 539.1,179.2 539.3,179.5 539.5,179.8 539.7,180.1 539.9,180.4 540.1,180.7 540.4,181.0 540.6,181.3 540.8,181.6 541.0,181.8 541.2,182.1 541.4,182.4 541.6,182.6 541.8,182.9 542.0,183.1 542.2,183.3 542.5,183.6 542.7,183.8 542.9,184.0 543.1,184.2 543.3,184.5 543.5,184.7 543.7,184.9 543.9,185.1 544.1,185.3 544.4,185.5 544.6,185.7 544.8,185.8 545.0,186.0 545.2,186.2 545.4,186.4 545.6,186.6 545.8,186.7 546.0,186.9 546.2,187.0 546.5,187.2 546.7,187.4 546.9,187.5 547.1,187.7 547.3,187.8 547.5,188.0 547.7,188.1 547.9,188.2 548.0,188.2 548.1,188.2 548.2,188.2 548.4,188.2 548.5,188.2 548.6,185.9 548.7,183.7 548.8,181.7 548.9,179.7 549.0,177.8 549.1,176.0 549.2,174.3 549.3,172.6 549.4,171.0 549.5,169.5 549.6,168.0 549.7,166.6 549.8,165.3 549.9,164.0 550.0,162.8 550.1,161.6 550.2,160.5 550.4,159.5 550.5,158.4 550.6,157.4 550.7,156.5 550.8,155.6 550.9,154.7 551.0,153.9 551.1,153.1 551.2,152.3 551.3,151.6 551.4,150.9 551.5,150.2 551.6,149.6 551.7,149.0 551.8,148.4 551.9,147.8 552.0,147.2 552.1,146.7 552.2,146.2 552.4,145.7 552.5,145.3 552.6,144.8 552.7,144.4 552.8,144.0 552.9,143.6 553.0,143.2 553.1,142.8 553.2,142.4 553.3,142.1 553.4,141.8 553.5,141.5 553.6,141.1 553.7,140.9 553.8,140.6 553.9,140.3 554.0,140.0 554.1,139.8 554.2,139.5 554.4,139.3 554.5,139.1 554.6,138.8 554.7,138.6 554.8,138.4 554.9,138.2 555.0,138.0 555.1,137.8 555.2,137.7 555.3,137.5 555.4,137.3 555.5,137.2 555.6,137.0 555.7,136.8 555.8,136.7 555.9,136.5 556.0,136.4 556.1,136.3 556.2,136.1 556.4,136.0 556.5,135.9 556.6,135.8 556.7,135.7 556.8,135.5 556.9,135.4 557.0,135.3 557.1,135.2 557.2,135.1 557.3,135.0 557.4,134.9 557.5,134.8 557.6,134.7 557.7,134.6 557.8,134.6 557.9,134.5 558.0,134.4 558.1,134.3 558.2,134.2 558.3,134.2 558.5,134.1 558.6,134.0 558.7,133.9 558.8,133.9 558.9,133.8 559.0,133.7 559.1,133.7 559.2,133.6 559.3,133.6 559.4,133.5 559.5,133.4 559.6,133.4 559.7,133.3 559.8,133.3 559.9,133.2 560.0,133.2 560.1,133.1 560.2,133.1 560.3,133.0 560.5,133.0 560.6,132.9 560.7,132.9 560.8,132.8 560.9,132.8 561.0,132.7 561.1,132.7 561.2,132.6 561.3,132.6 561.4,132.6 561.5,132.5 561.6,132.5 561.7,132.4 561.8,132.4 561.9,132.4 562.0,132.3 562.1,132.3 562.2,132.2 562.3,132.2 562.5,132.2 562.6,132.1 562.7,132.1 562.8,132.1 562.9,132.0 563.0,132.0 563.1,132.0 563.2,131.9 563.3,131.9 563.4,131.9 563.5,131.9 563.6,131.8 563.7,131.8 563.8,131.8 563.9,131.7 564.0,131.7 564.1,131.7 564.2,131.7 564.3,131.6 564.5,131.6 564.6,131.6 564.7,131.6 564.8,131.5 564.9,131.5 565.0,131.5 565.1,131.5 565.2,131.4 565.3,131.4 565.4,131.4 565.5,131.4 565.6,131.3 565.7,131.3 565.8,131.3 565.9,131.3 566.0,131.3 566.1,131.2 566.2,131.2 566.3,131.2 566.5,131.2 566.6,131.2 566.7,131.1 566.8,131.1 566.9,131.1 567.0,131.1 567.1,131.1 567.2,131.0 567.3,131.0 567.4,131.0 567.5,131.0 567.6,131.0 567.7,131.0 567.8,130.9 567.9,130.9 568.0,130.9 568.1,130.9 568.2,130.9 568.3,130.9 568.5,130.8 568.6,130.8 568.7,130.8 568.8,130.8 568.9,130.8 569.0,133.4 569.2,137.9 569.4,141.7 569.6,145.0 569.8,147.7 570.0,150.1 570.2,152.1 570.5,153.9 570.7,155.5 570.9,156.8 571.1,158.0 571.3,159.1 571.5,160.1 571.7,161.0 571.9,161.8 572.1,162.6 572.3,163.3 572.6,163.9 572.8,164.5 573.0,165.1 573.2,165.7 573.4,166.2 573.6,166.7 573.8,167.2 574.0,167.7 574.2,168.2 574.5,168.6 574.7,169.0 574.9,169.5 575.1,169.9 575.3,170.3 575.5,170.6 575.7,171.0 575.9,171.4 576.1,171.8 576.3,172.1 576.6,172.5 576.8,172.8 577.0,173.1 577.2,173.5 577.4,173.8 577.6,174.1 577.8,174.4 578.0,174.7 578.2,175.0 578.5,175.3 578.7,175.5 578.9,175.8 579.1,176.1 579.3,176.4 579.5,176.6 579.7,176.9 579.9,177.1 580.1,177.4 580.3,177.6 580.6,177.8 580.8,178.1 581.0,178.3 581.2,178.5 581.4,178.7 581.6,178.9 581.8,179.1 582.0,179.3 582.2,179.5 582.5,179.7 582.7,179.9 582.9,180.1 583.1,180.3 583.3,180.5 583.5,180.7 583.7,180.8 583.9,181.0 584.1,181.2 584.3,181.3 584.6,181.5 584.8,181.7 585.0,181.8 585.2,182.0 585.4,182.1 585.6,182.3 585.8,182.4 586.0,182.5 586.2,182.7 586.5,182.8 586.7,182.9 586.9,183.1 587.1,183.2 587.3,183.3 587.5,183.4 587.7,183.6 587.9,183.7 588.1,183.8 588.3,183.9 588.6,184.0 588.8,184.1 589.0,184.2 589.2,184.3 589.4,184.4 589.6,184.5 589.8,184.6 590.0,184.7 590.1,184.7 590.2,184.7 590.3,184.7 590.5,184.7 590.6,184.7 590.7,183.3 590.8,182.0 590.9,180.8 591.0,179.6 591.1,178.4 591.2,177.3 591.3,176.3 591.4,175.3 591.5,174.3 591.6,173.3 591.7,172.4 591.8,171.5 591.9,170.7 592.0,169.9 592.1,169.1 592.2,168.3 592.3,167.6 592.5,166.9 592.6,166.2 592.7,165.6 592.8,165.0 592.9,164.4 593.0,163.8 593.1,163.2 593.2,162.7 593.3,162.2 593.4,161.7 593.5,161.2 593.6,160.7 593.7,160.3 593.8,159.9 593.9,159.4 594.0,159.0 594.1,158.7 594.2,158.3 594.3,157.9 594.5,157.6 594.6,157.2 594.7,156.9 594.8,156.6 594.9,156.3 595.0,156.0 595.1,155.7 595.2,155.5 595.3,155.2 595.4,154.9 595.5,154.7 595.6,154.5 595.7,154.2 595.8,154.0 595.9,153.8 596.0,153.6 596.1,153.4 596.2,153.2 596.3,153.0 596.5,152.8 596.6,152.6 596.7,152.5 596.8,152.3 596.9,152.1 597.0,152.0 597.1,151.8 597.2,151.7 597.3,151.6 597.4,151.4 597.5,151.3 597.6,151.2 597.7,151.0 597.8,150.9 597.9,150.8 598.0,150.7 598.1,150.6 598.2,150.5 598.3,150.4 598.5,150.3 598.6,150.2 598.7,150.1 598.8,150.0 598.9,149.9 599.0,149.8 599.1,149.7 599.2,149.6 599.3,149.5 599.4,149.5 599.5,149.4 599.6,149.3 599.7,149.2 599.8,149.2 599.9,149.1 600.0,149.0 600.1,149.0 600.2,148.9 600.3,148.8 600.4,148.8 600.6,148.7 600.7,148.6 600.8,148.6 600.9,148.5 601.0,148.5 601.1,148.4 601.2,148.4 601.3,148.3 601.4,148.3 601.5,148.2 601.6,148.2 601.7,148.1 601.8,148.1 601.9,148.0 602.0,148.0 602.1,148.0 602.2,147.9 602.3,147.9 602.4,147.8 602.6,147.8 602.7,147.8 602.8,147.7 602.9,147.7 603.0,147.6 603.1,147.6 603.2,147.6 603.3,147.5 603.4,147.5 603.5,147.5 603.6,147.4 603.7,147.4 603.8,147.4 603.9,147.3 604.0,147.3 604.1,147.3 604.2,147.3 604.3,147.2 604.4,147.2 604.6,147.2 604.7,147.2 604.8,147.1 604.9,147.1 605.0,147.1 605.1,147.1 605.2,147.0 605.3,147.0 605.4,147.0 605.5,147.0 605.6,146.9 605.7,146.9 605.8,146.9 605.9,146.9 606.0,146.8 606.1,146.8 606.2,146.8 606.3,146.8 606.4,146.8 606.6,146.7 606.7,146.7 606.8,146.7 606.9,146.7 607.0,146.7 607.1,146.7 607.2,146.6 607.3,146.6 607.4,146.6 607.5,146.6 607.6,146.6 607.7,146.5 607.8,146.5 607.9,146.5 608.0,146.5 608.1,146.5 608.2,146.5 608.3,146.5 608.4,146.4 608.6,146.4 608.7,146.4 608.8,146.4 608.9,146.4 609.0,146.4 609.1,146.4 609.2,146.3 609.3,146.3 609.4,146.3 609.5,146.3 609.6,146.3 609.7,146.3 609.8,146.3 609.9,146.2 610.0,146.2 610.1,146.2 610.2,146.2 610.3,146.2 610.4,146.2 610.6,146.2 610.7,146.2 610.8,146.2 610.9,146.1 611.0,146.1 611.1,148.1 611.3,151.5 611.5,154.4 611.7,156.9 611.9,159.0 612.1,160.8 612.3,162.3 612.6,163.7 612.8,164.8 613.0,165.9 613.2,166.8 613.4,167.6 613.6,168.4 613.8,169.0 614.0,169.7 614.2,170.2 614.4,170.8 614.7,171.3 614.9,171.7 615.1,172.2 615.3,172.6 615.5,173.0 615.7,173.4 615.9,173.8 616.1,174.1 616.3,174.5 616.6,174.8 616.8,175.1 617.0,175.5 617.2,175.8 617.4,176.1 617.6,176.4 617.8,176.7 618.0,176.9 618.2,177.2 618.4,177.5 618.7,177.7 618.9,178.0 619.1,178.2 619.3,178.5 619.5,178.7 619.7,179.0 619.9,179.2 620.1,179.4 620.3,179.7 620.6,179.9 620.8,180.1 621.0,180.3 621.2,180.5 621.4,180.7 621.6,180.9 621.8,181.1 622.0,181.3 622.2,181.5 622.4,181.6 622.7,181.8 622.9,182.0 623.1,182.2 623.3,182.3 623.5,182.5 623.7,182.7 623.9,182.8 624.1,183.0 624.3,183.1 624.6,183.3 624.8,183.4 625.0,183.6 625.2,183.7 625.4,183.8 625.6,184.0 625.8,184.1 626.0,184.2 626.2,184.4 626.4,184.5 626.7,184.6 626.9,184.7 627.1,184.8 627.3,184.9 627.5,185.1 627.7,185.2 627.9,185.3 628.1,185.4 628.3,185.5 628.6,185.6 628.8,185.7 629.0,185.8 629.2,185.9 629.4,186.0 629.6,186.1 629.8,186.2 630.0,186.2 630.2,186.3 630.4,186.4 630.7,186.5 630.9,186.6 631.1,186.7 631.3,186.7 631.5,186.8 631.7,186.9 631.9,187.0 632.1,187.0 632.2,187.0 632.3,187.0 632.4,187.0 632.6,187.0 632.7,187.0 632.8,186.1 632.9,185.3 633.0,184.5 633.1,183.7 633.2,183.0 633.3,182.3 633.4,181.6 633.5,180.9 633.6,180.3 633.7,179.6 633.8,179.0 633.9,178.4 634.0,177.9 634.1,177.3 634.2,176.8 634.3,176.3 634.4,175.8 634.6,175.3 634.7,174.9 634.8,174.4 634.9,174.0 635.0,173.6 635.1,173.2 635.2,172.8 635.3,172.4 635.4,172.0 635.5,171.7 635.6,171.3 635.7,171.0 635.8,170.7 635.9,170.4 636.0,170.1 636.1,169.8 636.2,169.5 636.3,169.2 636.4,169.0 636.6,168.7 636.7,168.4 636.8,168.2 636.9,168.0 637.0,167.7 637.1,167.5 637.2,167.3 637.3,167.1 637.4,166.9 637.5,166.7 637.6,166.5 637.7,166.4 637.8,166.2 637.9,166.0 638.0,165.8 638.1,165.7 638.2,165.5 638.3,165.4 638.4,165.2 638.6,165.1 638.7,164.9 638.8,164.8 638.9,164.7 639.0,164.6 639.1,164.4 639.2,164.3 639.3,164.2 639.4,164.1 639.5,164.0 639.6,163.9 639.7,163.8 639.8,163.7 639.9,163.6 640.0,163.5 640.1,163.4 640.2,163.3 640.3,163.2 640.4,163.1 640.6,163.0 640.7,162.9 640.8,162.9 640.9,162.8 641.0,162.7 641.1,162.6 641.2,162.6 641.3,162.5 641.4,162.4 641.5,162.4 641.6,162.3 641.7,162.2 641.8,162.2 641.9,162.1 642.0,162.1 642.1,162.0 642.2,162.0 642.3,161.9 642.4,161.9 642.5,161.8 642.7,161.8 642.8,161.7 642.9,161.7 643.0,161.6 643.1,161.6 643.2,161.5 643.3,161.5 643.4,161.4 643.5,161.4 643.6,161.4 643.7,161.3 643.8,161.3 643.9,161.2 644.0,161.2 644.1,161.2 644.2,161.1 644.3,161.1 644.4,161.1 644.5,161.0 644.7,161.0 644.8,161.0 644.9,160.9 645.0,160.9 645.1,160.9 645.2,160.8 645.3,160.8 645.4,160.8 645.5,160.8 645.6,160.7 645.7,160.7 645.8,160.7 645.9,160.7 646.0,160.6 646.1,160.6 646.2,160.6 646.3,160.6 646.4,160.5 646.5,160.5 646.7,160.5 646.8,160.5 646.9,160.4 647.0,160.4 647.1,160.4 647.2,160.4 647.3,160.4 647.4,160.3 647.5,160.3 647.6,160.3 647.7,160.3 647.8,160.3 647.9,160.2 648.0,160.2 648.1,160.2 648.2,160.2 648.3,160.2 648.4,160.2 648.5,160.1 648.7,160.1 648.8,160.1 648.9,160.1 649.0,160.1 649.1,160.1 649.2,160.1 649.3,160.0 649.4,160.0 649.5,160.0 649.6,160.0 649.7,160.0 649.8,160.0 649.9,160.0 650.0,159.9 650.1,159.9 650.2,159.9 650.3,159.9 650.4,159.9 650.5,159.9 650.7,159.9 650.8,159.9 650.9,159.8 651.0,159.8 651.1,159.8 651.2,159.8 651.3,159.8 651.4,159.8 651.5,159.8 651.6,159.8 651.7,159.8 651.8,159.8 651.9,159.7 652.0,159.7 652.1,159.7 652.2,159.7 652.3,159.7 652.4,159.7 652.5,159.7 652.7,159.7 652.8,159.7 652.9,159.7 653.0,159.7 653.1,159.6 653.2,161.1 653.4,163.6 653.6,165.7 653.8,167.6 654.0,169.1 654.2,170.4 654.4,171.5 654.7,172.5 654.9,173.4 655.1,174.2 655.3,174.8 655.5,175.4 655.7,176.0 655.9,176.5 656.1,176.9 656.3,177.4 656.5,177.7 656.8,178.1 657.0,178.5 657.2,178.8 657.4,179.1 657.6,179.4 657.8,179.7 658.0,180.0 658.2,180.2 658.4,180.5 658.7,180.7 658.9,181.0 659.1,181.2 659.3,181.4 659.5,181.6 659.7,181.9 659.9,182.1 660.1,182.3 660.3,182.5 660.5,182.7 660.8,182.9 661.0,183.1 661.2,183.2 661.4,183.4 661.6,183.6 661.8,183.8 662.0,183.9 662.2,184.1 662.4,184.3 662.7,184.4 662.9,184.6 663.1,184.7 663.3,184.9 663.5,185.0 663.7,185.2 663.9,185.3 664.1,185.5 664.3,185.6 664.5,185.7 664.8,185.9 665.0,186.0 665.2,186.1 665.4,186.2 665.6,186.4 665.8,186.5 666.0,186.6 666.2,186.7 666.4,186.8 666.7,186.9 666.9,187.0 667.1,187.1 667.3,187.2 667.5,187.3 667.7,187.4 667.9,187.5 668.1,187.6 668.3,187.7 668.5,187.8 668.8,187.9 669.0,188.0 669.2,188.1 669.4,188.2 669.6,188.2 669.8,188.3 670.0,188.4 670.2,188.5 670.4,188.6 670.7,188.6 670.9,188.7 671.1,188.8 671.3,188.8 671.5,188.9 671.7,189.0 671.9,189.0 672.1,189.1 672.3,189.2 672.5,189.2 672.8,189.3 673.0,189.4 673.2,189.4 673.4,189.5 673.6,189.5 673.8,189.6 674.0,189.6" fill="none" stroke="none" marker-start="url(#md)" marker-mid="url(#md)" marker-end="url(#md)"/>
</svg>
<rect x="368.9" y="19.3" width="304.3" height="183.1" fill="none" stroke="#111" stroke-width="1.6"/>
<text x="364.5" y="190.5" style="font-family:'Liberation Serif',serif;font-weight:bold;stroke:#000;stroke-width:0.3px;font-size:13.6px" text-anchor="end" fill="#000" >0</text>
<text x="364.5" y="157.14" style="font-family:'Liberation Serif',serif;font-weight:bold;stroke:#000;stroke-width:0.3px;font-size:13.6px" text-anchor="end" fill="#000" >20</text>
<text x="364.5" y="123.78" style="font-family:'Liberation Serif',serif;font-weight:bold;stroke:#000;stroke-width:0.3px;font-size:13.6px" text-anchor="end" fill="#000" >40</text>
<text x="364.5" y="90.42" style="font-family:'Liberation Serif',serif;font-weight:bold;stroke:#000;stroke-width:0.3px;font-size:13.6px" text-anchor="end" fill="#000" >60</text>
<text x="364.5" y="57.06" style="font-family:'Liberation Serif',serif;font-weight:bold;stroke:#000;stroke-width:0.3px;font-size:13.6px" text-anchor="end" fill="#000" >80</text>
<text x="364.5" y="23.7" style="font-family:'Liberation Serif',serif;font-weight:bold;stroke:#000;stroke-width:0.3px;font-size:13.6px" text-anchor="end" fill="#000" >100</text>
<text x="368.9" y="218" style="font-family:'Liberation Serif',serif;font-weight:bold;stroke:#000;stroke-width:0.3px;font-size:13.6px" text-anchor="middle" fill="#000" >0</text>
<text x="411" y="218" style="font-family:'Liberation Serif',serif;font-weight:bold;stroke:#000;stroke-width:0.3px;font-size:13.6px" text-anchor="middle" fill="#000" >20</text>
<text x="453.1" y="218" style="font-family:'Liberation Serif',serif;font-weight:bold;stroke:#000;stroke-width:0.3px;font-size:13.6px" text-anchor="middle" fill="#000" >40</text>
<text x="495.2" y="218" style="font-family:'Liberation Serif',serif;font-weight:bold;stroke:#000;stroke-width:0.3px;font-size:13.6px" text-anchor="middle" fill="#000" >60</text>
<text x="537.3" y="218" style="font-family:'Liberation Serif',serif;font-weight:bold;stroke:#000;stroke-width:0.3px;font-size:13.6px" text-anchor="middle" fill="#000" >80</text>
<text x="579.4" y="218" style="font-family:'Liberation Serif',serif;font-weight:bold;stroke:#000;stroke-width:0.3px;font-size:13.6px" text-anchor="middle" fill="#000" >100</text>
<text x="621.5" y="218" style="font-family:'Liberation Serif',serif;font-weight:bold;stroke:#000;stroke-width:0.3px;font-size:13.6px" text-anchor="middle" fill="#000" >120</text>
<text x="663.6" y="218" style="font-family:'Liberation Serif',serif;font-weight:bold;stroke:#000;stroke-width:0.3px;font-size:13.6px" text-anchor="middle" fill="#000" >140</text>
<text x="469.6" y="236.8" style="font-family:'Liberation Serif',serif;font-weight:bold;stroke:#000;stroke-width:0.3px;font-size:18.6px" text-anchor="start" fill="#000" textLength="90.3" lengthAdjust="spacingAndGlyphs" >Time (min)</text>
<text transform="translate(333.6 109.2) rotate(-90)" style="font-family:'Liberation Serif',serif;font-weight:bold;stroke:#000;stroke-width:0.3px;font-size:19px" text-anchor="middle" fill="#000" textLength="130.3" lengthAdjust="spacingAndGlyphs">Sensitivity (%)</text>
<text x="313" y="16" style="font-family:'Liberation Sans',sans-serif;font-weight:bold;font-size:19.6px" text-anchor="start" fill="#000" >(b)</text>
<text x="379.2" y="58.4" style="font-family:'Liberation Serif',serif;font-weight:bold;stroke:#000;stroke-width:0.3px;font-size:10.8px" text-anchor="start" fill="#000" textLength="29" lengthAdjust="spacingAndGlyphs" >5 ppm</text>
<text x="420.1" y="67.8" style="font-family:'Liberation Serif',serif;font-weight:bold;stroke:#000;stroke-width:0.3px;font-size:10.8px" text-anchor="start" fill="#000" textLength="29" lengthAdjust="spacingAndGlyphs" >4 ppm</text>
<text x="461" y="85.5" style="font-family:'Liberation Serif',serif;font-weight:bold;stroke:#000;stroke-width:0.3px;font-size:10.8px" text-anchor="start" fill="#000" textLength="29.2" lengthAdjust="spacingAndGlyphs" >3 ppm</text>
<text x="505.4" y="101.3" style="font-family:'Liberation Serif',serif;font-weight:bold;stroke:#000;stroke-width:0.3px;font-size:10.8px" text-anchor="start" fill="#000" textLength="29" lengthAdjust="spacingAndGlyphs" >2 ppm</text>
<text x="545.4" y="122.2" style="font-family:'Liberation Serif',serif;font-weight:bold;stroke:#000;stroke-width:0.3px;font-size:10.8px" text-anchor="start" fill="#000" textLength="29.2" lengthAdjust="spacingAndGlyphs" >1 ppm</text>
<text x="583.4" y="137.2" style="font-family:'Liberation Serif',serif;font-weight:bold;stroke:#000;stroke-width:0.3px;font-size:10.8px" text-anchor="start" fill="#000" textLength="37.6" lengthAdjust="spacingAndGlyphs" >0.6 ppm</text>
<text x="626.4" y="152.6" style="font-family:'Liberation Serif',serif;font-weight:bold;stroke:#000;stroke-width:0.3px;font-size:10.8px" text-anchor="start" fill="#000" textLength="38.6" lengthAdjust="spacingAndGlyphs" >0.4 ppm</text>
<line x1="535.2" y1="29.5" x2="560.2" y2="29.5" stroke="#1b8a8a" stroke-width="1.5"/>
<path d="M545.7 27.5h4v4h-4z" fill="#c8f0f0" stroke="#1b8a8a" stroke-width="0.9"/>
<text x="563.3" y="33.3" style="font-family:'Liberation Serif',serif;font-weight:bold;stroke:#000;stroke-width:0.3px;font-size:11.7px" text-anchor="start" fill="#000" textLength="80.6" lengthAdjust="spacingAndGlyphs" >ZnCo<tspan dy="2.2" style="font-size:8.2px">2</tspan><tspan dy="-2.2">O</tspan><tspan dy="2.2" style="font-size:8.2px">4</tspan><tspan dy="-2.2"> powder</tspan></text>
<line x1="535.2" y1="47.5" x2="560.2" y2="47.5" stroke="#555555" stroke-width="1.5"/>
<path d="M545.4 47.5a2.3 2.3 0 1 0 4.6 0a2.3 2.3 0 1 0 -4.6 0z" fill="#fff" stroke="#555555" stroke-width="0.9"/>
<text x="563.3" y="51.3" style="font-family:'Liberation Serif',serif;font-weight:bold;stroke:#000;stroke-width:0.3px;font-size:11.7px" text-anchor="start" fill="#000" textLength="60.7" lengthAdjust="spacingAndGlyphs" >ZnCo<tspan dy="2.2" style="font-size:8.2px">2</tspan><tspan dy="-2.2">O</tspan><tspan dy="2.2" style="font-size:8.2px">4</tspan><tspan dy="-2.2"> HS</tspan></text>
<line x1="535.2" y1="65.5" x2="560.2" y2="65.5" stroke="#111111" stroke-width="1.5"/>
<path d="M547.7 62.77l2.86 5.2h-5.72z" fill="#fff" stroke="#111111" stroke-width="0.9"/>
<text x="563.3" y="69.3" style="font-family:'Liberation Serif',serif;font-weight:bold;stroke:#000;stroke-width:0.3px;font-size:11.7px" text-anchor="start" fill="#000" textLength="85.3" lengthAdjust="spacingAndGlyphs" >ZnO/ZnCo<tspan dy="2.2" style="font-size:8.2px">2</tspan><tspan dy="-2.2">O</tspan><tspan dy="2.2" style="font-size:8.2px">4</tspan><tspan dy="-2.2"> HS</tspan></text>
<line x1="535.2" y1="83.5" x2="560.2" y2="83.5" stroke="#e02424" stroke-width="1.5"/>
<path d="M547.7 80.1l3.4 3.4l-3.4 3.4l-3.4 -3.4z" fill="#fff" stroke="#e02424" stroke-width="0.9"/>
<text x="563.3" y="87.3" style="font-family:'Liberation Serif',serif;font-weight:bold;stroke:#000;stroke-width:0.3px;font-size:11.7px" text-anchor="start" fill="#000" textLength="102.6" lengthAdjust="spacingAndGlyphs" >Pd-ZnO/ZnCo<tspan dy="2.2" style="font-size:8.2px">2</tspan><tspan dy="-2.2">O</tspan><tspan dy="2.2" style="font-size:8.2px">4</tspan><tspan dy="-2.2"> HS</tspan></text>
<path d="M54.1 439.1L54.1 435.3M54.1 257.6L54.1 261.4M69.66 439.1L69.66 436.9M69.66 257.6L69.66 259.8M85.21 439.1L85.21 435.3M85.21 257.6L85.21 261.4M100.77 439.1L100.77 436.9M100.77 257.6L100.77 259.8M116.32 439.1L116.32 435.3M116.32 257.6L116.32 261.4M131.88 439.1L131.88 436.9M131.88 257.6L131.88 259.8M147.43 439.1L147.43 435.3M147.43 257.6L147.43 261.4M162.99 439.1L162.99 436.9M162.99 257.6L162.99 259.8M178.54 439.1L178.54 435.3M178.54 257.6L178.54 261.4M194.09 439.1L194.09 436.9M194.09 257.6L194.09 259.8M209.65 439.1L209.65 435.3M209.65 257.6L209.65 261.4M225.21 439.1L225.21 436.9M225.21 257.6L225.21 259.8M240.76 439.1L240.76 435.3M240.76 257.6L240.76 261.4M256.31 439.1L256.31 436.9M256.31 257.6L256.31 259.8M271.87 439.1L271.87 435.3M271.87 257.6L271.87 261.4M287.43 439.1L287.43 436.9M287.43 257.6L287.43 259.8M302.98 439.1L302.98 435.3M302.98 257.6L302.98 261.4" stroke="#111" stroke-width="1.2" fill="none"/>
<rect x="54.1" y="268.6" width="215.59" height="7.6" fill="#ff0a82" stroke="#222" stroke-width="0.9"/>
<rect x="54.1" y="288.12" width="35.47" height="7.6" fill="#800000" stroke="#222" stroke-width="0.9"/>
<rect x="54.1" y="307.65" width="27.69" height="7.6" fill="#000080" stroke="#222" stroke-width="0.9"/>
<rect x="54.1" y="327.17" width="26.13" height="7.6" fill="#808000" stroke="#222" stroke-width="0.9"/>
<rect x="54.1" y="346.7" width="23.33" height="7.6" fill="#ff00ff" stroke="#222" stroke-width="0.9"/>
<rect x="54.1" y="366.22" width="22.55" height="7.6" fill="#008080" stroke="#222" stroke-width="0.9"/>
<rect x="54.1" y="385.75" width="14.93" height="7.6" fill="#0000ff" stroke="#222" stroke-width="0.9"/>
<rect x="54.1" y="405.27" width="8.4" height="7.6" fill="#ff0000" stroke="#222" stroke-width="0.9"/>
<rect x="54.1" y="424.8" width="3.58" height="7.6" fill="#000000" stroke="#222" stroke-width="0.9"/>
<rect x="54.1" y="257.6" width="248.9" height="181.5" fill="none" stroke="#111" stroke-width="1.6"/>
<text x="54.1" y="454.6" style="font-family:'Liberation Serif',serif;font-weight:bold;stroke:#000;stroke-width:0.3px;font-size:12.6px" text-anchor="middle" fill="#000" textLength="7" lengthAdjust="spacingAndGlyphs" >0</text>
<text x="85.21" y="454.6" style="font-family:'Liberation Serif',serif;font-weight:bold;stroke:#000;stroke-width:0.3px;font-size:12.6px" text-anchor="middle" fill="#000" textLength="14" lengthAdjust="spacingAndGlyphs" >10</text>
<text x="116.32" y="454.6" style="font-family:'Liberation Serif',serif;font-weight:bold;stroke:#000;stroke-width:0.3px;font-size:12.6px" text-anchor="middle" fill="#000" textLength="14" lengthAdjust="spacingAndGlyphs" >20</text>
<text x="147.43" y="454.6" style="font-family:'Liberation Serif',serif;font-weight:bold;stroke:#000;stroke-width:0.3px;font-size:12.6px" text-anchor="middle" fill="#000" textLength="14" lengthAdjust="spacingAndGlyphs" >30</text>
<text x="178.54" y="454.6" style="font-family:'Liberation Serif',serif;font-weight:bold;stroke:#000;stroke-width:0.3px;font-size:12.6px" text-anchor="middle" fill="#000" textLength="14" lengthAdjust="spacingAndGlyphs" >40</text>
<text x="209.65" y="454.6" style="font-family:'Liberation Serif',serif;font-weight:bold;stroke:#000;stroke-width:0.3px;font-size:12.6px" text-anchor="middle" fill="#000" textLength="14" lengthAdjust="spacingAndGlyphs" >50</text>
<text x="240.76" y="454.6" style="font-family:'Liberation Serif',serif;font-weight:bold;stroke:#000;stroke-width:0.3px;font-size:12.6px" text-anchor="middle" fill="#000" textLength="14" lengthAdjust="spacingAndGlyphs" >60</text>
<text x="271.87" y="454.6" style="font-family:'Liberation Serif',serif;font-weight:bold;stroke:#000;stroke-width:0.3px;font-size:12.6px" text-anchor="middle" fill="#000" textLength="14" lengthAdjust="spacingAndGlyphs" >70</text>
<text x="302.98" y="454.6" style="font-family:'Liberation Serif',serif;font-weight:bold;stroke:#000;stroke-width:0.3px;font-size:12.6px" text-anchor="middle" fill="#000" textLength="14" lengthAdjust="spacingAndGlyphs" >80</text>
<text x="117.3" y="472.8" style="font-family:'Liberation Serif',serif;font-weight:bold;stroke:#000;stroke-width:0.3px;font-size:19px" text-anchor="start" fill="#000" textLength="124.8" lengthAdjust="spacingAndGlyphs" >Sensitivity (%)</text>
<text x="1.2" y="253.4" style="font-family:'Liberation Sans',sans-serif;font-weight:bold;font-size:19.6px" text-anchor="start" fill="#000" >(c)</text>
<text x="1.9" y="277.8" style="font-family:'Liberation Serif',serif;font-weight:bold;stroke:#000;stroke-width:0.3px;font-size:17px" text-anchor="start" fill="#000" textLength="47.6" lengthAdjust="spacingAndGlyphs" ><tspan dy="0">C</tspan><tspan dy="6.9" style="font-size:9.6px">3</tspan><tspan dy="-6.9">H</tspan><tspan dy="6.9" style="font-size:9.6px">6</tspan><tspan dy="-6.9">O</tspan></text>
<text x="2.5" y="297.32" style="font-family:'Liberation Serif',serif;font-weight:bold;stroke:#000;stroke-width:0.3px;font-size:17px" text-anchor="start" fill="#000" textLength="47" lengthAdjust="spacingAndGlyphs" ><tspan dy="0">C</tspan><tspan dy="6.9" style="font-size:9.6px">2</tspan><tspan dy="-6.9">H</tspan><tspan dy="6.9" style="font-size:9.6px">6</tspan><tspan dy="-6.9">O</tspan></text>
<text x="14.4" y="316.85" style="font-family:'Liberation Serif',serif;font-weight:bold;stroke:#000;stroke-width:0.3px;font-size:17px" text-anchor="start" fill="#000" textLength="35.1" lengthAdjust="spacingAndGlyphs" ><tspan dy="0">C</tspan><tspan dy="6.9" style="font-size:9.6px">7</tspan><tspan dy="-6.9">H</tspan><tspan dy="6.9" style="font-size:9.6px">8</tspan></text>
<text x="22.5" y="336.38" style="font-family:'Liberation Serif',serif;font-weight:bold;stroke:#000;stroke-width:0.3px;font-size:17px" text-anchor="start" fill="#000" textLength="27" lengthAdjust="spacingAndGlyphs" ><tspan dy="0">H</tspan><tspan dy="6.9" style="font-size:9.6px">2</tspan><tspan dy="-6.9">S</tspan></text>
<text x="30.6" y="355.9" style="font-family:'Liberation Serif',serif;font-weight:bold;stroke:#000;stroke-width:0.3px;font-size:17px" text-anchor="start" fill="#000" textLength="17.4" lengthAdjust="spacingAndGlyphs" ><tspan dy="0">H</tspan><tspan dy="6.9" style="font-size:9.6px">2</tspan></text>
<text x="10.6" y="375.43" style="font-family:'Liberation Serif',serif;font-weight:bold;stroke:#000;stroke-width:0.3px;font-size:17px" text-anchor="start" fill="#000" textLength="40" lengthAdjust="spacingAndGlyphs" ><tspan dy="0">C</tspan><tspan dy="6.9" style="font-size:9.6px">5</tspan><tspan dy="-6.9">H</tspan><tspan dy="6.9" style="font-size:9.6px">12</tspan></text>
<text x="20.4" y="394.95" style="font-family:'Liberation Serif',serif;font-weight:bold;stroke:#000;stroke-width:0.3px;font-size:17px" text-anchor="start" fill="#000" textLength="30.2" lengthAdjust="spacingAndGlyphs" ><tspan dy="0">N</tspan><tspan dy="0">O</tspan><tspan dy="6.9" style="font-size:9.6px">2</tspan></text>
<text x="20.4" y="414.48" style="font-family:'Liberation Serif',serif;font-weight:bold;stroke:#000;stroke-width:0.3px;font-size:17px" text-anchor="start" fill="#000" textLength="30.2" lengthAdjust="spacingAndGlyphs" ><tspan dy="0">N</tspan><tspan dy="0">H</tspan><tspan dy="6.9" style="font-size:9.6px">3</tspan></text>
<text x="24.8" y="434" style="font-family:'Liberation Serif',serif;font-weight:bold;stroke:#000;stroke-width:0.3px;font-size:17px" text-anchor="start" fill="#000" textLength="24.9" lengthAdjust="spacingAndGlyphs" ><tspan dy="0">C</tspan><tspan dy="0">O</tspan></text>
<rect x="382.58" y="255.8" width="25.96" height="185.9" fill="#cbe6e7"/>
<rect x="447.56" y="255.8" width="26.12" height="185.9" fill="#dadada"/>
<rect x="512.88" y="255.8" width="26.16" height="185.9" fill="#dadada"/>
<rect x="617.62" y="255.8" width="26.04" height="185.9" fill="#ffcccc"/>
<path d="M382.58 441.7L382.58 439.9M382.58 255.8L382.58 257.6M395.56 441.7L395.56 438.2M395.56 255.8L395.56 259.3M408.54 441.7L408.54 439.9M408.54 255.8L408.54 257.6M421.52 441.7L421.52 438.2M421.52 255.8L421.52 259.3M369.6 439.8L371.4 439.8M434.5 439.8L432.7 439.8M369.6 425.23L371.4 425.23M434.5 425.23L432.7 425.23M369.6 412.91L371.4 412.91M434.5 412.91L432.7 412.91M369.6 402.24L371.4 402.24M434.5 402.24L432.7 402.24M369.6 392.83L371.4 392.83M434.5 392.83L432.7 392.83M369.6 384.41L373.1 384.41M434.5 384.41L431 384.41M369.6 376.79L371.4 376.79M434.5 376.79L432.7 376.79M369.6 369.84L371.4 369.84M434.5 369.84L432.7 369.84M369.6 363.44L371.4 363.44M434.5 363.44L432.7 363.44M369.6 357.52L371.4 357.52M434.5 357.52L432.7 357.52M369.6 352.01L371.4 352.01M434.5 352.01L432.7 352.01M369.6 346.85L371.4 346.85M434.5 346.85L432.7 346.85M369.6 342.01L371.4 342.01M434.5 342.01L432.7 342.01M369.6 337.44L371.4 337.44M434.5 337.44L432.7 337.44M369.6 333.12L371.4 333.12M434.5 333.12L432.7 333.12M369.6 329.02L373.1 329.02M434.5 329.02L431 329.02M369.6 325.12L371.4 325.12M434.5 325.12L432.7 325.12M369.6 321.4L371.4 321.4M434.5 321.4L432.7 321.4M369.6 317.85L371.4 317.85M434.5 317.85L432.7 317.85M369.6 314.45L371.4 314.45M434.5 314.45L432.7 314.45M369.6 311.19L371.4 311.19M434.5 311.19L432.7 311.19M369.6 308.06L371.4 308.06M434.5 308.06L432.7 308.06M369.6 305.04L371.4 305.04M434.5 305.04L432.7 305.04M369.6 302.13L371.4 302.13M434.5 302.13L432.7 302.13M369.6 299.33L371.4 299.33M434.5 299.33L432.7 299.33M369.6 296.62L373.1 296.62M434.5 296.62L431 296.62M369.6 294L371.4 294M434.5 294L432.7 294M369.6 291.46L371.4 291.46M434.5 291.46L432.7 291.46M369.6 289L371.4 289M434.5 289L432.7 289M369.6 286.62L371.4 286.62M434.5 286.62L432.7 286.62M369.6 284.3L371.4 284.3M434.5 284.3L432.7 284.3M369.6 282.05L371.4 282.05M434.5 282.05L432.7 282.05M369.6 279.86L371.4 279.86M434.5 279.86L432.7 279.86M369.6 277.73L371.4 277.73M434.5 277.73L432.7 277.73M369.6 275.65L371.4 275.65M434.5 275.65L432.7 275.65M369.6 273.63L373.1 273.63M434.5 273.63L431 273.63M369.6 271.66L371.4 271.66M434.5 271.66L432.7 271.66M369.6 269.73L371.4 269.73M434.5 269.73L432.7 269.73M369.6 267.85L371.4 267.85M434.5 267.85L432.7 267.85M369.6 266.02L371.4 266.02M434.5 266.02L432.7 266.02M369.6 264.22L371.4 264.22M434.5 264.22L432.7 264.22M369.6 262.46L371.4 262.46M434.5 262.46L432.7 262.46M369.6 260.74L371.4 260.74M434.5 260.74L432.7 260.74M369.6 259.06L371.4 259.06M434.5 259.06L432.7 259.06M369.6 257.41L371.4 257.41M434.5 257.41L432.7 257.41M447.56 441.7L447.56 439.9M447.56 255.8L447.56 257.6M460.62 441.7L460.62 438.2M460.62 255.8L460.62 259.3M473.68 441.7L473.68 439.9M473.68 255.8L473.68 257.6M486.74 441.7L486.74 438.2M486.74 255.8L486.74 259.3M434.5 439.8L436.3 439.8M499.8 439.8L498 439.8M434.5 425.23L436.3 425.23M499.8 425.23L498 425.23M434.5 412.91L436.3 412.91M499.8 412.91L498 412.91M434.5 402.24L436.3 402.24M499.8 402.24L498 402.24M434.5 392.83L436.3 392.83M499.8 392.83L498 392.83M434.5 384.41L438 384.41M499.8 384.41L496.3 384.41M434.5 376.79L436.3 376.79M499.8 376.79L498 376.79M434.5 369.84L436.3 369.84M499.8 369.84L498 369.84M434.5 363.44L436.3 363.44M499.8 363.44L498 363.44M434.5 357.52L436.3 357.52M499.8 357.52L498 357.52M434.5 352.01L436.3 352.01M499.8 352.01L498 352.01M434.5 346.85L436.3 346.85M499.8 346.85L498 346.85M434.5 342.01L436.3 342.01M499.8 342.01L498 342.01M434.5 337.44L436.3 337.44M499.8 337.44L498 337.44M434.5 333.12L436.3 333.12M499.8 333.12L498 333.12M434.5 329.02L438 329.02M499.8 329.02L496.3 329.02M434.5 325.12L436.3 325.12M499.8 325.12L498 325.12M434.5 321.4L436.3 321.4M499.8 321.4L498 321.4M434.5 317.85L436.3 317.85M499.8 317.85L498 317.85M434.5 314.45L436.3 314.45M499.8 314.45L498 314.45M434.5 311.19L436.3 311.19M499.8 311.19L498 311.19M434.5 308.06L436.3 308.06M499.8 308.06L498 308.06M434.5 305.04L436.3 305.04M499.8 305.04L498 305.04M434.5 302.13L436.3 302.13M499.8 302.13L498 302.13M434.5 299.33L436.3 299.33M499.8 299.33L498 299.33M434.5 296.62L438 296.62M499.8 296.62L496.3 296.62M434.5 294L436.3 294M499.8 294L498 294M434.5 291.46L436.3 291.46M499.8 291.46L498 291.46M434.5 289L436.3 289M499.8 289L498 289M434.5 286.62L436.3 286.62M499.8 286.62L498 286.62M434.5 284.3L436.3 284.3M499.8 284.3L498 284.3M434.5 282.05L436.3 282.05M499.8 282.05L498 282.05M434.5 279.86L436.3 279.86M499.8 279.86L498 279.86M434.5 277.73L436.3 277.73M499.8 277.73L498 277.73M434.5 275.65L436.3 275.65M499.8 275.65L498 275.65M434.5 273.63L438 273.63M499.8 273.63L496.3 273.63M434.5 271.66L436.3 271.66M499.8 271.66L498 271.66M434.5 269.73L436.3 269.73M499.8 269.73L498 269.73M434.5 267.85L436.3 267.85M499.8 267.85L498 267.85M434.5 266.02L436.3 266.02M499.8 266.02L498 266.02M434.5 264.22L436.3 264.22M499.8 264.22L498 264.22M434.5 262.46L436.3 262.46M499.8 262.46L498 262.46M434.5 260.74L436.3 260.74M499.8 260.74L498 260.74M434.5 259.06L436.3 259.06M499.8 259.06L498 259.06M434.5 257.41L436.3 257.41M499.8 257.41L498 257.41M512.88 441.7L512.88 439.9M512.88 255.8L512.88 257.6M525.96 441.7L525.96 438.2M525.96 255.8L525.96 259.3M539.04 441.7L539.04 439.9M539.04 255.8L539.04 257.6M552.12 441.7L552.12 438.2M552.12 255.8L552.12 259.3M499.8 439.8L501.6 439.8M565.2 439.8L563.4 439.8M499.8 425.23L501.6 425.23M565.2 425.23L563.4 425.23M499.8 412.91L501.6 412.91M565.2 412.91L563.4 412.91M499.8 402.24L501.6 402.24M565.2 402.24L563.4 402.24M499.8 392.83L501.6 392.83M565.2 392.83L563.4 392.83M499.8 384.41L503.3 384.41M565.2 384.41L561.7 384.41M499.8 376.79L501.6 376.79M565.2 376.79L563.4 376.79M499.8 369.84L501.6 369.84M565.2 369.84L563.4 369.84M499.8 363.44L501.6 363.44M565.2 363.44L563.4 363.44M499.8 357.52L501.6 357.52M565.2 357.52L563.4 357.52M499.8 352.01L501.6 352.01M565.2 352.01L563.4 352.01M499.8 346.85L501.6 346.85M565.2 346.85L563.4 346.85M499.8 342.01L501.6 342.01M565.2 342.01L563.4 342.01M499.8 337.44L501.6 337.44M565.2 337.44L563.4 337.44M499.8 333.12L501.6 333.12M565.2 333.12L563.4 333.12M499.8 329.02L503.3 329.02M565.2 329.02L561.7 329.02M499.8 325.12L501.6 325.12M565.2 325.12L563.4 325.12M499.8 321.4L501.6 321.4M565.2 321.4L563.4 321.4M499.8 317.85L501.6 317.85M565.2 317.85L563.4 317.85M499.8 314.45L501.6 314.45M565.2 314.45L563.4 314.45M499.8 311.19L501.6 311.19M565.2 311.19L563.4 311.19M499.8 308.06L501.6 308.06M565.2 308.06L563.4 308.06M499.8 305.04L501.6 305.04M565.2 305.04L563.4 305.04M499.8 302.13L501.6 302.13M565.2 302.13L563.4 302.13M499.8 299.33L501.6 299.33M565.2 299.33L563.4 299.33M499.8 296.62L503.3 296.62M565.2 296.62L561.7 296.62M499.8 294L501.6 294M565.2 294L563.4 294M499.8 291.46L501.6 291.46M565.2 291.46L563.4 291.46M499.8 289L501.6 289M565.2 289L563.4 289M499.8 286.62L501.6 286.62M565.2 286.62L563.4 286.62M499.8 284.3L501.6 284.3M565.2 284.3L563.4 284.3M499.8 282.05L501.6 282.05M565.2 282.05L563.4 282.05M499.8 279.86L501.6 279.86M565.2 279.86L563.4 279.86M499.8 277.73L501.6 277.73M565.2 277.73L563.4 277.73M499.8 275.65L501.6 275.65M565.2 275.65L563.4 275.65M499.8 273.63L503.3 273.63M565.2 273.63L561.7 273.63M499.8 271.66L501.6 271.66M565.2 271.66L563.4 271.66M499.8 269.73L501.6 269.73M565.2 269.73L563.4 269.73M499.8 267.85L501.6 267.85M565.2 267.85L563.4 267.85M499.8 266.02L501.6 266.02M565.2 266.02L563.4 266.02M499.8 264.22L501.6 264.22M565.2 264.22L563.4 264.22M499.8 262.46L501.6 262.46M565.2 262.46L563.4 262.46M499.8 260.74L501.6 260.74M565.2 260.74L563.4 260.74M499.8 259.06L501.6 259.06M565.2 259.06L563.4 259.06M499.8 257.41L501.6 257.41M565.2 257.41L563.4 257.41M617.62 441.7L617.62 439.9M617.62 255.8L617.62 257.6M630.64 441.7L630.64 438.2M630.64 255.8L630.64 259.3M643.66 441.7L643.66 439.9M643.66 255.8L643.66 257.6M656.68 441.7L656.68 438.2M656.68 255.8L656.68 259.3M604.6 440.8L606.4 440.8M669.7 440.8L667.9 440.8M604.6 426.15L606.4 426.15M669.7 426.15L667.9 426.15M604.6 413.77L606.4 413.77M669.7 413.77L667.9 413.77M604.6 403.04L606.4 403.04M669.7 403.04L667.9 403.04M604.6 393.57L606.4 393.57M669.7 393.57L667.9 393.57M604.6 385.11L608.1 385.11M669.7 385.11L666.2 385.11M604.6 377.45L606.4 377.45M669.7 377.45L667.9 377.45M604.6 370.46L606.4 370.46M669.7 370.46L667.9 370.46M604.6 364.03L606.4 364.03M669.7 364.03L667.9 364.03M604.6 358.08L606.4 358.08M669.7 358.08L667.9 358.08M604.6 352.53L606.4 352.53M669.7 352.53L667.9 352.53M604.6 347.35L606.4 347.35M669.7 347.35L667.9 347.35M604.6 342.48L606.4 342.48M669.7 342.48L667.9 342.48M604.6 337.88L606.4 337.88M669.7 337.88L667.9 337.88M604.6 333.54L606.4 333.54M669.7 333.54L667.9 333.54M604.6 329.42L608.1 329.42M669.7 329.42L666.2 329.42M604.6 325.5L606.4 325.5M669.7 325.5L667.9 325.5M604.6 321.76L606.4 321.76M669.7 321.76L667.9 321.76M604.6 318.19L606.4 318.19M669.7 318.19L667.9 318.19M604.6 314.77L606.4 314.77M669.7 314.77L667.9 314.77M604.6 311.49L606.4 311.49M669.7 311.49L667.9 311.49M604.6 308.34L606.4 308.34M669.7 308.34L667.9 308.34M604.6 305.31L606.4 305.31M669.7 305.31L667.9 305.31M604.6 302.39L606.4 302.39M669.7 302.39L667.9 302.39M604.6 299.57L606.4 299.57M669.7 299.57L667.9 299.57M604.6 296.84L608.1 296.84M669.7 296.84L666.2 296.84M604.6 294.21L606.4 294.21M669.7 294.21L667.9 294.21M604.6 291.66L606.4 291.66M669.7 291.66L667.9 291.66M604.6 289.18L606.4 289.18M669.7 289.18L667.9 289.18M604.6 286.79L606.4 286.79M669.7 286.79L667.9 286.79M604.6 284.46L606.4 284.46M669.7 284.46L667.9 284.46M604.6 282.19L606.4 282.19M669.7 282.19L667.9 282.19M604.6 279.99L606.4 279.99M669.7 279.99L667.9 279.99M604.6 277.85L606.4 277.85M669.7 277.85L667.9 277.85M604.6 275.76L606.4 275.76M669.7 275.76L667.9 275.76M604.6 273.73L608.1 273.73M669.7 273.73L666.2 273.73M604.6 271.74L606.4 271.74M669.7 271.74L667.9 271.74M604.6 269.81L606.4 269.81M669.7 269.81L667.9 269.81M604.6 267.92L606.4 267.92M669.7 267.92L667.9 267.92M604.6 266.07L606.4 266.07M669.7 266.07L667.9 266.07M604.6 264.27L606.4 264.27M669.7 264.27L667.9 264.27M604.6 262.5L606.4 262.5M669.7 262.5L667.9 262.5M604.6 260.77L606.4 260.77M669.7 260.77L667.9 260.77M604.6 259.08L606.4 259.08M669.7 259.08L667.9 259.08M604.6 257.42L606.4 257.42M669.7 257.42L667.9 257.42" stroke="#111" stroke-width="1" fill="none"/>
<defs>
<marker id="dq" markerUnits="userSpaceOnUse" markerWidth="8" markerHeight="8" refX="4" refY="4" overflow="visible"><path d="M2 2h4v4h-4z" fill="#a8dcdc" stroke="#0f8080" stroke-width="0.9"/></marker>
<marker id="dc" markerUnits="userSpaceOnUse" markerWidth="8" markerHeight="8" refX="4" refY="4" overflow="visible"><circle cx="4" cy="4" r="2.2" fill="#bbbbbb" stroke="#3a3a3a" stroke-width="0.9"/></marker>
<marker id="dt" markerUnits="userSpaceOnUse" markerWidth="8" markerHeight="8" refX="4" refY="4" overflow="visible"><path d="M4 0.9l3.0 5.1h-6z" fill="#fff" stroke="#000" stroke-width="1.0"/></marker>
<marker id="dr" markerUnits="userSpaceOnUse" markerWidth="8" markerHeight="8" refX="4" refY="4" overflow="visible"><circle cx="4" cy="4" r="2.7" fill="#fff" stroke="#ff0000" stroke-width="0.65"/></marker>
</defs>
<svg x="369.6" y="255.8" width="64.9" height="185.9" viewBox="369.6 255.8 64.9 185.9" overflow="hidden">
<polyline points="369.6,314.8 369.9,314.8 370.1,314.8 370.4,314.8 370.6,314.8 370.9,314.8 371.1,314.8 371.4,314.8 371.6,314.8 371.9,314.8 372.1,314.8 372.4,314.8 372.6,314.8 372.9,314.8 373.1,314.8 373.4,314.8 373.7,314.8 373.9,314.8 374.2,314.8 374.4,314.8 374.7,314.8 374.9,314.8 375.2,314.8 375.4,314.8 375.7,314.8 375.9,314.8 376.2,314.8 376.4,314.8 376.7,314.8 376.9,314.8 377.2,314.8 377.5,314.8 377.7,314.8 378.0,314.8 378.2,314.8 378.5,314.8 378.7,314.8 379.0,314.8 379.2,314.8 379.5,314.8 379.7,314.8 380.0,314.8 380.2,314.8 380.5,314.8 380.7,314.8 381.0,314.8 381.3,314.8 381.5,314.8 381.8,314.8 382.0,314.8 382.3,314.8 382.5,314.8 382.8,314.7 383.0,314.6 383.3,313.3 383.5,311.9 383.8,310.8 384.0,310.0 384.3,309.4 384.5,308.8 384.8,308.4 385.1,308.1 385.3,307.8 385.6,307.6 385.8,307.4 386.1,307.3 386.3,307.2 386.6,307.0 386.8,306.9 387.1,306.8 387.3,306.8 387.6,306.7 387.8,306.6 388.1,306.6 388.3,306.5 388.6,306.4 388.9,306.4 389.1,306.3 389.4,306.3 389.6,306.2 389.9,306.2 390.1,306.1 390.4,306.1 390.6,306.0 390.9,306.0 391.1,306.0 391.4,305.9 391.6,305.9 391.9,305.9 392.1,305.8 392.4,305.8 392.7,305.8 392.9,305.7 393.2,305.7 393.4,305.7 393.7,305.6 393.9,305.6 394.2,305.6 394.4,305.6 394.7,305.5 394.9,305.5 395.2,305.5 395.4,305.5 395.7,305.4 396.0,305.4 396.2,305.4 396.5,305.4 396.7,305.4 397.0,305.4 397.2,305.3 397.5,305.3 397.7,305.3 398.0,305.3 398.2,305.3 398.5,305.3 398.7,305.2 399.0,305.2 399.2,305.2 399.5,305.2 399.8,305.2 400.0,305.2 400.3,305.2 400.5,305.2 400.8,305.1 401.0,305.1 401.3,305.1 401.5,305.1 401.8,305.1 402.0,305.1 402.3,305.1 402.5,305.1 402.8,305.1 403.0,305.1 403.3,305.0 403.6,305.0 403.8,305.0 404.1,305.0 404.3,305.0 404.6,305.0 404.8,305.0 405.1,305.0 405.3,305.0 405.6,305.0 405.8,305.0 406.1,305.0 406.3,305.0 406.6,305.0 406.8,305.0 407.1,305.0 407.4,304.9 407.6,304.9 407.9,304.9 408.1,304.9 408.4,304.9 408.6,305.1 408.9,305.6 409.1,306.2 409.4,306.7 409.6,307.1 409.9,307.6 410.1,308.0 410.4,308.4 410.6,308.7 410.9,309.1 411.2,309.4 411.4,309.7 411.7,310.0 411.9,310.2 412.2,310.5 412.4,310.7 412.7,311.0 412.9,311.2 413.2,311.4 413.4,311.5 413.7,311.7 413.9,311.9 414.2,312.0 414.4,312.2 414.7,312.3 415.0,312.5 415.2,312.6 415.5,312.7 415.7,312.8 416.0,312.9 416.2,313.0 416.5,313.1 416.7,313.2 417.0,313.2 417.2,313.3 417.5,313.4 417.7,313.5 418.0,313.5 418.2,313.6 418.5,313.6 418.8,313.7 419.0,313.7 419.3,313.8 419.5,313.8 419.8,313.9 420.0,313.9 420.3,313.9 420.5,314.0 420.8,314.0 421.0,314.0 421.3,314.1 421.5,314.1 421.8,314.1 422.0,314.1 422.3,314.2 422.6,314.2 422.8,314.2 423.1,314.2 423.3,314.2 423.6,314.2 423.8,314.3 424.1,314.3 424.3,314.3 424.6,314.3 424.8,314.3 425.1,314.3 425.3,314.3 425.6,314.3 425.8,314.4 426.1,314.4 426.4,314.4 426.6,314.4 426.9,314.4 427.1,314.4 427.4,314.4 427.6,314.4 427.9,314.4 428.1,314.4 428.4,314.4 428.6,314.4 428.9,314.4 429.1,314.4 429.4,314.4 429.6,314.4 429.9,314.4 430.2,314.4 430.4,314.5 430.7,314.5 430.9,314.5 431.2,314.5 431.4,314.5 431.7,314.5 431.9,314.5 432.2,314.5 432.4,314.5 432.7,314.5 432.9,314.5" fill="none" stroke="none" marker-start="url(#dq)" marker-mid="url(#dq)" marker-end="url(#dq)"/>
</svg>
<svg x="434.5" y="255.8" width="65.3" height="185.9" viewBox="434.5 255.8 65.3 185.9" overflow="hidden">
<polyline points="434.5,433.5 434.8,433.5 435.0,433.5 435.3,433.5 435.5,433.5 435.8,433.5 436.0,433.5 436.3,433.5 436.5,433.5 436.8,433.5 437.0,433.5 437.3,433.5 437.6,433.5 437.8,433.5 438.1,433.5 438.3,433.5 438.6,433.5 438.8,433.5 439.1,433.5 439.3,433.5 439.6,433.5 439.9,433.5 440.1,433.5 440.4,433.5 440.6,433.5 440.9,433.5 441.1,433.5 441.4,433.5 441.6,433.5 441.9,433.5 442.1,433.5 442.4,433.5 442.7,433.5 442.9,433.5 443.2,433.5 443.4,433.5 443.7,433.5 443.9,433.5 444.2,433.5 444.4,433.5 444.7,433.5 445.0,433.5 445.2,433.5 445.5,433.5 445.7,433.5 446.0,433.5 446.2,433.5 446.5,433.5 446.7,433.5 447.0,433.5 447.2,433.5 447.5,433.5 447.8,433.4 448.0,433.2 448.3,433.1 448.5,431.5 448.8,429.5 449.0,427.8 449.3,426.4 449.5,425.3 449.8,424.3 450.1,423.5 450.3,422.8 450.6,422.3 450.8,421.8 451.1,421.4 451.3,421.0 451.6,420.7 451.8,420.4 452.1,420.2 452.3,420.0 452.6,419.8 452.9,419.7 453.1,419.5 453.4,419.4 453.6,419.3 453.9,419.2 454.1,419.1 454.4,419.0 454.6,418.9 454.9,418.8 455.1,418.8 455.4,418.7 455.7,418.6 455.9,418.6 456.2,418.5 456.4,418.5 456.7,418.4 456.9,418.4 457.2,418.3 457.4,418.3 457.7,418.2 458.0,418.2 458.2,418.2 458.5,418.1 458.7,418.1 459.0,418.1 459.2,418.0 459.5,418.0 459.7,418.0 460.0,417.9 460.2,417.9 460.5,417.9 460.8,417.8 461.0,417.8 461.3,417.8 461.5,417.8 461.8,417.7 462.0,417.7 462.3,417.7 462.5,417.7 462.8,417.6 463.1,417.6 463.3,417.6 463.6,417.6 463.8,417.6 464.1,417.5 464.3,417.5 464.6,417.5 464.8,417.5 465.1,417.5 465.3,417.5 465.6,417.5 465.9,417.4 466.1,417.4 466.4,417.4 466.6,417.4 466.9,417.4 467.1,417.4 467.4,417.4 467.6,417.3 467.9,417.3 468.2,417.3 468.4,417.3 468.7,417.3 468.9,417.3 469.2,417.3 469.4,417.3 469.7,417.3 469.9,417.3 470.2,417.3 470.4,417.2 470.7,417.2 471.0,417.2 471.2,417.2 471.5,417.2 471.7,417.2 472.0,417.2 472.2,417.2 472.5,417.2 472.7,417.2 473.0,417.2 473.2,417.2 473.5,417.2 473.8,417.4 474.0,418.2 474.3,418.9 474.5,419.6 474.8,420.2 475.0,420.9 475.3,421.4 475.5,422.0 475.8,422.5 476.1,423.0 476.3,423.5 476.6,424.0 476.8,424.4 477.1,424.8 477.3,425.2 477.6,425.6 477.8,426.0 478.1,426.3 478.3,426.7 478.6,427.0 478.9,427.3 479.1,427.5 479.4,427.8 479.6,428.1 479.9,428.3 480.1,428.5 480.4,428.8 480.6,429.0 480.9,429.2 481.2,429.4 481.4,429.6 481.7,429.7 481.9,429.9 482.2,430.1 482.4,430.2 482.7,430.3 482.9,430.5 483.2,430.6 483.4,430.7 483.7,430.9 484.0,431.0 484.2,431.1 484.5,431.2 484.7,431.3 485.0,431.4 485.2,431.4 485.5,431.5 485.7,431.6 486.0,431.7 486.3,431.8 486.5,431.8 486.8,431.9 487.0,432.0 487.3,432.0 487.5,432.1 487.8,432.1 488.0,432.2 488.3,432.2 488.5,432.3 488.8,432.3 489.1,432.4 489.3,432.4 489.6,432.4 489.8,432.5 490.1,432.5 490.3,432.5 490.6,432.6 490.8,432.6 491.1,432.6 491.3,432.7 491.6,432.7 491.9,432.7 492.1,432.7 492.4,432.8 492.6,432.8 492.9,432.8 493.1,432.8 493.4,432.8 493.6,432.8 493.9,432.9 494.2,432.9 494.4,432.9 494.7,432.9 494.9,432.9 495.2,432.9 495.4,433.0 495.7,433.0 495.9,433.0 496.2,433.0 496.4,433.0 496.7,433.0 497.0,433.0 497.2,433.0 497.5,433.0 497.7,433.0 498.0,433.0 498.2,433.1" fill="none" stroke="none" marker-start="url(#dc)" marker-mid="url(#dc)" marker-end="url(#dc)"/>
</svg>
<svg x="499.8" y="255.8" width="65.4" height="185.9" viewBox="499.8 255.8 65.4 185.9" overflow="hidden">
<polyline points="499.8,345.6 500.1,345.6 500.3,345.6 500.6,345.7 500.8,345.7 501.1,345.7 501.3,345.7 501.6,345.8 501.8,345.8 502.1,345.8 502.4,345.8 502.6,345.9 502.9,345.9 503.1,345.9 503.4,345.9 503.6,346.0 503.9,346.0 504.1,346.0 504.4,346.0 504.7,346.1 504.9,346.1 505.2,346.1 505.4,346.1 505.7,346.2 505.9,346.2 506.2,346.2 506.4,346.2 506.7,346.3 506.9,346.3 507.2,346.3 507.5,346.3 507.7,346.4 508.0,346.4 508.2,346.4 508.5,346.4 508.7,346.5 509.0,346.5 509.2,346.5 509.5,346.5 509.8,346.6 510.0,346.6 510.3,346.6 510.5,346.6 510.8,346.6 511.0,346.7 511.3,346.7 511.5,346.7 511.8,346.7 512.1,346.8 512.3,346.8 512.6,346.8 512.8,346.8 513.1,346.6 513.3,346.4 513.6,346.1 513.8,344.2 514.1,341.8 514.4,339.8 514.6,338.0 514.9,336.5 515.1,335.2 515.4,334.1 515.6,333.1 515.9,332.2 516.1,331.5 516.4,330.8 516.7,330.2 516.9,329.7 517.2,329.2 517.4,328.8 517.7,328.5 517.9,328.2 518.2,327.9 518.4,327.6 518.7,327.4 518.9,327.2 519.2,327.0 519.5,326.8 519.7,326.6 520.0,326.4 520.2,326.3 520.5,326.2 520.7,326.0 521.0,325.9 521.2,325.8 521.5,325.7 521.8,325.6 522.0,325.5 522.3,325.4 522.5,325.3 522.8,325.3 523.0,325.2 523.3,325.1 523.5,325.0 523.8,325.0 524.1,324.9 524.3,324.8 524.6,324.8 524.8,324.7 525.1,324.7 525.3,324.6 525.6,324.6 525.8,324.5 526.1,324.5 526.4,324.4 526.6,324.4 526.9,324.3 527.1,324.3 527.4,324.2 527.6,324.2 527.9,324.2 528.1,324.1 528.4,324.1 528.7,324.0 528.9,324.0 529.2,324.0 529.4,323.9 529.7,323.9 529.9,323.9 530.2,323.9 530.4,323.8 530.7,323.8 530.9,323.8 531.2,323.8 531.5,323.7 531.7,323.7 532.0,323.7 532.2,323.7 532.5,323.6 532.7,323.6 533.0,323.6 533.2,323.6 533.5,323.6 533.8,323.5 534.0,323.5 534.3,323.5 534.5,323.5 534.8,323.5 535.0,323.5 535.3,323.4 535.5,323.4 535.8,323.4 536.1,323.4 536.3,323.4 536.6,323.4 536.8,323.4 537.1,323.4 537.3,323.3 537.6,323.3 537.8,323.3 538.1,323.3 538.4,323.3 538.6,323.3 538.9,323.3 539.1,323.6 539.4,324.4 539.6,325.2 539.9,326.0 540.1,326.7 540.4,327.5 540.7,328.2 540.9,328.8 541.2,329.5 541.4,330.1 541.7,330.7 541.9,331.3 542.2,331.8 542.4,332.3 542.7,332.9 542.9,333.4 543.2,333.8 543.5,334.3 543.7,334.7 544.0,335.2 544.2,335.6 544.5,336.0 544.7,336.3 545.0,336.7 545.2,337.1 545.5,337.4 545.8,337.7 546.0,338.0 546.3,338.4 546.5,338.6 546.8,338.9 547.0,339.2 547.3,339.5 547.5,339.7 547.8,340.0 548.1,340.2 548.3,340.4 548.6,340.6 548.8,340.8 549.1,341.0 549.3,341.2 549.6,341.4 549.8,341.6 550.1,341.8 550.4,341.9 550.6,342.1 550.9,342.3 551.1,342.4 551.4,342.5 551.6,342.7 551.9,342.8 552.1,342.9 552.4,343.1 552.7,343.2 552.9,343.3 553.2,343.4 553.4,343.5 553.7,343.6 553.9,343.7 554.2,343.8 554.4,343.9 554.7,344.0 554.9,344.1 555.2,344.2 555.5,344.2 555.7,344.3 556.0,344.4 556.2,344.5 556.5,344.5 556.7,344.6 557.0,344.7 557.2,344.7 557.5,344.8 557.8,344.8 558.0,344.9 558.3,344.9 558.5,345.0 558.8,345.0 559.0,345.1 559.3,345.1 559.5,345.2 559.8,345.2 560.1,345.3 560.3,345.3 560.6,345.3 560.8,345.4 561.1,345.4 561.3,345.4 561.6,345.5 561.8,345.5 562.1,345.5 562.4,345.6 562.6,345.6 562.9,345.6 563.1,345.6 563.4,345.7 563.6,345.7" fill="none" stroke="none" marker-start="url(#dt)" marker-mid="url(#dt)" marker-end="url(#dt)"/>
</svg>
<svg x="604.6" y="255.8" width="65.1" height="185.9" viewBox="604.6 255.8 65.1 185.9" overflow="hidden">
<polyline points="604.6,310.0 604.9,310.3 605.1,310.6 605.4,310.9 605.6,311.2 605.9,311.5 606.2,311.7 606.4,312.0 606.7,312.2 606.9,312.4 607.2,312.7 607.5,312.9 607.7,313.1 608.0,313.3 608.2,313.5 608.5,313.7 608.8,313.8 609.0,314.0 609.3,314.2 609.5,314.3 609.8,314.5 610.1,314.6 610.3,314.7 610.6,314.9 610.8,315.0 611.1,315.1 611.4,315.2 611.6,315.3 611.9,315.5 612.2,315.6 612.4,315.7 612.7,315.8 612.9,315.8 613.2,315.9 613.5,316.0 613.7,316.1 614.0,316.2 614.2,316.3 614.5,316.3 614.8,316.4 615.0,316.5 615.3,316.5 615.5,316.6 615.8,316.6 616.1,316.7 616.3,316.8 616.6,316.8 616.8,316.9 617.1,316.9 617.4,317.0 617.6,317.0 617.9,317.5 618.0,313.4 618.2,310.0 618.3,307.0 618.4,304.1 618.6,301.3 618.7,298.5 618.9,295.9 619.0,293.3 619.1,290.7 619.3,288.2 619.4,285.8 619.6,283.3 619.7,281.0 619.8,280.8 620.0,280.6 620.1,280.4 620.3,280.2 620.4,280.0 620.6,279.8 620.7,279.6 620.8,279.4 621.0,279.3 621.1,279.1 621.3,278.9 621.4,278.8 621.5,278.6 621.7,278.5 621.8,278.3 622.0,278.2 622.1,278.1 622.2,277.9 622.4,277.8 622.5,277.7 622.7,277.5 622.8,277.4 622.9,277.3 623.1,277.2 623.2,277.1 623.4,277.0 623.5,276.9 623.6,276.8 623.8,276.7 623.9,276.6 624.1,276.5 624.2,276.4 624.3,276.3 624.5,276.2 624.6,276.1 624.8,276.0 624.9,276.0 625.1,275.9 625.2,275.8 625.3,275.7 625.5,275.7 625.6,275.6 625.8,275.5 625.9,275.4 626.0,275.4 626.2,275.3 626.3,275.3 626.5,275.2 626.6,275.1 626.7,275.1 626.9,275.0 627.0,275.0 627.2,274.9 627.3,274.9 627.4,274.8 627.6,274.8 627.7,274.7 627.9,274.7 628.0,274.6 628.1,274.6 628.3,274.6 628.4,274.5 628.6,274.5 628.7,274.4 628.8,274.4 629.0,274.4 629.1,274.3 629.3,274.3 629.4,274.3 629.6,274.2 629.7,274.2 629.8,274.2 630.0,274.1 630.1,274.1 630.3,274.1 630.4,274.0 630.5,274.0 630.7,274.0 630.8,274.0 631.0,273.9 631.1,273.9 631.2,273.9 631.4,273.9 631.5,273.8 631.7,273.8 631.8,273.8 631.9,273.8 632.1,273.8 632.2,273.7 632.4,273.7 632.5,273.7 632.6,273.7 632.8,273.7 632.9,273.6 633.1,273.6 633.2,273.6 633.3,273.6 633.5,273.6 633.6,273.6 633.8,273.6 633.9,273.5 634.1,273.5 634.2,273.5 634.3,273.5 634.5,273.5 634.6,273.5 634.8,273.5 634.9,273.5 635.0,273.4 635.2,273.4 635.3,273.4 635.5,273.4 635.6,273.4 635.7,273.4 635.9,273.4 636.0,273.4 636.2,273.4 636.3,273.3 636.4,273.3 636.6,273.3 636.7,273.3 636.9,273.3 637.0,273.3 637.1,273.3 637.3,273.3 637.4,273.3 637.6,273.3 637.7,273.3 637.8,273.3 638.0,273.3 638.1,273.3 638.3,273.2 638.4,273.2 638.6,273.2 638.7,273.2 638.8,273.2 639.0,273.2 639.1,273.2 639.3,273.2 639.4,273.2 639.5,273.2 639.7,273.2 639.8,273.2 640.0,273.2 640.1,273.2 640.2,273.2 640.4,273.2 640.5,273.2 640.7,273.2 640.8,273.2 640.9,273.2 641.1,273.2 641.2,273.1 641.4,273.1 641.5,273.1 641.6,273.1 641.8,273.1 641.9,273.1 642.1,273.1 642.2,273.1 642.3,273.1 642.5,273.1 642.6,273.1 642.8,273.1 642.9,273.1 643.1,273.1 643.2,273.1 643.3,273.1 643.5,273.1 643.6,273.1 643.8,273.3 644.0,274.2 644.3,275.2 644.6,276.2 644.9,277.2 645.2,278.2 645.5,279.3 645.8,280.3 646.0,281.3 646.3,282.4 646.6,283.4 646.9,284.3 647.2,285.3 647.5,286.3 647.8,287.2 648.1,288.1 648.3,289.0 648.6,289.9 648.9,290.8 649.2,291.6 649.5,292.4 649.8,293.2 650.1,294.0 650.3,294.8 650.6,295.5 650.9,296.2 651.2,296.9 651.5,297.6 651.8,298.2 652.1,298.9 652.3,299.5 652.6,300.1 652.9,300.7 653.2,301.3 653.5,301.8 653.8,302.3 654.1,302.9 654.4,303.4 654.6,303.8 654.9,304.3 655.2,304.8 655.5,305.2 655.8,305.6 656.1,306.0 656.4,306.4 656.6,306.8 656.9,307.2 657.2,307.6 657.5,307.9 657.8,308.2 658.1,308.6 658.4,308.9 658.6,309.2 658.9,309.5 659.2,309.8 659.5,310.0 659.8,310.3 660.1,310.6 660.4,310.8 660.7,311.0 660.9,311.3 661.2,311.5 661.5,311.7 661.8,311.9 662.1,312.1 662.4,312.3 662.7,312.5 662.9,312.7 663.2,312.8 663.5,313.0 663.8,313.1 664.1,313.3 664.4,313.4 664.7,313.6 665.0,313.7 665.2,313.9 665.5,314.0 665.8,314.1 666.1,314.2 666.4,314.3 666.7,314.4 667.0,314.6 667.2,314.7 667.5,314.7 667.8,314.8 668.1,314.9" fill="none" stroke="none" marker-start="url(#dr)" marker-mid="url(#dr)" marker-end="url(#dr)"/>
</svg>
<path d="M369.6 255.8H565.2V441.7H369.6ZM434.5 255.8V441.7M499.8 255.8V441.7" fill="none" stroke="#111" stroke-width="1.6"/>
<rect x="604.6" y="255.8" width="65.1" height="185.9" fill="none" stroke="#111" stroke-width="1.6"/>
<path d="M383.1 319.7L390.35 329.5L386.4 329.5L386.4 341.3L379.8 341.3L379.8 329.5L375.85 329.5Z" fill="#0f8080" stroke="#0f8080" stroke-width="0.6" stroke-linejoin="miter"/>
<path d="M408.1 319.7L414.8 328.9L410.9 328.9L410.9 341.3L405.3 341.3L405.3 328.9L401.4 328.9Z" fill="#ffffff" stroke="#0f8080" stroke-width="1.2" stroke-linejoin="miter"/>
<path d="M448.1 409.1L455 401.7L451 401.7L451 388.1L445.2 388.1L445.2 401.7L441.2 401.7Z" fill="#3a3a3a" stroke="#3a3a3a" stroke-width="0.6" stroke-linejoin="miter"/>
<path d="M473 409.5L480.25 402.1L475.8 402.1L475.8 388.1L470.2 388.1L470.2 402.1L465.75 402.1Z" fill="#ffffff" stroke="#333333" stroke-width="1.2" stroke-linejoin="miter"/>
<path d="M511.4 317.8L518.7 310.3L514.9 310.3L514.9 297.2L507.9 297.2L507.9 310.3L504.1 310.3Z" fill="#000000" stroke="#000000" stroke-width="0.6" stroke-linejoin="miter"/>
<path d="M536.5 317.8L543.5 310.3L539.3 310.3L539.3 297.2L533.7 297.2L533.7 310.3L529.5 310.3Z" fill="#ffffff" stroke="#111111" stroke-width="1.2" stroke-linejoin="miter"/>
<path d="M617.8 325L625.05 332.5L621.4 332.5L621.4 345.6L614.2 345.6L614.2 332.5L610.55 332.5Z" fill="#ff0000" stroke="#ff0000" stroke-width="0.6" stroke-linejoin="miter"/>
<path d="M642.8 325L649.8 332.5L645.8 332.5L645.8 345.6L639.8 345.6L639.8 332.5L635.8 332.5Z" fill="#ffffff" stroke="#e01010" stroke-width="1.2" stroke-linejoin="miter"/>
<line x1="372" y1="373.4" x2="406" y2="373.4" stroke="#0f8080" stroke-width="1.5"/>
<path d="M386.4 371.3h4.2v4.2h-4.2z" fill="#c8f0f0" stroke="#0f8080" stroke-width="0.9"/>
<line x1="437" y1="320.6" x2="472" y2="320.6" stroke="#3a3a3a" stroke-width="1.5"/>
<path d="M451.6 320.6a2.4 2.4 0 1 0 4.8 0a2.4 2.4 0 1 0 -4.8 0z" fill="#fff" stroke="#3a3a3a" stroke-width="0.9"/>
<line x1="502" y1="365" x2="536.6" y2="365" stroke="#111" stroke-width="1.5"/>
<path d="M520 362.06l3.08 5.6h-6.16z" fill="#fff" stroke="#111" stroke-width="0.9"/>
<line x1="608.4" y1="363.8" x2="642.1" y2="363.8" stroke="#e03030" stroke-width="1.5"/>
<path d="M622.7 363.8a2.6 2.6 0 1 0 5.2 0a2.6 2.6 0 1 0 -5.2 0z" fill="#ffe0e0" stroke="#e03030" stroke-width="0.9"/>
<text x="375.9" y="351" style="font-family:'Liberation Serif',serif;font-weight:bold;stroke:#000;stroke-width:0.3px;font-size:13px" text-anchor="start" fill="#000" textLength="17.1" lengthAdjust="spacingAndGlyphs" >gas</text>
<text x="402.2" y="351" style="font-family:'Liberation Serif',serif;font-weight:bold;stroke:#000;stroke-width:0.3px;font-size:13px" text-anchor="start" fill="#000" textLength="13.2" lengthAdjust="spacingAndGlyphs" >air</text>
<text x="372.2" y="397.2" style="font-family:'Liberation Serif',serif;font-weight:bold;stroke:#000;stroke-width:0.3px;font-size:12.5px" text-anchor="start" fill="#000" textLength="57.3" lengthAdjust="spacingAndGlyphs" ><tspan dy="0">ZnCo</tspan><tspan dy="6.2" style="font-size:13px">2</tspan><tspan dy="-6.2">O</tspan><tspan dy="6.2" style="font-size:13px">4</tspan></text>
<text x="372.2" y="421.1" style="font-family:'Liberation Serif',serif;font-weight:bold;stroke:#000;stroke-width:0.3px;font-size:13px" text-anchor="start" fill="#000" textLength="47.8" lengthAdjust="spacingAndGlyphs" >Powder</text>
<text x="437" y="344.1" style="font-family:'Liberation Serif',serif;font-weight:bold;stroke:#000;stroke-width:0.3px;font-size:12.5px" text-anchor="start" fill="#000" textLength="60" lengthAdjust="spacingAndGlyphs" ><tspan dy="0">ZnCo</tspan><tspan dy="6.2" style="font-size:13px">2</tspan><tspan dy="-6.2">O</tspan><tspan dy="6.2" style="font-size:13px">4</tspan></text>
<text x="437.8" y="368" style="font-family:'Liberation Serif',serif;font-weight:bold;stroke:#000;stroke-width:0.3px;font-size:13px" text-anchor="start" fill="#000" textLength="16.8" lengthAdjust="spacingAndGlyphs" >HS</text>
<text x="440.5" y="381.5" style="font-family:'Liberation Serif',serif;font-weight:bold;stroke:#000;stroke-width:0.3px;font-size:13px" text-anchor="start" fill="#000" textLength="19.9" lengthAdjust="spacingAndGlyphs" >gas</text>
<text x="467.8" y="381.5" style="font-family:'Liberation Serif',serif;font-weight:bold;stroke:#000;stroke-width:0.3px;font-size:13px" text-anchor="start" fill="#000" textLength="14.7" lengthAdjust="spacingAndGlyphs" >air</text>
<text x="506.6" y="291.5" style="font-family:'Liberation Serif',serif;font-weight:bold;stroke:#000;stroke-width:0.3px;font-size:13px" text-anchor="start" fill="#000" textLength="15.9" lengthAdjust="spacingAndGlyphs" >gas</text>
<text x="532.8" y="291.5" style="font-family:'Liberation Serif',serif;font-weight:bold;stroke:#000;stroke-width:0.3px;font-size:13px" text-anchor="start" fill="#000" textLength="13.2" lengthAdjust="spacingAndGlyphs" >air</text>
<text x="502" y="387" style="font-family:'Liberation Serif',serif;font-weight:bold;stroke:#000;stroke-width:0.3px;font-size:13px" text-anchor="start" fill="#000" textLength="29" lengthAdjust="spacingAndGlyphs" >ZnO/</text>
<text x="502" y="407" style="font-family:'Liberation Serif',serif;font-weight:bold;stroke:#000;stroke-width:0.3px;font-size:12.5px" text-anchor="start" fill="#000" textLength="60" lengthAdjust="spacingAndGlyphs" ><tspan dy="0">ZnCo</tspan><tspan dy="6.2" style="font-size:13px">2</tspan><tspan dy="-6.2">O</tspan><tspan dy="6.2" style="font-size:13px">4</tspan></text>
<text x="502" y="429.4" style="font-family:'Liberation Serif',serif;font-weight:bold;stroke:#000;stroke-width:0.3px;font-size:13px" text-anchor="start" fill="#000" textLength="16.8" lengthAdjust="spacingAndGlyphs" >HS</text>
<text x="612.1" y="356" style="font-family:'Liberation Serif',serif;font-weight:bold;stroke:#000;stroke-width:0.3px;font-size:13px" text-anchor="start" fill="#000" textLength="16.3" lengthAdjust="spacingAndGlyphs" >gas</text>
<text x="637.8" y="356" style="font-family:'Liberation Serif',serif;font-weight:bold;stroke:#000;stroke-width:0.3px;font-size:13px" text-anchor="start" fill="#000" textLength="13.5" lengthAdjust="spacingAndGlyphs" >air</text>
<text x="607.7" y="389" style="font-family:'Liberation Serif',serif;font-weight:bold;stroke:#000;stroke-width:0.3px;font-size:13px" text-anchor="start" fill="#000" textLength="52" lengthAdjust="spacingAndGlyphs" >Pd-ZnO/</text>
<text x="607.7" y="408.2" style="font-family:'Liberation Serif',serif;font-weight:bold;stroke:#000;stroke-width:0.3px;font-size:12.5px" text-anchor="start" fill="#000" textLength="59.7" lengthAdjust="spacingAndGlyphs" ><tspan dy="0">ZnCo</tspan><tspan dy="6.2" style="font-size:13px">2</tspan><tspan dy="-6.2">O</tspan><tspan dy="6.2" style="font-size:13px">4</tspan></text>
<text x="607.7" y="429.4" style="font-family:'Liberation Serif',serif;font-weight:bold;stroke:#000;stroke-width:0.3px;font-size:13px" text-anchor="start" fill="#000" textLength="16.8" lengthAdjust="spacingAndGlyphs" >HS</text>
<text x="369.6" y="456.6" style="font-family:'Liberation Serif',serif;font-weight:bold;stroke:#000;stroke-width:0.3px;font-size:13.6px" text-anchor="middle" fill="#000" >0</text>
<text x="395.56" y="456.6" style="font-family:'Liberation Serif',serif;font-weight:bold;stroke:#000;stroke-width:0.3px;font-size:13.6px" text-anchor="middle" fill="#000" >10</text>
<text x="421.52" y="456.6" style="font-family:'Liberation Serif',serif;font-weight:bold;stroke:#000;stroke-width:0.3px;font-size:13.6px" text-anchor="middle" fill="#000" >20</text>
<text x="434.5" y="456.6" style="font-family:'Liberation Serif',serif;font-weight:bold;stroke:#000;stroke-width:0.3px;font-size:13.6px" text-anchor="middle" fill="#000" >0</text>
<text x="460.62" y="456.6" style="font-family:'Liberation Serif',serif;font-weight:bold;stroke:#000;stroke-width:0.3px;font-size:13.6px" text-anchor="middle" fill="#000" >10</text>
<text x="486.74" y="456.6" style="font-family:'Liberation Serif',serif;font-weight:bold;stroke:#000;stroke-width:0.3px;font-size:13.6px" text-anchor="middle" fill="#000" >20</text>
<text x="499.8" y="456.6" style="font-family:'Liberation Serif',serif;font-weight:bold;stroke:#000;stroke-width:0.3px;font-size:13.6px" text-anchor="middle" fill="#000" >0</text>
<text x="525.96" y="456.6" style="font-family:'Liberation Serif',serif;font-weight:bold;stroke:#000;stroke-width:0.3px;font-size:13.6px" text-anchor="middle" fill="#000" >10</text>
<text x="552.12" y="456.6" style="font-family:'Liberation Serif',serif;font-weight:bold;stroke:#000;stroke-width:0.3px;font-size:13.6px" text-anchor="middle" fill="#000" >20</text>
<text x="604.6" y="456.6" style="font-family:'Liberation Serif',serif;font-weight:bold;stroke:#000;stroke-width:0.3px;font-size:13.6px" text-anchor="middle" fill="#000" >0</text>
<text x="630.64" y="456.6" style="font-family:'Liberation Serif',serif;font-weight:bold;stroke:#000;stroke-width:0.3px;font-size:13.6px" text-anchor="middle" fill="#000" >10</text>
<text x="656.68" y="456.6" style="font-family:'Liberation Serif',serif;font-weight:bold;stroke:#000;stroke-width:0.3px;font-size:13.6px" text-anchor="middle" fill="#000" >20</text>
<text x="365.5" y="388.91" style="font-family:'Liberation Serif',serif;font-weight:bold;stroke:#000;stroke-width:0.3px;font-size:13.6px" text-anchor="end" fill="#000" >200</text>
<text x="365.5" y="333.52" style="font-family:'Liberation Serif',serif;font-weight:bold;stroke:#000;stroke-width:0.3px;font-size:13.6px" text-anchor="end" fill="#000" >400</text>
<text x="365.5" y="301.12" style="font-family:'Liberation Serif',serif;font-weight:bold;stroke:#000;stroke-width:0.3px;font-size:13.6px" text-anchor="end" fill="#000" >600</text>
<text x="365.5" y="278.13" style="font-family:'Liberation Serif',serif;font-weight:bold;stroke:#000;stroke-width:0.3px;font-size:13.6px" text-anchor="end" fill="#000" >800</text>
<text x="365.5" y="260.3" style="font-family:'Liberation Serif',serif;font-weight:bold;stroke:#000;stroke-width:0.3px;font-size:13.6px" text-anchor="end" fill="#000" >1000</text>
<text x="600.6" y="389.61" style="font-family:'Liberation Serif',serif;font-weight:bold;stroke:#000;stroke-width:0.3px;font-size:13.6px" text-anchor="end" fill="#000" >2</text>
<text x="600.6" y="333.92" style="font-family:'Liberation Serif',serif;font-weight:bold;stroke:#000;stroke-width:0.3px;font-size:13.6px" text-anchor="end" fill="#000" >4</text>
<text x="600.6" y="301.34" style="font-family:'Liberation Serif',serif;font-weight:bold;stroke:#000;stroke-width:0.3px;font-size:13.6px" text-anchor="end" fill="#000" >6</text>
<text x="600.6" y="278.23" style="font-family:'Liberation Serif',serif;font-weight:bold;stroke:#000;stroke-width:0.3px;font-size:13.6px" text-anchor="end" fill="#000" >8</text>
<text x="600.6" y="260.3" style="font-family:'Liberation Serif',serif;font-weight:bold;stroke:#000;stroke-width:0.3px;font-size:13.6px" text-anchor="end" fill="#000" >10</text>
<text x="427.9" y="472.4" style="font-family:'Liberation Serif',serif;font-weight:bold;stroke:#000;stroke-width:0.3px;font-size:18.6px" text-anchor="start" fill="#000" textLength="87.6" lengthAdjust="spacingAndGlyphs" >Time (min)</text>
<text x="592.8" y="473" style="font-family:'Liberation Serif',serif;font-weight:bold;stroke:#000;stroke-width:0.3px;font-size:18.6px" text-anchor="start" fill="#000" textLength="89.4" lengthAdjust="spacingAndGlyphs" >Time (min)</text>
<text transform="translate(334.5 345.6) rotate(-90)" style="font-family:'Liberation Serif',serif;font-weight:bold;stroke:#000;stroke-width:0.3px;font-size:19px" text-anchor="middle" fill="#000" textLength="117.0" lengthAdjust="spacingAndGlyphs">Resistance (&#937;)</text>
<text transform="translate(589.6 342.5) rotate(-90)" style="font-family:'Liberation Serif',serif;font-weight:bold;stroke:#000;stroke-width:0.3px;font-size:19px" text-anchor="middle" fill="#000" textLength="127.5" lengthAdjust="spacingAndGlyphs">Resistance (k&#937;)</text>
<text x="313" y="253.7" style="font-family:'Liberation Sans',sans-serif;font-weight:bold;font-size:19.6px" text-anchor="start" fill="#000" >(d)</text>
</svg></body></html>
